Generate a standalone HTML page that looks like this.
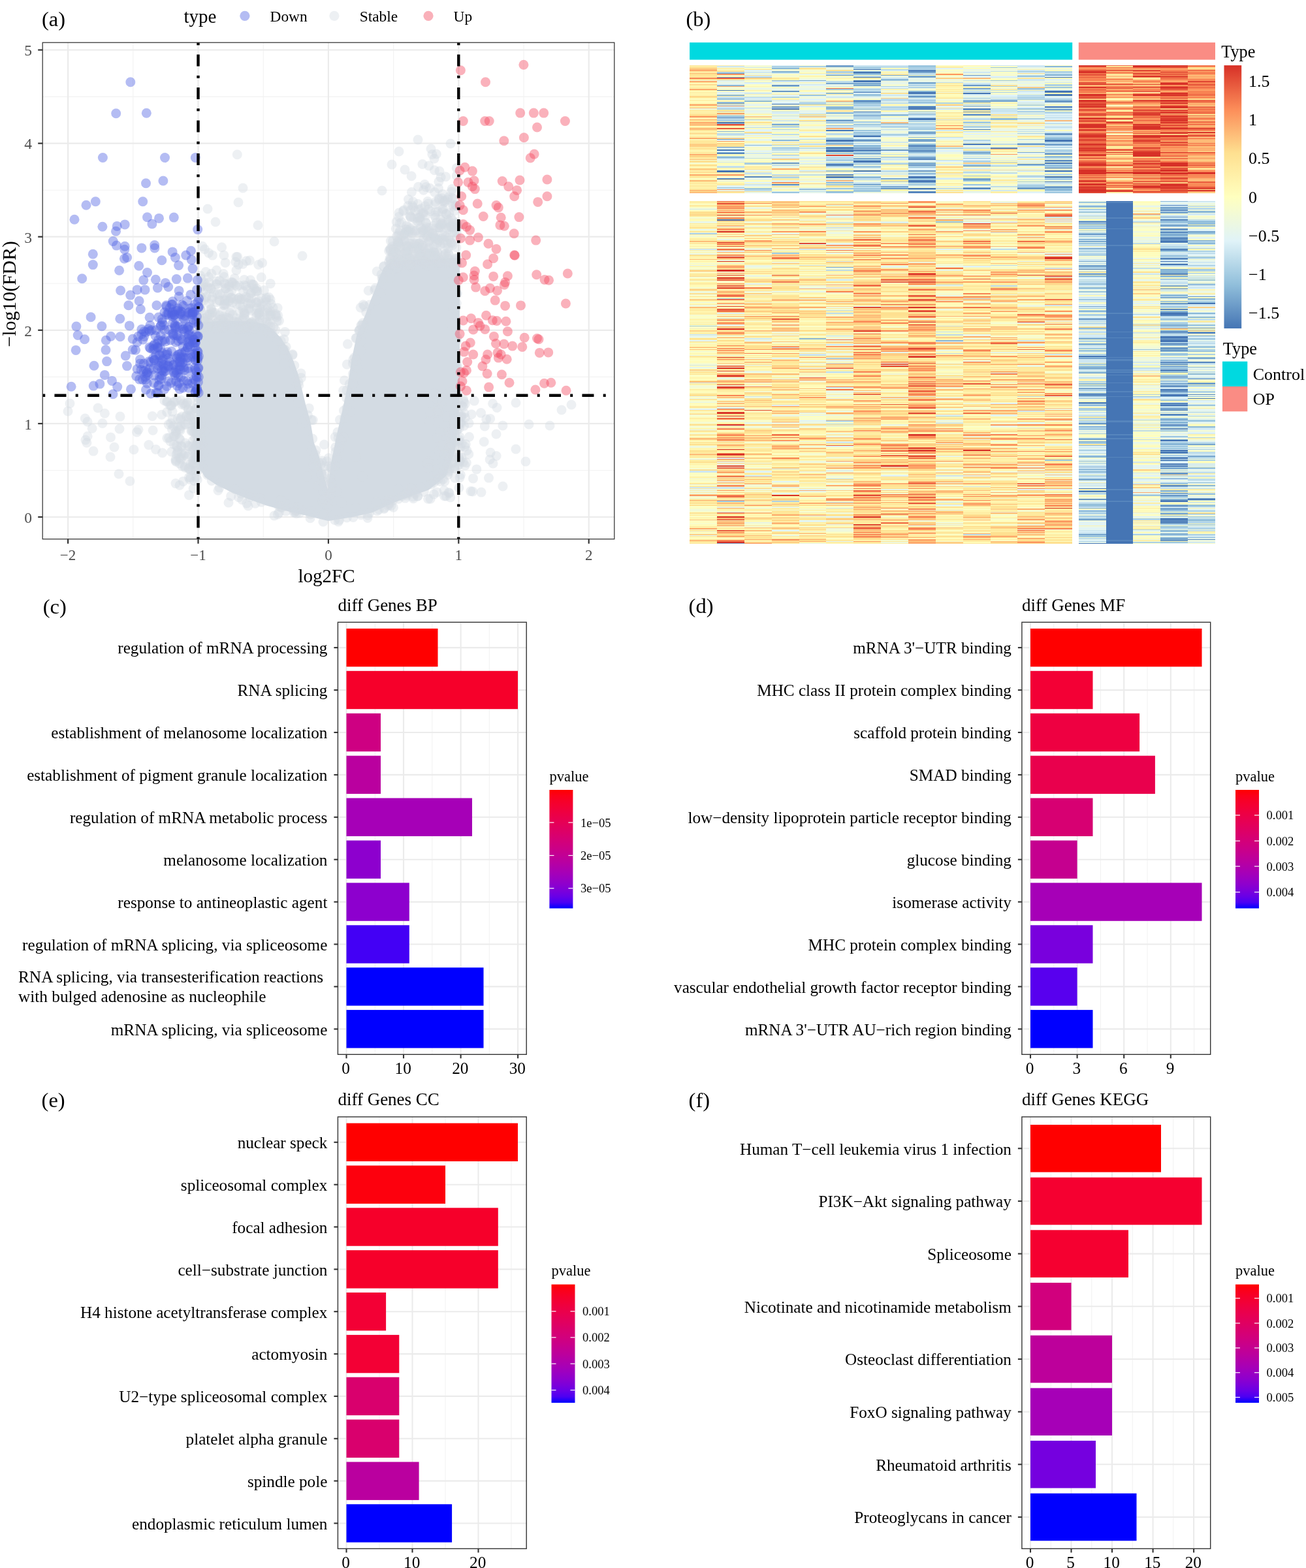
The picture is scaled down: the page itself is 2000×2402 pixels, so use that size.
<!DOCTYPE html>
<html><head><meta charset="utf-8"><title>Figure</title>
<style>html,body{margin:0;padding:0;background:#fff;width:2000px;height:2402px;} ::-webkit-scrollbar{display:none;} svg{display:block;} text{font-family:'Liberation Serif','Times New Roman',serif;}</style>
</head><body>
<svg width="2000" height="2402" viewBox="0 0 2000 2402">
<rect width="2000" height="2402" fill="#fff"/>
<text x="65.7" y="939.6" font-size="32.5" text-anchor="start" fill="#000">(c)</text>
<line x1="574.3" y1="953.2" x2="574.3" y2="1615.3" stroke="#f2f2f2" stroke-width="1.1"/>
<line x1="661.8" y1="953.2" x2="661.8" y2="1615.3" stroke="#f2f2f2" stroke-width="1.1"/>
<line x1="749.3" y1="953.2" x2="749.3" y2="1615.3" stroke="#f2f2f2" stroke-width="1.1"/>
<line x1="530.5" y1="953.2" x2="530.5" y2="1615.3" stroke="#ebebeb" stroke-width="2.1"/>
<line x1="618" y1="953.2" x2="618" y2="1615.3" stroke="#ebebeb" stroke-width="2.1"/>
<line x1="705.6" y1="953.2" x2="705.6" y2="1615.3" stroke="#ebebeb" stroke-width="2.1"/>
<line x1="793.1" y1="953.2" x2="793.1" y2="1615.3" stroke="#ebebeb" stroke-width="2.1"/>
<line x1="517.4" y1="992.1" x2="806.2" y2="992.1" stroke="#ebebeb" stroke-width="2.1"/>
<line x1="517.4" y1="1057.1" x2="806.2" y2="1057.1" stroke="#ebebeb" stroke-width="2.1"/>
<line x1="517.4" y1="1122" x2="806.2" y2="1122" stroke="#ebebeb" stroke-width="2.1"/>
<line x1="517.4" y1="1186.9" x2="806.2" y2="1186.9" stroke="#ebebeb" stroke-width="2.1"/>
<line x1="517.4" y1="1251.8" x2="806.2" y2="1251.8" stroke="#ebebeb" stroke-width="2.1"/>
<line x1="517.4" y1="1316.7" x2="806.2" y2="1316.7" stroke="#ebebeb" stroke-width="2.1"/>
<line x1="517.4" y1="1381.6" x2="806.2" y2="1381.6" stroke="#ebebeb" stroke-width="2.1"/>
<line x1="517.4" y1="1446.5" x2="806.2" y2="1446.5" stroke="#ebebeb" stroke-width="2.1"/>
<line x1="517.4" y1="1511.4" x2="806.2" y2="1511.4" stroke="#ebebeb" stroke-width="2.1"/>
<line x1="517.4" y1="1576.4" x2="806.2" y2="1576.4" stroke="#ebebeb" stroke-width="2.1"/>
<rect x="530.5" y="962.9" width="140" height="58.4" fill="#ff0000"/>
<rect x="530.5" y="1027.8" width="262.5" height="58.4" fill="#f6002a"/>
<rect x="530.5" y="1092.8" width="52.5" height="58.4" fill="#ce0082"/>
<rect x="530.5" y="1157.7" width="52.5" height="58.4" fill="#ba009f"/>
<rect x="530.5" y="1222.6" width="192.5" height="58.4" fill="#a600b7"/>
<rect x="530.5" y="1287.5" width="52.5" height="58.4" fill="#8d00ce"/>
<rect x="530.5" y="1352.4" width="96.3" height="58.4" fill="#8d00ce"/>
<rect x="530.5" y="1417.3" width="96.3" height="58.4" fill="#4300f5"/>
<rect x="530.5" y="1482.2" width="210" height="58.4" fill="#0000ff"/>
<rect x="530.5" y="1547.1" width="210" height="58.4" fill="#0000ff"/>
<rect x="517.4" y="953.2" width="288.8" height="662.1" fill="none" stroke="#333333" stroke-width="1.4"/>
<line x1="511.4" y1="992.1" x2="517.4" y2="992.1" stroke="#333333" stroke-width="2.1"/>
<text x="501.4" y="1001.4" font-size="25.2" text-anchor="end" fill="#000">regulation of mRNA processing</text>
<line x1="511.4" y1="1057.1" x2="517.4" y2="1057.1" stroke="#333333" stroke-width="2.1"/>
<text x="501.4" y="1066.4" font-size="25.2" text-anchor="end" fill="#000">RNA splicing</text>
<line x1="511.4" y1="1122" x2="517.4" y2="1122" stroke="#333333" stroke-width="2.1"/>
<text x="501.4" y="1131.3" font-size="25.2" text-anchor="end" fill="#000">establishment of melanosome localization</text>
<line x1="511.4" y1="1186.9" x2="517.4" y2="1186.9" stroke="#333333" stroke-width="2.1"/>
<text x="501.4" y="1196.2" font-size="25.2" text-anchor="end" fill="#000">establishment of pigment granule localization</text>
<line x1="511.4" y1="1251.8" x2="517.4" y2="1251.8" stroke="#333333" stroke-width="2.1"/>
<text x="501.4" y="1261.1" font-size="25.2" text-anchor="end" fill="#000">regulation of mRNA metabolic process</text>
<line x1="511.4" y1="1316.7" x2="517.4" y2="1316.7" stroke="#333333" stroke-width="2.1"/>
<text x="501.4" y="1326" font-size="25.2" text-anchor="end" fill="#000">melanosome localization</text>
<line x1="511.4" y1="1381.6" x2="517.4" y2="1381.6" stroke="#333333" stroke-width="2.1"/>
<text x="501.4" y="1390.9" font-size="25.2" text-anchor="end" fill="#000">response to antineoplastic agent</text>
<line x1="511.4" y1="1446.5" x2="517.4" y2="1446.5" stroke="#333333" stroke-width="2.1"/>
<text x="501.4" y="1455.8" font-size="25.2" text-anchor="end" fill="#000">regulation of mRNA splicing, via spliceosome</text>
<line x1="511.4" y1="1511.4" x2="517.4" y2="1511.4" stroke="#333333" stroke-width="2.1"/>
<line x1="511.4" y1="1576.4" x2="517.4" y2="1576.4" stroke="#333333" stroke-width="2.1"/>
<text x="501.4" y="1585.7" font-size="25.2" text-anchor="end" fill="#000">mRNA splicing, via spliceosome</text>
<line x1="530.5" y1="1615.3" x2="530.5" y2="1621.3" stroke="#333333" stroke-width="2.1"/>
<text x="529.7" y="1644.8" font-size="25.3" text-anchor="middle" fill="#000">0</text>
<line x1="618" y1="1615.3" x2="618" y2="1621.3" stroke="#333333" stroke-width="2.1"/>
<text x="617.2" y="1644.8" font-size="25.3" text-anchor="middle" fill="#000">10</text>
<line x1="705.6" y1="1615.3" x2="705.6" y2="1621.3" stroke="#333333" stroke-width="2.1"/>
<text x="704.8" y="1644.8" font-size="25.3" text-anchor="middle" fill="#000">20</text>
<line x1="793.1" y1="1615.3" x2="793.1" y2="1621.3" stroke="#333333" stroke-width="2.1"/>
<text x="792.3" y="1644.8" font-size="25.3" text-anchor="middle" fill="#000">30</text>
<text x="517.4" y="935.6" font-size="27" text-anchor="start" fill="#000">diff Genes BP</text>
<defs><linearGradient id="g57" x1="0" y1="0" x2="0" y2="1"><stop offset="0.00" stop-color="#ff0000"/><stop offset="0.05" stop-color="#fb001a"/><stop offset="0.10" stop-color="#f6002a"/><stop offset="0.15" stop-color="#f20037"/><stop offset="0.20" stop-color="#ed0044"/><stop offset="0.25" stop-color="#e80050"/><stop offset="0.30" stop-color="#e3005b"/><stop offset="0.35" stop-color="#dd0066"/><stop offset="0.40" stop-color="#d70072"/><stop offset="0.45" stop-color="#d1007d"/><stop offset="0.50" stop-color="#ca0088"/><stop offset="0.55" stop-color="#c20094"/><stop offset="0.60" stop-color="#ba009f"/><stop offset="0.65" stop-color="#b000ab"/><stop offset="0.70" stop-color="#a600b7"/><stop offset="0.75" stop-color="#9a00c3"/><stop offset="0.80" stop-color="#8d00ce"/><stop offset="0.85" stop-color="#7c00da"/><stop offset="0.90" stop-color="#6800e7"/><stop offset="0.95" stop-color="#4b00f3"/><stop offset="1.00" stop-color="#0000ff"/></linearGradient></defs>
<rect x="841.4" y="1210" width="36" height="181.5" fill="url(#g57)"/>
<text x="841.4" y="1196.5" font-size="22.5" text-anchor="start" fill="#000">pvalue</text>
<line x1="841.4" y1="1260" x2="848.4" y2="1260" stroke="#fff" stroke-width="1.2"/>
<line x1="870.4" y1="1260" x2="877.4" y2="1260" stroke="#fff" stroke-width="1.2"/>
<text x="888.9" y="1266.5" font-size="18.6" text-anchor="start" fill="#000">1e−05</text>
<line x1="841.4" y1="1310.5" x2="848.4" y2="1310.5" stroke="#fff" stroke-width="1.2"/>
<line x1="870.4" y1="1310.5" x2="877.4" y2="1310.5" stroke="#fff" stroke-width="1.2"/>
<text x="888.9" y="1317" font-size="18.6" text-anchor="start" fill="#000">2e−05</text>
<line x1="841.4" y1="1360.8" x2="848.4" y2="1360.8" stroke="#fff" stroke-width="1.2"/>
<line x1="870.4" y1="1360.8" x2="877.4" y2="1360.8" stroke="#fff" stroke-width="1.2"/>
<text x="888.9" y="1367.3" font-size="18.6" text-anchor="start" fill="#000">3e−05</text>
<text x="28" y="1505.4" font-size="25.3" text-anchor="start" fill="#000">RNA splicing, via transesterification reactions</text>
<text x="28" y="1535.4" font-size="25.3" text-anchor="start" fill="#000">with bulged adenosine as nucleophile</text>
<text x="1054.6" y="939.4" font-size="32.5" text-anchor="start" fill="#000">(d)</text>
<line x1="1613.8" y1="953.2" x2="1613.8" y2="1615.3" stroke="#f2f2f2" stroke-width="1.1"/>
<line x1="1685.4" y1="953.2" x2="1685.4" y2="1615.3" stroke="#f2f2f2" stroke-width="1.1"/>
<line x1="1757" y1="953.2" x2="1757" y2="1615.3" stroke="#f2f2f2" stroke-width="1.1"/>
<line x1="1828.6" y1="953.2" x2="1828.6" y2="1615.3" stroke="#f2f2f2" stroke-width="1.1"/>
<line x1="1578" y1="953.2" x2="1578" y2="1615.3" stroke="#ebebeb" stroke-width="2.1"/>
<line x1="1649.6" y1="953.2" x2="1649.6" y2="1615.3" stroke="#ebebeb" stroke-width="2.1"/>
<line x1="1721.2" y1="953.2" x2="1721.2" y2="1615.3" stroke="#ebebeb" stroke-width="2.1"/>
<line x1="1792.8" y1="953.2" x2="1792.8" y2="1615.3" stroke="#ebebeb" stroke-width="2.1"/>
<line x1="1564.9" y1="992.1" x2="1853.7" y2="992.1" stroke="#ebebeb" stroke-width="2.1"/>
<line x1="1564.9" y1="1057.1" x2="1853.7" y2="1057.1" stroke="#ebebeb" stroke-width="2.1"/>
<line x1="1564.9" y1="1122" x2="1853.7" y2="1122" stroke="#ebebeb" stroke-width="2.1"/>
<line x1="1564.9" y1="1186.9" x2="1853.7" y2="1186.9" stroke="#ebebeb" stroke-width="2.1"/>
<line x1="1564.9" y1="1251.8" x2="1853.7" y2="1251.8" stroke="#ebebeb" stroke-width="2.1"/>
<line x1="1564.9" y1="1316.7" x2="1853.7" y2="1316.7" stroke="#ebebeb" stroke-width="2.1"/>
<line x1="1564.9" y1="1381.6" x2="1853.7" y2="1381.6" stroke="#ebebeb" stroke-width="2.1"/>
<line x1="1564.9" y1="1446.5" x2="1853.7" y2="1446.5" stroke="#ebebeb" stroke-width="2.1"/>
<line x1="1564.9" y1="1511.4" x2="1853.7" y2="1511.4" stroke="#ebebeb" stroke-width="2.1"/>
<line x1="1564.9" y1="1576.4" x2="1853.7" y2="1576.4" stroke="#ebebeb" stroke-width="2.1"/>
<rect x="1578" y="962.9" width="262.5" height="58.4" fill="#ff0000"/>
<rect x="1578" y="1027.8" width="95.5" height="58.4" fill="#f30035"/>
<rect x="1578" y="1092.8" width="167.1" height="58.4" fill="#ee0041"/>
<rect x="1578" y="1157.7" width="190.9" height="58.4" fill="#e9004d"/>
<rect x="1578" y="1222.6" width="95.5" height="58.4" fill="#d70072"/>
<rect x="1578" y="1287.5" width="71.6" height="58.4" fill="#c5008f"/>
<rect x="1578" y="1352.4" width="262.5" height="58.4" fill="#a600b7"/>
<rect x="1578" y="1417.3" width="95.5" height="58.4" fill="#7900dd"/>
<rect x="1578" y="1482.2" width="71.6" height="58.4" fill="#5800ee"/>
<rect x="1578" y="1547.1" width="95.5" height="58.4" fill="#0000ff"/>
<rect x="1564.9" y="953.2" width="288.8" height="662.1" fill="none" stroke="#333333" stroke-width="1.4"/>
<line x1="1558.9" y1="992.1" x2="1564.9" y2="992.1" stroke="#333333" stroke-width="2.1"/>
<text x="1548.9" y="1001.4" font-size="25.2" text-anchor="end" fill="#000">mRNA 3'−UTR binding</text>
<line x1="1558.9" y1="1057.1" x2="1564.9" y2="1057.1" stroke="#333333" stroke-width="2.1"/>
<text x="1548.9" y="1066.4" font-size="25.2" text-anchor="end" fill="#000">MHC class II protein complex binding</text>
<line x1="1558.9" y1="1122" x2="1564.9" y2="1122" stroke="#333333" stroke-width="2.1"/>
<text x="1548.9" y="1131.3" font-size="25.2" text-anchor="end" fill="#000">scaffold protein binding</text>
<line x1="1558.9" y1="1186.9" x2="1564.9" y2="1186.9" stroke="#333333" stroke-width="2.1"/>
<text x="1548.9" y="1196.2" font-size="25.2" text-anchor="end" fill="#000">SMAD binding</text>
<line x1="1558.9" y1="1251.8" x2="1564.9" y2="1251.8" stroke="#333333" stroke-width="2.1"/>
<text x="1548.9" y="1261.1" font-size="25.2" text-anchor="end" fill="#000">low−density lipoprotein particle receptor binding</text>
<line x1="1558.9" y1="1316.7" x2="1564.9" y2="1316.7" stroke="#333333" stroke-width="2.1"/>
<text x="1548.9" y="1326" font-size="25.2" text-anchor="end" fill="#000">glucose binding</text>
<line x1="1558.9" y1="1381.6" x2="1564.9" y2="1381.6" stroke="#333333" stroke-width="2.1"/>
<text x="1548.9" y="1390.9" font-size="25.2" text-anchor="end" fill="#000">isomerase activity</text>
<line x1="1558.9" y1="1446.5" x2="1564.9" y2="1446.5" stroke="#333333" stroke-width="2.1"/>
<text x="1548.9" y="1455.8" font-size="25.2" text-anchor="end" fill="#000">MHC protein complex binding</text>
<line x1="1558.9" y1="1511.4" x2="1564.9" y2="1511.4" stroke="#333333" stroke-width="2.1"/>
<text x="1548.9" y="1520.7" font-size="25.2" text-anchor="end" fill="#000">vascular endothelial growth factor receptor binding</text>
<line x1="1558.9" y1="1576.4" x2="1564.9" y2="1576.4" stroke="#333333" stroke-width="2.1"/>
<text x="1548.9" y="1585.7" font-size="25.2" text-anchor="end" fill="#000">mRNA 3'−UTR AU−rich region binding</text>
<line x1="1578" y1="1615.3" x2="1578" y2="1621.3" stroke="#333333" stroke-width="2.1"/>
<text x="1577.2" y="1644.8" font-size="25.3" text-anchor="middle" fill="#000">0</text>
<line x1="1649.6" y1="1615.3" x2="1649.6" y2="1621.3" stroke="#333333" stroke-width="2.1"/>
<text x="1648.8" y="1644.8" font-size="25.3" text-anchor="middle" fill="#000">3</text>
<line x1="1721.2" y1="1615.3" x2="1721.2" y2="1621.3" stroke="#333333" stroke-width="2.1"/>
<text x="1720.4" y="1644.8" font-size="25.3" text-anchor="middle" fill="#000">6</text>
<line x1="1792.8" y1="1615.3" x2="1792.8" y2="1621.3" stroke="#333333" stroke-width="2.1"/>
<text x="1792" y="1644.8" font-size="25.3" text-anchor="middle" fill="#000">9</text>
<text x="1564.9" y="935.6" font-size="27" text-anchor="start" fill="#000">diff Genes MF</text>
<defs><linearGradient id="g130" x1="0" y1="0" x2="0" y2="1"><stop offset="0.00" stop-color="#ff0000"/><stop offset="0.05" stop-color="#fb001a"/><stop offset="0.10" stop-color="#f6002a"/><stop offset="0.15" stop-color="#f20037"/><stop offset="0.20" stop-color="#ed0044"/><stop offset="0.25" stop-color="#e80050"/><stop offset="0.30" stop-color="#e3005b"/><stop offset="0.35" stop-color="#dd0066"/><stop offset="0.40" stop-color="#d70072"/><stop offset="0.45" stop-color="#d1007d"/><stop offset="0.50" stop-color="#ca0088"/><stop offset="0.55" stop-color="#c20094"/><stop offset="0.60" stop-color="#ba009f"/><stop offset="0.65" stop-color="#b000ab"/><stop offset="0.70" stop-color="#a600b7"/><stop offset="0.75" stop-color="#9a00c3"/><stop offset="0.80" stop-color="#8d00ce"/><stop offset="0.85" stop-color="#7c00da"/><stop offset="0.90" stop-color="#6800e7"/><stop offset="0.95" stop-color="#4b00f3"/><stop offset="1.00" stop-color="#0000ff"/></linearGradient></defs>
<rect x="1892" y="1210" width="36" height="181.5" fill="url(#g130)"/>
<text x="1892" y="1196.5" font-size="22.5" text-anchor="start" fill="#000">pvalue</text>
<line x1="1892" y1="1248.8" x2="1899" y2="1248.8" stroke="#fff" stroke-width="1.2"/>
<line x1="1921" y1="1248.8" x2="1928" y2="1248.8" stroke="#fff" stroke-width="1.2"/>
<text x="1939.5" y="1255.3" font-size="18.6" text-anchor="start" fill="#000">0.001</text>
<line x1="1892" y1="1288.2" x2="1899" y2="1288.2" stroke="#fff" stroke-width="1.2"/>
<line x1="1921" y1="1288.2" x2="1928" y2="1288.2" stroke="#fff" stroke-width="1.2"/>
<text x="1939.5" y="1294.7" font-size="18.6" text-anchor="start" fill="#000">0.002</text>
<line x1="1892" y1="1327.1" x2="1899" y2="1327.1" stroke="#fff" stroke-width="1.2"/>
<line x1="1921" y1="1327.1" x2="1928" y2="1327.1" stroke="#fff" stroke-width="1.2"/>
<text x="1939.5" y="1333.6" font-size="18.6" text-anchor="start" fill="#000">0.003</text>
<line x1="1892" y1="1366.6" x2="1899" y2="1366.6" stroke="#fff" stroke-width="1.2"/>
<line x1="1921" y1="1366.6" x2="1928" y2="1366.6" stroke="#fff" stroke-width="1.2"/>
<text x="1939.5" y="1373.1" font-size="18.6" text-anchor="start" fill="#000">0.004</text>
<text x="63.6" y="1695.8" font-size="32.5" text-anchor="start" fill="#000">(e)</text>
<line x1="581" y1="1710.9" x2="581" y2="2372.4" stroke="#f2f2f2" stroke-width="1.1"/>
<line x1="682" y1="1710.9" x2="682" y2="2372.4" stroke="#f2f2f2" stroke-width="1.1"/>
<line x1="783" y1="1710.9" x2="783" y2="2372.4" stroke="#f2f2f2" stroke-width="1.1"/>
<line x1="530.5" y1="1710.9" x2="530.5" y2="2372.4" stroke="#ebebeb" stroke-width="2.1"/>
<line x1="631.5" y1="1710.9" x2="631.5" y2="2372.4" stroke="#ebebeb" stroke-width="2.1"/>
<line x1="732.5" y1="1710.9" x2="732.5" y2="2372.4" stroke="#ebebeb" stroke-width="2.1"/>
<line x1="517.4" y1="1749.8" x2="806.2" y2="1749.8" stroke="#ebebeb" stroke-width="2.1"/>
<line x1="517.4" y1="1814.7" x2="806.2" y2="1814.7" stroke="#ebebeb" stroke-width="2.1"/>
<line x1="517.4" y1="1879.5" x2="806.2" y2="1879.5" stroke="#ebebeb" stroke-width="2.1"/>
<line x1="517.4" y1="1944.4" x2="806.2" y2="1944.4" stroke="#ebebeb" stroke-width="2.1"/>
<line x1="517.4" y1="2009.2" x2="806.2" y2="2009.2" stroke="#ebebeb" stroke-width="2.1"/>
<line x1="517.4" y1="2074.1" x2="806.2" y2="2074.1" stroke="#ebebeb" stroke-width="2.1"/>
<line x1="517.4" y1="2138.9" x2="806.2" y2="2138.9" stroke="#ebebeb" stroke-width="2.1"/>
<line x1="517.4" y1="2203.8" x2="806.2" y2="2203.8" stroke="#ebebeb" stroke-width="2.1"/>
<line x1="517.4" y1="2268.6" x2="806.2" y2="2268.6" stroke="#ebebeb" stroke-width="2.1"/>
<line x1="517.4" y1="2333.5" x2="806.2" y2="2333.5" stroke="#ebebeb" stroke-width="2.1"/>
<rect x="530.5" y="1720.6" width="262.5" height="58.4" fill="#ff0000"/>
<rect x="530.5" y="1785.5" width="151.5" height="58.4" fill="#fd000d"/>
<rect x="530.5" y="1850.3" width="232.3" height="58.4" fill="#f6002a"/>
<rect x="530.5" y="1915.2" width="232.3" height="58.4" fill="#f6002a"/>
<rect x="530.5" y="1980" width="60.6" height="58.4" fill="#f30035"/>
<rect x="530.5" y="2044.9" width="80.8" height="58.4" fill="#f30035"/>
<rect x="530.5" y="2109.7" width="80.8" height="58.4" fill="#d9006d"/>
<rect x="530.5" y="2174.6" width="80.8" height="58.4" fill="#d9006d"/>
<rect x="530.5" y="2239.5" width="111.1" height="58.4" fill="#ba009f"/>
<rect x="530.5" y="2304.3" width="161.6" height="58.4" fill="#0000ff"/>
<rect x="517.4" y="1710.9" width="288.8" height="661.5" fill="none" stroke="#333333" stroke-width="1.4"/>
<line x1="511.4" y1="1749.8" x2="517.4" y2="1749.8" stroke="#333333" stroke-width="2.1"/>
<text x="501.4" y="1759.1" font-size="25.2" text-anchor="end" fill="#000">nuclear speck</text>
<line x1="511.4" y1="1814.7" x2="517.4" y2="1814.7" stroke="#333333" stroke-width="2.1"/>
<text x="501.4" y="1824" font-size="25.2" text-anchor="end" fill="#000">spliceosomal complex</text>
<line x1="511.4" y1="1879.5" x2="517.4" y2="1879.5" stroke="#333333" stroke-width="2.1"/>
<text x="501.4" y="1888.8" font-size="25.2" text-anchor="end" fill="#000">focal adhesion</text>
<line x1="511.4" y1="1944.4" x2="517.4" y2="1944.4" stroke="#333333" stroke-width="2.1"/>
<text x="501.4" y="1953.7" font-size="25.2" text-anchor="end" fill="#000">cell−substrate junction</text>
<line x1="511.4" y1="2009.2" x2="517.4" y2="2009.2" stroke="#333333" stroke-width="2.1"/>
<text x="501.4" y="2018.5" font-size="25.2" text-anchor="end" fill="#000">H4 histone acetyltransferase complex</text>
<line x1="511.4" y1="2074.1" x2="517.4" y2="2074.1" stroke="#333333" stroke-width="2.1"/>
<text x="501.4" y="2083.4" font-size="25.2" text-anchor="end" fill="#000">actomyosin</text>
<line x1="511.4" y1="2138.9" x2="517.4" y2="2138.9" stroke="#333333" stroke-width="2.1"/>
<text x="501.4" y="2148.2" font-size="25.2" text-anchor="end" fill="#000">U2−type spliceosomal complex</text>
<line x1="511.4" y1="2203.8" x2="517.4" y2="2203.8" stroke="#333333" stroke-width="2.1"/>
<text x="501.4" y="2213.1" font-size="25.2" text-anchor="end" fill="#000">platelet alpha granule</text>
<line x1="511.4" y1="2268.6" x2="517.4" y2="2268.6" stroke="#333333" stroke-width="2.1"/>
<text x="501.4" y="2277.9" font-size="25.2" text-anchor="end" fill="#000">spindle pole</text>
<line x1="511.4" y1="2333.5" x2="517.4" y2="2333.5" stroke="#333333" stroke-width="2.1"/>
<text x="501.4" y="2342.8" font-size="25.2" text-anchor="end" fill="#000">endoplasmic reticulum lumen</text>
<line x1="530.5" y1="2372.4" x2="530.5" y2="2378.4" stroke="#333333" stroke-width="2.1"/>
<text x="529.7" y="2401.9" font-size="25.3" text-anchor="middle" fill="#000">0</text>
<line x1="631.5" y1="2372.4" x2="631.5" y2="2378.4" stroke="#333333" stroke-width="2.1"/>
<text x="630.7" y="2401.9" font-size="25.3" text-anchor="middle" fill="#000">10</text>
<line x1="732.5" y1="2372.4" x2="732.5" y2="2378.4" stroke="#333333" stroke-width="2.1"/>
<text x="731.7" y="2401.9" font-size="25.3" text-anchor="middle" fill="#000">20</text>
<text x="517.4" y="1693.3" font-size="27" text-anchor="start" fill="#000">diff Genes CC</text>
<defs><linearGradient id="g200" x1="0" y1="0" x2="0" y2="1"><stop offset="0.00" stop-color="#ff0000"/><stop offset="0.05" stop-color="#fb001a"/><stop offset="0.10" stop-color="#f6002a"/><stop offset="0.15" stop-color="#f20037"/><stop offset="0.20" stop-color="#ed0044"/><stop offset="0.25" stop-color="#e80050"/><stop offset="0.30" stop-color="#e3005b"/><stop offset="0.35" stop-color="#dd0066"/><stop offset="0.40" stop-color="#d70072"/><stop offset="0.45" stop-color="#d1007d"/><stop offset="0.50" stop-color="#ca0088"/><stop offset="0.55" stop-color="#c20094"/><stop offset="0.60" stop-color="#ba009f"/><stop offset="0.65" stop-color="#b000ab"/><stop offset="0.70" stop-color="#a600b7"/><stop offset="0.75" stop-color="#9a00c3"/><stop offset="0.80" stop-color="#8d00ce"/><stop offset="0.85" stop-color="#7c00da"/><stop offset="0.90" stop-color="#6800e7"/><stop offset="0.95" stop-color="#4b00f3"/><stop offset="1.00" stop-color="#0000ff"/></linearGradient></defs>
<rect x="844.5" y="1967.6" width="36" height="181.3" fill="url(#g200)"/>
<text x="844.5" y="1954.1" font-size="22.5" text-anchor="start" fill="#000">pvalue</text>
<line x1="844.5" y1="2008.8" x2="851.5" y2="2008.8" stroke="#fff" stroke-width="1.2"/>
<line x1="873.5" y1="2008.8" x2="880.5" y2="2008.8" stroke="#fff" stroke-width="1.2"/>
<text x="892" y="2015.3" font-size="18.6" text-anchor="start" fill="#000">0.001</text>
<line x1="844.5" y1="2048.8" x2="851.5" y2="2048.8" stroke="#fff" stroke-width="1.2"/>
<line x1="873.5" y1="2048.8" x2="880.5" y2="2048.8" stroke="#fff" stroke-width="1.2"/>
<text x="892" y="2055.3" font-size="18.6" text-anchor="start" fill="#000">0.002</text>
<line x1="844.5" y1="2089.1" x2="851.5" y2="2089.1" stroke="#fff" stroke-width="1.2"/>
<line x1="873.5" y1="2089.1" x2="880.5" y2="2089.1" stroke="#fff" stroke-width="1.2"/>
<text x="892" y="2095.6" font-size="18.6" text-anchor="start" fill="#000">0.003</text>
<line x1="844.5" y1="2129.5" x2="851.5" y2="2129.5" stroke="#fff" stroke-width="1.2"/>
<line x1="873.5" y1="2129.5" x2="880.5" y2="2129.5" stroke="#fff" stroke-width="1.2"/>
<text x="892" y="2136" font-size="18.6" text-anchor="start" fill="#000">0.004</text>
<text x="1054.6" y="1695.8" font-size="32.5" text-anchor="start" fill="#000">(f)</text>
<line x1="1609.3" y1="1710.9" x2="1609.3" y2="2372.4" stroke="#f2f2f2" stroke-width="1.1"/>
<line x1="1671.8" y1="1710.9" x2="1671.8" y2="2372.4" stroke="#f2f2f2" stroke-width="1.1"/>
<line x1="1734.3" y1="1710.9" x2="1734.3" y2="2372.4" stroke="#f2f2f2" stroke-width="1.1"/>
<line x1="1796.8" y1="1710.9" x2="1796.8" y2="2372.4" stroke="#f2f2f2" stroke-width="1.1"/>
<line x1="1578" y1="1710.9" x2="1578" y2="2372.4" stroke="#ebebeb" stroke-width="2.1"/>
<line x1="1640.5" y1="1710.9" x2="1640.5" y2="2372.4" stroke="#ebebeb" stroke-width="2.1"/>
<line x1="1703" y1="1710.9" x2="1703" y2="2372.4" stroke="#ebebeb" stroke-width="2.1"/>
<line x1="1765.6" y1="1710.9" x2="1765.6" y2="2372.4" stroke="#ebebeb" stroke-width="2.1"/>
<line x1="1828.1" y1="1710.9" x2="1828.1" y2="2372.4" stroke="#ebebeb" stroke-width="2.1"/>
<line x1="1564.9" y1="1759.3" x2="1853.7" y2="1759.3" stroke="#ebebeb" stroke-width="2.1"/>
<line x1="1564.9" y1="1840" x2="1853.7" y2="1840" stroke="#ebebeb" stroke-width="2.1"/>
<line x1="1564.9" y1="1920.6" x2="1853.7" y2="1920.6" stroke="#ebebeb" stroke-width="2.1"/>
<line x1="1564.9" y1="2001.3" x2="1853.7" y2="2001.3" stroke="#ebebeb" stroke-width="2.1"/>
<line x1="1564.9" y1="2082" x2="1853.7" y2="2082" stroke="#ebebeb" stroke-width="2.1"/>
<line x1="1564.9" y1="2162.7" x2="1853.7" y2="2162.7" stroke="#ebebeb" stroke-width="2.1"/>
<line x1="1564.9" y1="2243.3" x2="1853.7" y2="2243.3" stroke="#ebebeb" stroke-width="2.1"/>
<line x1="1564.9" y1="2324" x2="1853.7" y2="2324" stroke="#ebebeb" stroke-width="2.1"/>
<rect x="1578" y="1723" width="200" height="72.6" fill="#ff0000"/>
<rect x="1578" y="1803.7" width="262.5" height="72.6" fill="#f50030"/>
<rect x="1578" y="1884.3" width="150" height="72.6" fill="#f50030"/>
<rect x="1578" y="1965" width="62.5" height="72.6" fill="#d1007d"/>
<rect x="1578" y="2045.7" width="125" height="72.6" fill="#bd009b"/>
<rect x="1578" y="2126.4" width="125" height="72.6" fill="#a600b7"/>
<rect x="1578" y="2207" width="100" height="72.6" fill="#7500df"/>
<rect x="1578" y="2287.7" width="162.5" height="72.6" fill="#0000ff"/>
<rect x="1564.9" y="1710.9" width="288.8" height="661.5" fill="none" stroke="#333333" stroke-width="1.4"/>
<line x1="1558.9" y1="1759.3" x2="1564.9" y2="1759.3" stroke="#333333" stroke-width="2.1"/>
<text x="1548.9" y="1768.6" font-size="25.2" text-anchor="end" fill="#000">Human T−cell leukemia virus 1 infection</text>
<line x1="1558.9" y1="1840" x2="1564.9" y2="1840" stroke="#333333" stroke-width="2.1"/>
<text x="1548.9" y="1849.3" font-size="25.2" text-anchor="end" fill="#000">PI3K−Akt signaling pathway</text>
<line x1="1558.9" y1="1920.6" x2="1564.9" y2="1920.6" stroke="#333333" stroke-width="2.1"/>
<text x="1548.9" y="1929.9" font-size="25.2" text-anchor="end" fill="#000">Spliceosome</text>
<line x1="1558.9" y1="2001.3" x2="1564.9" y2="2001.3" stroke="#333333" stroke-width="2.1"/>
<text x="1548.9" y="2010.6" font-size="25.2" text-anchor="end" fill="#000">Nicotinate and nicotinamide metabolism</text>
<line x1="1558.9" y1="2082" x2="1564.9" y2="2082" stroke="#333333" stroke-width="2.1"/>
<text x="1548.9" y="2091.3" font-size="25.2" text-anchor="end" fill="#000">Osteoclast differentiation</text>
<line x1="1558.9" y1="2162.7" x2="1564.9" y2="2162.7" stroke="#333333" stroke-width="2.1"/>
<text x="1548.9" y="2172" font-size="25.2" text-anchor="end" fill="#000">FoxO signaling pathway</text>
<line x1="1558.9" y1="2243.3" x2="1564.9" y2="2243.3" stroke="#333333" stroke-width="2.1"/>
<text x="1548.9" y="2252.6" font-size="25.2" text-anchor="end" fill="#000">Rheumatoid arthritis</text>
<line x1="1558.9" y1="2324" x2="1564.9" y2="2324" stroke="#333333" stroke-width="2.1"/>
<text x="1548.9" y="2333.3" font-size="25.2" text-anchor="end" fill="#000">Proteoglycans in cancer</text>
<line x1="1578" y1="2372.4" x2="1578" y2="2378.4" stroke="#333333" stroke-width="2.1"/>
<text x="1577.2" y="2401.9" font-size="25.3" text-anchor="middle" fill="#000">0</text>
<line x1="1640.5" y1="2372.4" x2="1640.5" y2="2378.4" stroke="#333333" stroke-width="2.1"/>
<text x="1639.7" y="2401.9" font-size="25.3" text-anchor="middle" fill="#000">5</text>
<line x1="1703" y1="2372.4" x2="1703" y2="2378.4" stroke="#333333" stroke-width="2.1"/>
<text x="1702.2" y="2401.9" font-size="25.3" text-anchor="middle" fill="#000">10</text>
<line x1="1765.6" y1="2372.4" x2="1765.6" y2="2378.4" stroke="#333333" stroke-width="2.1"/>
<text x="1764.8" y="2401.9" font-size="25.3" text-anchor="middle" fill="#000">15</text>
<line x1="1828.1" y1="2372.4" x2="1828.1" y2="2378.4" stroke="#333333" stroke-width="2.1"/>
<text x="1827.3" y="2401.9" font-size="25.3" text-anchor="middle" fill="#000">20</text>
<text x="1564.9" y="1693.3" font-size="27" text-anchor="start" fill="#000">diff Genes KEGG</text>
<defs><linearGradient id="g269" x1="0" y1="0" x2="0" y2="1"><stop offset="0.00" stop-color="#ff0000"/><stop offset="0.05" stop-color="#fb001a"/><stop offset="0.10" stop-color="#f6002a"/><stop offset="0.15" stop-color="#f20037"/><stop offset="0.20" stop-color="#ed0044"/><stop offset="0.25" stop-color="#e80050"/><stop offset="0.30" stop-color="#e3005b"/><stop offset="0.35" stop-color="#dd0066"/><stop offset="0.40" stop-color="#d70072"/><stop offset="0.45" stop-color="#d1007d"/><stop offset="0.50" stop-color="#ca0088"/><stop offset="0.55" stop-color="#c20094"/><stop offset="0.60" stop-color="#ba009f"/><stop offset="0.65" stop-color="#b000ab"/><stop offset="0.70" stop-color="#a600b7"/><stop offset="0.75" stop-color="#9a00c3"/><stop offset="0.80" stop-color="#8d00ce"/><stop offset="0.85" stop-color="#7c00da"/><stop offset="0.90" stop-color="#6800e7"/><stop offset="0.95" stop-color="#4b00f3"/><stop offset="1.00" stop-color="#0000ff"/></linearGradient></defs>
<rect x="1892" y="1967.6" width="36" height="181.3" fill="url(#g269)"/>
<text x="1892" y="1954.1" font-size="22.5" text-anchor="start" fill="#000">pvalue</text>
<line x1="1892" y1="1988.8" x2="1899" y2="1988.8" stroke="#fff" stroke-width="1.2"/>
<line x1="1921" y1="1988.8" x2="1928" y2="1988.8" stroke="#fff" stroke-width="1.2"/>
<text x="1939.5" y="1995.3" font-size="18.6" text-anchor="start" fill="#000">0.001</text>
<line x1="1892" y1="2027" x2="1899" y2="2027" stroke="#fff" stroke-width="1.2"/>
<line x1="1921" y1="2027" x2="1928" y2="2027" stroke="#fff" stroke-width="1.2"/>
<text x="1939.5" y="2033.5" font-size="18.6" text-anchor="start" fill="#000">0.002</text>
<line x1="1892" y1="2064.9" x2="1899" y2="2064.9" stroke="#fff" stroke-width="1.2"/>
<line x1="1921" y1="2064.9" x2="1928" y2="2064.9" stroke="#fff" stroke-width="1.2"/>
<text x="1939.5" y="2071.4" font-size="18.6" text-anchor="start" fill="#000">0.003</text>
<line x1="1892" y1="2102.7" x2="1899" y2="2102.7" stroke="#fff" stroke-width="1.2"/>
<line x1="1921" y1="2102.7" x2="1928" y2="2102.7" stroke="#fff" stroke-width="1.2"/>
<text x="1939.5" y="2109.2" font-size="18.6" text-anchor="start" fill="#000">0.004</text>
<line x1="1892" y1="2140.5" x2="1899" y2="2140.5" stroke="#fff" stroke-width="1.2"/>
<line x1="1921" y1="2140.5" x2="1928" y2="2140.5" stroke="#fff" stroke-width="1.2"/>
<text x="1939.5" y="2147" font-size="18.6" text-anchor="start" fill="#000">0.005</text>
<line x1="203.8" y1="65.2" x2="203.8" y2="825.8" stroke="#f2f2f2" stroke-width="1.1"/>
<line x1="403.2" y1="65.2" x2="403.2" y2="825.8" stroke="#f2f2f2" stroke-width="1.1"/>
<line x1="602.6" y1="65.2" x2="602.6" y2="825.8" stroke="#f2f2f2" stroke-width="1.1"/>
<line x1="802" y1="65.2" x2="802" y2="825.8" stroke="#f2f2f2" stroke-width="1.1"/>
<line x1="65.2" y1="720.5" x2="940.8" y2="720.5" stroke="#f2f2f2" stroke-width="1.1"/>
<line x1="65.2" y1="577.4" x2="940.8" y2="577.4" stroke="#f2f2f2" stroke-width="1.1"/>
<line x1="65.2" y1="434.2" x2="940.8" y2="434.2" stroke="#f2f2f2" stroke-width="1.1"/>
<line x1="65.2" y1="291.2" x2="940.8" y2="291.2" stroke="#f2f2f2" stroke-width="1.1"/>
<line x1="65.2" y1="148.1" x2="940.8" y2="148.1" stroke="#f2f2f2" stroke-width="1.1"/>
<line x1="104.1" y1="65.2" x2="104.1" y2="825.8" stroke="#ebebeb" stroke-width="2.2"/>
<line x1="303.5" y1="65.2" x2="303.5" y2="825.8" stroke="#ebebeb" stroke-width="2.2"/>
<line x1="502.9" y1="65.2" x2="502.9" y2="825.8" stroke="#ebebeb" stroke-width="2.2"/>
<line x1="702.3" y1="65.2" x2="702.3" y2="825.8" stroke="#ebebeb" stroke-width="2.2"/>
<line x1="901.7" y1="65.2" x2="901.7" y2="825.8" stroke="#ebebeb" stroke-width="2.2"/>
<line x1="65.2" y1="792" x2="940.8" y2="792" stroke="#ebebeb" stroke-width="2.2"/>
<line x1="65.2" y1="648.9" x2="940.8" y2="648.9" stroke="#ebebeb" stroke-width="2.2"/>
<line x1="65.2" y1="505.8" x2="940.8" y2="505.8" stroke="#ebebeb" stroke-width="2.2"/>
<line x1="65.2" y1="362.7" x2="940.8" y2="362.7" stroke="#ebebeb" stroke-width="2.2"/>
<line x1="65.2" y1="219.6" x2="940.8" y2="219.6" stroke="#ebebeb" stroke-width="2.2"/>
<line x1="65.2" y1="76.5" x2="940.8" y2="76.5" stroke="#ebebeb" stroke-width="2.2"/>
<clipPath id="pclip"><rect x="65.2" y="65.2" width="875.6" height="760.6"/></clipPath>
<g clip-path="url(#pclip)">
<polygon points="306.2,497 340,494 380,495 405,499 416,507 428,520 438,535 447,555 454,575 459,595 465.2,620.5 472.8,648.3 477.8,678.6 485.4,698.8 493,729.1 503.1,764.4 510,709.9 519,664.9 528,625.9 535.5,589.9 541.5,550.9 549,514.9 562,484 570,462 577,445 583,428 590,412 600,403 640,400 701,398 701,605 699,640 694,690 680,728 655,748 632,756 600,768 570,782 540,789 503,795 470.3,787 432.4,778 407.2,771 381.9,761.9 356.7,751.8 331.4,739.2 316.3,729.1 308.7,716.5 303.6,700 303.6,500" fill="#d3dbe3" stroke="#d3dbe3" stroke-width="6" stroke-linejoin="round"/>
<g fill="#d3dbe3" fill-opacity="0.42"><circle cx="648.9" cy="394.7" r="7.5"/><circle cx="677.5" cy="398.2" r="7.5"/><circle cx="482" cy="715.4" r="7.5"/><circle cx="451.5" cy="784.2" r="7.5"/><circle cx="448.1" cy="542.7" r="7.5"/><circle cx="396.7" cy="493.8" r="7.5"/><circle cx="679.4" cy="721.1" r="7.5"/><circle cx="331.6" cy="494.2" r="7.5"/><circle cx="492.2" cy="727.1" r="7.5"/><circle cx="671.8" cy="402.5" r="7.5"/><circle cx="696.9" cy="474.5" r="7.5"/><circle cx="667.5" cy="735.7" r="7.5"/><circle cx="314.1" cy="500" r="7.5"/><circle cx="595.9" cy="772.8" r="7.5"/><circle cx="536.4" cy="630.3" r="7.5"/><circle cx="585" cy="426.7" r="7.5"/><circle cx="303.7" cy="572.5" r="7.5"/><circle cx="507.1" cy="756.7" r="7.5"/><circle cx="695.7" cy="676.5" r="7.5"/><circle cx="435.3" cy="557" r="7.5"/><circle cx="512.8" cy="796.7" r="7.5"/><circle cx="460.8" cy="571.9" r="7.5"/><circle cx="481" cy="701.4" r="7.5"/><circle cx="492" cy="723.7" r="7.5"/><circle cx="692.5" cy="709.6" r="7.5"/><circle cx="501.4" cy="777.7" r="7.5"/><circle cx="425.3" cy="787.9" r="7.5"/><circle cx="493.9" cy="768.5" r="7.5"/><circle cx="702.8" cy="712.3" r="7.5"/><circle cx="502.8" cy="771.9" r="7.5"/><circle cx="540.3" cy="556.7" r="7.5"/><circle cx="441" cy="547.6" r="7.5"/><circle cx="695.4" cy="633.9" r="7.5"/><circle cx="324.2" cy="736.4" r="7.5"/><circle cx="305.3" cy="659.5" r="7.5"/><circle cx="491.1" cy="712" r="7.5"/><circle cx="506.1" cy="733.5" r="7.5"/><circle cx="697.1" cy="634.8" r="7.5"/><circle cx="380.7" cy="494" r="7.5"/><circle cx="602.4" cy="777.2" r="7.5"/><circle cx="699.2" cy="624" r="7.5"/><circle cx="580.3" cy="780.5" r="7.5"/><circle cx="527.5" cy="640.2" r="7.5"/><circle cx="335.6" cy="500.3" r="7.5"/><circle cx="416.4" cy="510.3" r="7.5"/><circle cx="311.6" cy="694.3" r="7.5"/><circle cx="623.1" cy="756.8" r="7.5"/><circle cx="382.1" cy="496.1" r="7.5"/><circle cx="610.2" cy="764.3" r="7.5"/><circle cx="684.1" cy="693.8" r="7.5"/><circle cx="540.3" cy="572.8" r="7.5"/><circle cx="700" cy="517" r="7.5"/><circle cx="544.6" cy="777.9" r="7.5"/><circle cx="298.6" cy="658" r="7.5"/><circle cx="307.5" cy="673" r="7.5"/><circle cx="456.6" cy="777.2" r="7.5"/><circle cx="690.4" cy="677.5" r="7.5"/><circle cx="705.5" cy="647.1" r="7.5"/><circle cx="310.1" cy="502.1" r="7.5"/><circle cx="573.6" cy="444.4" r="7.5"/><circle cx="640.1" cy="398.1" r="7.5"/><circle cx="531.2" cy="793" r="7.5"/><circle cx="691.7" cy="431.3" r="7.5"/><circle cx="519.5" cy="685.9" r="7.5"/><circle cx="649.3" cy="753.5" r="7.5"/><circle cx="300.4" cy="663.2" r="7.5"/><circle cx="299.8" cy="701" r="7.5"/><circle cx="487.2" cy="744.6" r="7.5"/><circle cx="307.6" cy="649" r="7.5"/><circle cx="699.8" cy="599.1" r="7.5"/><circle cx="596" cy="770.5" r="7.5"/><circle cx="477.4" cy="690.1" r="7.5"/><circle cx="496.9" cy="764.9" r="7.5"/><circle cx="696.8" cy="443" r="7.5"/><circle cx="364.7" cy="493.4" r="7.5"/><circle cx="591.8" cy="767.8" r="7.5"/><circle cx="453.2" cy="782.6" r="7.5"/><circle cx="675.2" cy="400.8" r="7.5"/><circle cx="510" cy="720" r="7.5"/><circle cx="687.7" cy="682.8" r="7.5"/><circle cx="685.9" cy="712.2" r="7.5"/><circle cx="639.3" cy="760.1" r="7.5"/><circle cx="493.2" cy="705.8" r="7.5"/><circle cx="588.8" cy="778.1" r="7.5"/><circle cx="544.8" cy="518.3" r="7.5"/><circle cx="697.9" cy="648" r="7.5"/><circle cx="451.4" cy="780.7" r="7.5"/><circle cx="303.1" cy="616.3" r="7.5"/><circle cx="654.2" cy="390.7" r="7.5"/><circle cx="556.3" cy="466.7" r="7.5"/><circle cx="446.6" cy="777.9" r="7.5"/><circle cx="685.9" cy="727.2" r="7.5"/><circle cx="397.4" cy="762.7" r="7.5"/><circle cx="515.8" cy="753.3" r="7.5"/><circle cx="547.7" cy="564.3" r="7.5"/><circle cx="553.2" cy="522.6" r="7.5"/><circle cx="358.7" cy="492.6" r="7.5"/><circle cx="437.7" cy="783.1" r="7.5"/><circle cx="458.6" cy="786.2" r="7.5"/><circle cx="699.3" cy="464.3" r="7.5"/><circle cx="634.9" cy="755" r="7.5"/><circle cx="306.9" cy="590.9" r="7.5"/><circle cx="698.8" cy="501.8" r="7.5"/><circle cx="680.8" cy="695.9" r="7.5"/><circle cx="699" cy="559.1" r="7.5"/><circle cx="360" cy="749.7" r="7.5"/><circle cx="354.5" cy="746.1" r="7.5"/><circle cx="700" cy="449.5" r="7.5"/><circle cx="427.3" cy="775.7" r="7.5"/><circle cx="632.4" cy="760.9" r="7.5"/><circle cx="604.7" cy="406.3" r="7.5"/><circle cx="516.9" cy="662.1" r="7.5"/><circle cx="631.2" cy="390.2" r="7.5"/><circle cx="699.5" cy="404.9" r="7.5"/><circle cx="699.6" cy="658.4" r="7.5"/><circle cx="475.5" cy="787.9" r="7.5"/><circle cx="504.7" cy="732.6" r="7.5"/><circle cx="550.1" cy="506.1" r="7.5"/><circle cx="563.2" cy="789.3" r="7.5"/><circle cx="515.2" cy="701.4" r="7.5"/><circle cx="628" cy="404.6" r="7.5"/><circle cx="690.2" cy="679" r="7.5"/><circle cx="338.9" cy="740" r="7.5"/><circle cx="507.2" cy="717.3" r="7.5"/><circle cx="301.7" cy="678.2" r="7.5"/><circle cx="307.5" cy="656.4" r="7.5"/><circle cx="306.7" cy="704.4" r="7.5"/><circle cx="566" cy="785.4" r="7.5"/><circle cx="370.6" cy="765.4" r="7.5"/><circle cx="456.4" cy="617.2" r="7.5"/><circle cx="341" cy="502.1" r="7.5"/><circle cx="306.3" cy="657.4" r="7.5"/><circle cx="636" cy="756.8" r="7.5"/><circle cx="461.3" cy="578.8" r="7.5"/><circle cx="698.2" cy="470.3" r="7.5"/><circle cx="492.7" cy="725.8" r="7.5"/><circle cx="305.8" cy="512.7" r="7.5"/><circle cx="422" cy="505.4" r="7.5"/><circle cx="494.9" cy="799.2" r="7.5"/><circle cx="694.3" cy="475.6" r="7.5"/><circle cx="327.1" cy="484.8" r="7.5"/><circle cx="479.5" cy="712.5" r="7.5"/><circle cx="586.4" cy="426" r="7.5"/><circle cx="429" cy="767.4" r="7.5"/><circle cx="688.8" cy="684.8" r="7.5"/><circle cx="523.4" cy="676.4" r="7.5"/><circle cx="476.5" cy="782.8" r="7.5"/><circle cx="309.8" cy="679.2" r="7.5"/><circle cx="493.8" cy="787" r="7.5"/><circle cx="577.5" cy="782.8" r="7.5"/><circle cx="695.7" cy="398.7" r="7.5"/><circle cx="688.5" cy="694.3" r="7.5"/><circle cx="669.5" cy="728.6" r="7.5"/><circle cx="583" cy="449.7" r="7.5"/><circle cx="609.7" cy="749.4" r="7.5"/><circle cx="341" cy="488.2" r="7.5"/><circle cx="513.7" cy="685.2" r="7.5"/><circle cx="492.9" cy="736.8" r="7.5"/><circle cx="518.9" cy="690.6" r="7.5"/><circle cx="425.2" cy="521.9" r="7.5"/><circle cx="391.3" cy="495" r="7.5"/><circle cx="699.1" cy="403.8" r="7.5"/><circle cx="710.6" cy="652.3" r="7.5"/><circle cx="595.5" cy="401.5" r="7.5"/><circle cx="557.4" cy="498.4" r="7.5"/><circle cx="699.2" cy="563.8" r="7.5"/><circle cx="534.6" cy="614.2" r="7.5"/><circle cx="389.2" cy="503.3" r="7.5"/><circle cx="582.6" cy="443.6" r="7.5"/><circle cx="410.7" cy="496.9" r="7.5"/><circle cx="434.9" cy="519.8" r="7.5"/><circle cx="699.7" cy="397" r="7.5"/><circle cx="705.1" cy="638.9" r="7.5"/><circle cx="667.1" cy="400.9" r="7.5"/><circle cx="659.9" cy="741.9" r="7.5"/><circle cx="692.7" cy="599.4" r="7.5"/><circle cx="552.6" cy="788.8" r="7.5"/><circle cx="305.2" cy="684.5" r="7.5"/><circle cx="553.6" cy="509.7" r="7.5"/><circle cx="694.5" cy="558.8" r="7.5"/><circle cx="519.7" cy="796.4" r="7.5"/><circle cx="313.4" cy="527.4" r="7.5"/><circle cx="382.3" cy="496.6" r="7.5"/><circle cx="609.1" cy="400.4" r="7.5"/><circle cx="644.1" cy="746.8" r="7.5"/><circle cx="560.6" cy="478.2" r="7.5"/><circle cx="545.9" cy="517.7" r="7.5"/><circle cx="438.2" cy="531.2" r="7.5"/><circle cx="696.4" cy="666.6" r="7.5"/><circle cx="608.9" cy="412.3" r="7.5"/><circle cx="552.2" cy="471.3" r="7.5"/><circle cx="531.3" cy="558.3" r="7.5"/><circle cx="298.9" cy="643" r="7.5"/><circle cx="450.8" cy="559.8" r="7.5"/><circle cx="433.4" cy="535.3" r="7.5"/><circle cx="633" cy="763.7" r="7.5"/><circle cx="434.5" cy="534.9" r="7.5"/><circle cx="435.3" cy="544" r="7.5"/><circle cx="620.4" cy="763.1" r="7.5"/><circle cx="552.9" cy="498.5" r="7.5"/><circle cx="457.7" cy="590.2" r="7.5"/><circle cx="314.9" cy="640.3" r="7.5"/><circle cx="635.8" cy="396" r="7.5"/><circle cx="527.4" cy="582.7" r="7.5"/><circle cx="303.7" cy="693.6" r="7.5"/><circle cx="555.6" cy="494.8" r="7.5"/><circle cx="576.1" cy="459.8" r="7.5"/><circle cx="430.2" cy="777.2" r="7.5"/><circle cx="307.4" cy="714.1" r="7.5"/><circle cx="694.2" cy="471.1" r="7.5"/><circle cx="409.5" cy="507.2" r="7.5"/><circle cx="447.9" cy="543.9" r="7.5"/><circle cx="310.3" cy="684.4" r="7.5"/><circle cx="471.4" cy="636" r="7.5"/><circle cx="512.9" cy="713.4" r="7.5"/><circle cx="552.1" cy="537.1" r="7.5"/><circle cx="692.5" cy="430.9" r="7.5"/><circle cx="601.8" cy="766.6" r="7.5"/><circle cx="384" cy="755.2" r="7.5"/><circle cx="430.5" cy="765.9" r="7.5"/><circle cx="595.5" cy="765.5" r="7.5"/><circle cx="607.8" cy="410" r="7.5"/><circle cx="495.1" cy="752.7" r="7.5"/><circle cx="308" cy="553" r="7.5"/><circle cx="452.7" cy="584.9" r="7.5"/><circle cx="493" cy="709" r="7.5"/><circle cx="457.2" cy="585.2" r="7.5"/><circle cx="506.9" cy="715.1" r="7.5"/><circle cx="507.6" cy="747.2" r="7.5"/><circle cx="484" cy="689.8" r="7.5"/><circle cx="525.8" cy="669.4" r="7.5"/><circle cx="532.4" cy="527.1" r="7.5"/><circle cx="305.3" cy="586.8" r="7.5"/><circle cx="696.6" cy="494.5" r="7.5"/><circle cx="320.8" cy="496.1" r="7.5"/><circle cx="439.1" cy="772.7" r="7.5"/><circle cx="478.7" cy="672" r="7.5"/><circle cx="520.7" cy="674.3" r="7.5"/><circle cx="696.8" cy="694" r="7.5"/><circle cx="313.3" cy="487.2" r="7.5"/><circle cx="400.3" cy="769.3" r="7.5"/><circle cx="588.2" cy="779.5" r="7.5"/><circle cx="697.3" cy="396.3" r="7.5"/><circle cx="334" cy="751.3" r="7.5"/><circle cx="599.1" cy="404.5" r="7.5"/><circle cx="391" cy="771.2" r="7.5"/><circle cx="535.2" cy="588.3" r="7.5"/><circle cx="525.6" cy="598.3" r="7.5"/><circle cx="554.1" cy="498.1" r="7.5"/><circle cx="564.2" cy="445.2" r="7.5"/><circle cx="382.8" cy="761.7" r="7.5"/><circle cx="565.8" cy="467" r="7.5"/><circle cx="700.2" cy="561.9" r="7.5"/><circle cx="304.7" cy="507.8" r="7.5"/><circle cx="696" cy="661.6" r="7.5"/><circle cx="699.5" cy="521.9" r="7.5"/><circle cx="574.8" cy="441.6" r="7.5"/><circle cx="496.4" cy="738" r="7.5"/><circle cx="542.9" cy="547.6" r="7.5"/><circle cx="477" cy="643.2" r="7.5"/><circle cx="599" cy="774.6" r="7.5"/><circle cx="369.1" cy="756.3" r="7.5"/><circle cx="508" cy="740.7" r="7.5"/><circle cx="597.5" cy="425.8" r="7.5"/><circle cx="606.4" cy="401.4" r="7.5"/><circle cx="496.3" cy="787.9" r="7.5"/><circle cx="540.8" cy="550.7" r="7.5"/><circle cx="577.2" cy="415.8" r="7.5"/><circle cx="449.4" cy="776.6" r="7.5"/><circle cx="337.5" cy="498.4" r="7.5"/><circle cx="688" cy="721.1" r="7.5"/><circle cx="703.3" cy="655.9" r="7.5"/><circle cx="298.7" cy="671.7" r="7.5"/><circle cx="377.8" cy="771" r="7.5"/><circle cx="696.1" cy="678.7" r="7.5"/><circle cx="503.3" cy="701.8" r="7.5"/><circle cx="545.7" cy="552" r="7.5"/><circle cx="690.5" cy="409.1" r="7.5"/><circle cx="473.3" cy="625.4" r="7.5"/><circle cx="697" cy="553.9" r="7.5"/><circle cx="313.7" cy="661.2" r="7.5"/><circle cx="706.9" cy="637.1" r="7.5"/><circle cx="531" cy="624.7" r="7.5"/><circle cx="500.6" cy="706.7" r="7.5"/><circle cx="674.7" cy="737.6" r="7.5"/><circle cx="540.9" cy="792.5" r="7.5"/><circle cx="432" cy="777.3" r="7.5"/><circle cx="692.5" cy="402.6" r="7.5"/><circle cx="513.2" cy="669.5" r="7.5"/><circle cx="697.4" cy="704.2" r="7.5"/><circle cx="479.2" cy="643.6" r="7.5"/><circle cx="686" cy="402.3" r="7.5"/><circle cx="629.5" cy="747.9" r="7.5"/><circle cx="336" cy="747.1" r="7.5"/><circle cx="690.1" cy="495.1" r="7.5"/><circle cx="547" cy="572.5" r="7.5"/><circle cx="302.8" cy="671.1" r="7.5"/><circle cx="518.3" cy="799.1" r="7.5"/><circle cx="430.2" cy="522" r="7.5"/><circle cx="699.6" cy="450.4" r="7.5"/><circle cx="615.4" cy="760" r="7.5"/><circle cx="531.1" cy="597.9" r="7.5"/><circle cx="436.4" cy="508.4" r="7.5"/><circle cx="671" cy="734" r="7.5"/><circle cx="427.4" cy="785.1" r="7.5"/><circle cx="453.6" cy="786.7" r="7.5"/><circle cx="307.7" cy="585.6" r="7.5"/><circle cx="530.8" cy="609.8" r="7.5"/><circle cx="305.8" cy="682.5" r="7.5"/><circle cx="551.3" cy="505" r="7.5"/><circle cx="366.7" cy="491.8" r="7.5"/><circle cx="698.8" cy="402.5" r="7.5"/><circle cx="306.5" cy="635.1" r="7.5"/><circle cx="365.6" cy="761.8" r="7.5"/><circle cx="496.5" cy="681.1" r="7.5"/><circle cx="495.6" cy="743.9" r="7.5"/><circle cx="310.5" cy="715.1" r="7.5"/><circle cx="563" cy="793.5" r="7.5"/><circle cx="317.5" cy="727.5" r="7.5"/><circle cx="623.2" cy="759.1" r="7.5"/><circle cx="436.4" cy="536.1" r="7.5"/><circle cx="594.1" cy="774.6" r="7.5"/><circle cx="503.5" cy="713.9" r="7.5"/><circle cx="557.9" cy="469.1" r="7.5"/><circle cx="701.4" cy="613.4" r="7.5"/><circle cx="301.4" cy="626" r="7.5"/><circle cx="703.9" cy="707.6" r="7.5"/><circle cx="631.9" cy="398.9" r="7.5"/><circle cx="385.1" cy="493.8" r="7.5"/><circle cx="513.9" cy="692.2" r="7.5"/><circle cx="526.4" cy="629.1" r="7.5"/><circle cx="520.4" cy="643" r="7.5"/><circle cx="305" cy="684" r="7.5"/><circle cx="677.5" cy="393.4" r="7.5"/><circle cx="300.1" cy="625.3" r="7.5"/><circle cx="697.8" cy="542.7" r="7.5"/><circle cx="679.2" cy="723.3" r="7.5"/><circle cx="475.1" cy="793.7" r="7.5"/><circle cx="499.6" cy="725.9" r="7.5"/><circle cx="460" cy="780.4" r="7.5"/><circle cx="576" cy="769.6" r="7.5"/><circle cx="488.2" cy="708.6" r="7.5"/><circle cx="695.6" cy="439.8" r="7.5"/><circle cx="518.1" cy="670.8" r="7.5"/><circle cx="297.3" cy="662.5" r="7.5"/><circle cx="450.3" cy="785.3" r="7.5"/><circle cx="540.6" cy="588.3" r="7.5"/><circle cx="692.2" cy="665.1" r="7.5"/><circle cx="709.6" cy="611.9" r="7.5"/><circle cx="483.1" cy="696.2" r="7.5"/><circle cx="631.4" cy="749.5" r="7.5"/><circle cx="410.6" cy="509.1" r="7.5"/><circle cx="505.6" cy="756.6" r="7.5"/><circle cx="463.2" cy="647.7" r="7.5"/><circle cx="378.4" cy="506.5" r="7.5"/><circle cx="466.9" cy="642.7" r="7.5"/><circle cx="610.9" cy="403" r="7.5"/><circle cx="304.3" cy="494.2" r="7.5"/><circle cx="507" cy="739.3" r="7.5"/><circle cx="497.5" cy="714" r="7.5"/><circle cx="550" cy="506.5" r="7.5"/><circle cx="703.7" cy="648.4" r="7.5"/><circle cx="689.1" cy="718" r="7.5"/><circle cx="624.7" cy="755" r="7.5"/><circle cx="299.3" cy="704.7" r="7.5"/><circle cx="353.7" cy="759.9" r="7.5"/><circle cx="501.8" cy="761.5" r="7.5"/><circle cx="499" cy="761.2" r="7.5"/><circle cx="659.2" cy="399.3" r="7.5"/><circle cx="350.4" cy="449.1" r="7.5"/><circle cx="327.3" cy="448.2" r="7.5"/><circle cx="422.2" cy="483.1" r="7.5"/><circle cx="350" cy="487" r="7.5"/><circle cx="345.2" cy="457.6" r="7.5"/><circle cx="402.7" cy="468" r="7.5"/><circle cx="354.4" cy="446.3" r="7.5"/><circle cx="323.3" cy="473.8" r="7.5"/><circle cx="344" cy="460.7" r="7.5"/><circle cx="321.4" cy="482.4" r="7.5"/><circle cx="396.9" cy="479.3" r="7.5"/><circle cx="332.9" cy="450.5" r="7.5"/><circle cx="331.6" cy="431.1" r="7.5"/><circle cx="389.8" cy="498.8" r="7.5"/><circle cx="385" cy="434.9" r="7.5"/><circle cx="354.2" cy="432.6" r="7.5"/><circle cx="346" cy="466.3" r="7.5"/><circle cx="324.3" cy="459" r="7.5"/><circle cx="325.3" cy="479.2" r="7.5"/><circle cx="315.9" cy="454.3" r="7.5"/><circle cx="323.3" cy="472.9" r="7.5"/><circle cx="374.8" cy="481.9" r="7.5"/><circle cx="354.1" cy="456.1" r="7.5"/><circle cx="355.8" cy="432.2" r="7.5"/><circle cx="379" cy="464.1" r="7.5"/><circle cx="336.4" cy="429.8" r="7.5"/><circle cx="418.1" cy="471.6" r="7.5"/><circle cx="389.5" cy="442.3" r="7.5"/><circle cx="382.8" cy="501.5" r="7.5"/><circle cx="377.7" cy="500.6" r="7.5"/><circle cx="384.3" cy="475.8" r="7.5"/><circle cx="308.9" cy="438.5" r="7.5"/><circle cx="323.2" cy="442.8" r="7.5"/><circle cx="391.1" cy="446.1" r="7.5"/><circle cx="373.6" cy="458.3" r="7.5"/><circle cx="367.2" cy="478.1" r="7.5"/><circle cx="348.4" cy="496.2" r="7.5"/><circle cx="395.6" cy="481.5" r="7.5"/><circle cx="427.4" cy="491.5" r="7.5"/><circle cx="383.6" cy="465.8" r="7.5"/><circle cx="372.4" cy="446.3" r="7.5"/><circle cx="345.6" cy="441.7" r="7.5"/><circle cx="320.1" cy="432.9" r="7.5"/><circle cx="317.1" cy="482.3" r="7.5"/><circle cx="361.8" cy="487.5" r="7.5"/><circle cx="324.8" cy="494.7" r="7.5"/><circle cx="310.8" cy="447.5" r="7.5"/><circle cx="336.2" cy="483.1" r="7.5"/><circle cx="346.7" cy="486.5" r="7.5"/><circle cx="410.1" cy="471.7" r="7.5"/><circle cx="352.2" cy="479.5" r="7.5"/><circle cx="378.9" cy="500.5" r="7.5"/><circle cx="321.1" cy="480.9" r="7.5"/><circle cx="365.8" cy="456.8" r="7.5"/><circle cx="406.5" cy="492.6" r="7.5"/><circle cx="354.1" cy="475.6" r="7.5"/><circle cx="322.8" cy="441.5" r="7.5"/><circle cx="366.5" cy="437.3" r="7.5"/><circle cx="306.5" cy="471.6" r="7.5"/><circle cx="384" cy="449.1" r="7.5"/><circle cx="365.7" cy="456.2" r="7.5"/><circle cx="343.6" cy="434" r="7.5"/><circle cx="365.9" cy="504.8" r="7.5"/><circle cx="415" cy="465.3" r="7.5"/><circle cx="407.3" cy="458.5" r="7.5"/><circle cx="374.5" cy="478.6" r="7.5"/><circle cx="339.5" cy="500.3" r="7.5"/><circle cx="410.7" cy="483.8" r="7.5"/><circle cx="307.4" cy="441" r="7.5"/><circle cx="343.7" cy="467.6" r="7.5"/><circle cx="330.9" cy="501.9" r="7.5"/><circle cx="371.5" cy="490.4" r="7.5"/><circle cx="316.9" cy="501.2" r="7.5"/><circle cx="307" cy="472.4" r="7.5"/><circle cx="353.7" cy="456.4" r="7.5"/><circle cx="407.8" cy="456.1" r="7.5"/><circle cx="345.2" cy="435.2" r="7.5"/><circle cx="373.9" cy="480.4" r="7.5"/><circle cx="317.5" cy="439" r="7.5"/><circle cx="368.3" cy="459.1" r="7.5"/><circle cx="372.8" cy="501.3" r="7.5"/><circle cx="356.3" cy="482.4" r="7.5"/><circle cx="345.2" cy="442.1" r="7.5"/><circle cx="385.2" cy="457.1" r="7.5"/><circle cx="413.6" cy="476.4" r="7.5"/><circle cx="392.3" cy="462.9" r="7.5"/><circle cx="357.7" cy="457.6" r="7.5"/><circle cx="380.9" cy="472.1" r="7.5"/><circle cx="308.1" cy="476.3" r="7.5"/><circle cx="334" cy="492.7" r="7.5"/><circle cx="424" cy="491.9" r="7.5"/><circle cx="369.5" cy="504.5" r="7.5"/><circle cx="415.4" cy="482.8" r="7.5"/><circle cx="407.3" cy="463" r="7.5"/><circle cx="339.8" cy="477.6" r="7.5"/><circle cx="375" cy="488.6" r="7.5"/><circle cx="335" cy="489.6" r="7.5"/><circle cx="350.8" cy="435.7" r="7.5"/><circle cx="348.3" cy="494.6" r="7.5"/><circle cx="319" cy="442" r="7.5"/><circle cx="313.2" cy="504.1" r="7.5"/><circle cx="384.5" cy="495.5" r="7.5"/><circle cx="329.2" cy="479.5" r="7.5"/><circle cx="306" cy="454.1" r="7.5"/><circle cx="384.6" cy="449.4" r="7.5"/><circle cx="392.9" cy="441.9" r="7.5"/><circle cx="392.8" cy="463.9" r="7.5"/><circle cx="318.9" cy="500.5" r="7.5"/><circle cx="392.5" cy="484.7" r="7.5"/><circle cx="343.7" cy="459.4" r="7.5"/><circle cx="356.4" cy="463.2" r="7.5"/><circle cx="394.1" cy="446.1" r="7.5"/><circle cx="340.5" cy="495.2" r="7.5"/><circle cx="413.4" cy="480.1" r="7.5"/><circle cx="399.1" cy="474.3" r="7.5"/><circle cx="312.2" cy="460.3" r="7.5"/><circle cx="360.4" cy="501.5" r="7.5"/><circle cx="392.9" cy="479.7" r="7.5"/><circle cx="336.2" cy="460.4" r="7.5"/><circle cx="409" cy="493.5" r="7.5"/><circle cx="315.3" cy="456" r="7.5"/><circle cx="396.6" cy="479.5" r="7.5"/><circle cx="418.9" cy="501.1" r="7.5"/><circle cx="385" cy="464.1" r="7.5"/><circle cx="381.5" cy="502.7" r="7.5"/><circle cx="410.1" cy="478" r="7.5"/><circle cx="363.2" cy="458.9" r="7.5"/><circle cx="331.9" cy="504.2" r="7.5"/><circle cx="351.3" cy="439" r="7.5"/><circle cx="325.4" cy="478" r="7.5"/><circle cx="397.6" cy="487.8" r="7.5"/><circle cx="414" cy="500.7" r="7.5"/><circle cx="307.1" cy="455" r="7.5"/><circle cx="342.6" cy="467.1" r="7.5"/><circle cx="376.7" cy="438" r="7.5"/><circle cx="335.6" cy="459.9" r="7.5"/><circle cx="331.9" cy="462.8" r="7.5"/><circle cx="362.8" cy="493.5" r="7.5"/><circle cx="398" cy="482.9" r="7.5"/><circle cx="386.3" cy="493.3" r="7.5"/><circle cx="357.3" cy="434" r="7.5"/><circle cx="318.3" cy="498.7" r="7.5"/><circle cx="425.1" cy="471.7" r="7.5"/><circle cx="342.3" cy="484.9" r="7.5"/><circle cx="351.1" cy="461.1" r="7.5"/><circle cx="349.9" cy="461.1" r="7.5"/><circle cx="310.3" cy="492.3" r="7.5"/><circle cx="371.6" cy="470.2" r="7.5"/><circle cx="332.5" cy="435.6" r="7.5"/><circle cx="344.2" cy="465.3" r="7.5"/><circle cx="399.9" cy="465.5" r="7.5"/><circle cx="356" cy="502.4" r="7.5"/><circle cx="380" cy="502" r="7.5"/><circle cx="380.6" cy="456.4" r="7.5"/><circle cx="382" cy="473.4" r="7.5"/><circle cx="367.7" cy="467.7" r="7.5"/><circle cx="310.8" cy="435.1" r="7.5"/><circle cx="338.6" cy="489.3" r="7.5"/><circle cx="414.1" cy="459" r="7.5"/><circle cx="404.9" cy="477.5" r="7.5"/><circle cx="423.6" cy="486" r="7.5"/><circle cx="304.7" cy="484.7" r="7.5"/><circle cx="391" cy="503.7" r="7.5"/><circle cx="313.6" cy="488.2" r="7.5"/><circle cx="400.2" cy="457.1" r="7.5"/><circle cx="359.9" cy="437.1" r="7.5"/><circle cx="318.8" cy="492.2" r="7.5"/><circle cx="374.2" cy="436.7" r="7.5"/><circle cx="343.7" cy="501.4" r="7.5"/><circle cx="319.8" cy="495.3" r="7.5"/><circle cx="308" cy="461.3" r="7.5"/><circle cx="390.3" cy="499.5" r="7.5"/><circle cx="317.5" cy="485.2" r="7.5"/><circle cx="379" cy="443.6" r="7.5"/><circle cx="325" cy="454.9" r="7.5"/><circle cx="370.6" cy="457.9" r="7.5"/><circle cx="411.8" cy="455.6" r="7.5"/><circle cx="365.5" cy="503.5" r="7.5"/><circle cx="393.3" cy="446" r="7.5"/><circle cx="397.5" cy="472.3" r="7.5"/><circle cx="312.2" cy="491.5" r="7.5"/><circle cx="395.7" cy="461.3" r="7.5"/><circle cx="375.6" cy="503.1" r="7.5"/><circle cx="362.3" cy="465.5" r="7.5"/><circle cx="343.2" cy="493.3" r="7.5"/><circle cx="393.4" cy="471.7" r="7.5"/><circle cx="401.9" cy="490" r="7.5"/><circle cx="404.4" cy="444.8" r="7.5"/><circle cx="372.5" cy="475" r="7.5"/><circle cx="422.3" cy="481.1" r="7.5"/><circle cx="425.7" cy="483.3" r="7.5"/><circle cx="413.8" cy="484" r="7.5"/><circle cx="336.5" cy="450.6" r="7.5"/><circle cx="320.8" cy="465.3" r="7.5"/><circle cx="340.5" cy="449.4" r="7.5"/><circle cx="414" cy="493.8" r="7.5"/><circle cx="373.6" cy="484.5" r="7.5"/><circle cx="388.5" cy="498.8" r="7.5"/><circle cx="350.4" cy="488.6" r="7.5"/><circle cx="376.5" cy="454.9" r="7.5"/><circle cx="312.3" cy="432.6" r="7.5"/><circle cx="383.5" cy="429.1" r="7.5"/><circle cx="345.1" cy="402.4" r="7.5"/><circle cx="319.6" cy="387.5" r="7.5"/><circle cx="414.2" cy="434.4" r="7.5"/><circle cx="307.7" cy="427.2" r="7.5"/><circle cx="342.9" cy="391" r="7.5"/><circle cx="371.9" cy="404.5" r="7.5"/><circle cx="382.3" cy="399.1" r="7.5"/><circle cx="331.6" cy="414.1" r="7.5"/><circle cx="342.2" cy="419.5" r="7.5"/><circle cx="395.7" cy="405.5" r="7.5"/><circle cx="319.7" cy="424.2" r="7.5"/><circle cx="343.2" cy="424.3" r="7.5"/><circle cx="359.2" cy="426.4" r="7.5"/><circle cx="361.9" cy="393.5" r="7.5"/><circle cx="386.9" cy="435.9" r="7.5"/><circle cx="388.3" cy="436.2" r="7.5"/><circle cx="325.4" cy="391.1" r="7.5"/><circle cx="339.6" cy="378.7" r="7.5"/><circle cx="365.1" cy="405.5" r="7.5"/><circle cx="313.5" cy="381.7" r="7.5"/><circle cx="374" cy="428.5" r="7.5"/><circle cx="306.8" cy="422.2" r="7.5"/><circle cx="310" cy="377.2" r="7.5"/><circle cx="361.9" cy="414" r="7.5"/><circle cx="331.1" cy="435.2" r="7.5"/><circle cx="363" cy="438.8" r="7.5"/><circle cx="323.8" cy="419.3" r="7.5"/><circle cx="315.2" cy="416.5" r="7.5"/><circle cx="363.6" cy="393.4" r="7.5"/><circle cx="377.3" cy="399.7" r="7.5"/><circle cx="400.2" cy="424.8" r="7.5"/><circle cx="360.8" cy="401.2" r="7.5"/><circle cx="401.6" cy="402.7" r="7.5"/><circle cx="677" cy="360.1" r="7.5"/><circle cx="678.6" cy="372.4" r="7.5"/><circle cx="587.8" cy="407.7" r="7.5"/><circle cx="685.4" cy="373.1" r="7.5"/><circle cx="655.4" cy="355.2" r="7.5"/><circle cx="667.9" cy="348.7" r="7.5"/><circle cx="657.3" cy="390.7" r="7.5"/><circle cx="626.5" cy="377.3" r="7.5"/><circle cx="676.3" cy="365.2" r="7.5"/><circle cx="664" cy="393" r="7.5"/><circle cx="618.2" cy="369.5" r="7.5"/><circle cx="602.7" cy="405.8" r="7.5"/><circle cx="690.3" cy="371.2" r="7.5"/><circle cx="695.2" cy="403.1" r="7.5"/><circle cx="620.3" cy="370.1" r="7.5"/><circle cx="643.2" cy="390.3" r="7.5"/><circle cx="644.8" cy="388.9" r="7.5"/><circle cx="670.1" cy="367.2" r="7.5"/><circle cx="604.1" cy="399.3" r="7.5"/><circle cx="609.2" cy="374.8" r="7.5"/><circle cx="623" cy="394.1" r="7.5"/><circle cx="694.8" cy="405" r="7.5"/><circle cx="630.1" cy="382.5" r="7.5"/><circle cx="608.5" cy="389" r="7.5"/><circle cx="696" cy="354.8" r="7.5"/><circle cx="672.3" cy="396.8" r="7.5"/><circle cx="689.2" cy="367.4" r="7.5"/><circle cx="643.9" cy="361.4" r="7.5"/><circle cx="672.7" cy="348.5" r="7.5"/><circle cx="598.2" cy="396.5" r="7.5"/><circle cx="667.9" cy="374" r="7.5"/><circle cx="672.8" cy="405.8" r="7.5"/><circle cx="665.4" cy="387.3" r="7.5"/><circle cx="632.3" cy="353.3" r="7.5"/><circle cx="687.5" cy="348.4" r="7.5"/><circle cx="664" cy="385.4" r="7.5"/><circle cx="595.5" cy="384.3" r="7.5"/><circle cx="628.8" cy="406" r="7.5"/><circle cx="662.4" cy="402.7" r="7.5"/><circle cx="636.7" cy="353.2" r="7.5"/><circle cx="638.9" cy="400" r="7.5"/><circle cx="641.6" cy="382.8" r="7.5"/><circle cx="665.7" cy="386.5" r="7.5"/><circle cx="624.3" cy="385.4" r="7.5"/><circle cx="634.8" cy="373.6" r="7.5"/><circle cx="655.5" cy="382.9" r="7.5"/><circle cx="635.1" cy="388.9" r="7.5"/><circle cx="686.4" cy="387.1" r="7.5"/><circle cx="628.6" cy="408.1" r="7.5"/><circle cx="669.7" cy="371.7" r="7.5"/><circle cx="632.6" cy="406.4" r="7.5"/><circle cx="672.7" cy="368.2" r="7.5"/><circle cx="654.2" cy="364.4" r="7.5"/><circle cx="627.3" cy="400.3" r="7.5"/><circle cx="670.3" cy="399.2" r="7.5"/><circle cx="647.9" cy="395.8" r="7.5"/><circle cx="699.4" cy="356.2" r="7.5"/><circle cx="674.5" cy="374.5" r="7.5"/><circle cx="613.2" cy="398" r="7.5"/><circle cx="643.9" cy="391" r="7.5"/><circle cx="600.2" cy="403.7" r="7.5"/><circle cx="630.8" cy="357.1" r="7.5"/><circle cx="653.3" cy="387.7" r="7.5"/><circle cx="680.2" cy="379.9" r="7.5"/><circle cx="613.1" cy="377.8" r="7.5"/><circle cx="625.3" cy="406.8" r="7.5"/><circle cx="610.2" cy="360.3" r="7.5"/><circle cx="612" cy="390.4" r="7.5"/><circle cx="664.1" cy="345.7" r="7.5"/><circle cx="664.6" cy="375.7" r="7.5"/><circle cx="686.3" cy="364.2" r="7.5"/><circle cx="637.3" cy="373.4" r="7.5"/><circle cx="649" cy="402.1" r="7.5"/><circle cx="699.4" cy="364.7" r="7.5"/><circle cx="607" cy="403.1" r="7.5"/><circle cx="621.3" cy="385.7" r="7.5"/><circle cx="600.7" cy="377.5" r="7.5"/><circle cx="665.5" cy="364" r="7.5"/><circle cx="607.4" cy="378.3" r="7.5"/><circle cx="645.7" cy="399.6" r="7.5"/><circle cx="601.3" cy="369.4" r="7.5"/><circle cx="619" cy="388.3" r="7.5"/><circle cx="615" cy="397.4" r="7.5"/><circle cx="623.1" cy="377.9" r="7.5"/><circle cx="610.1" cy="371.3" r="7.5"/><circle cx="617.6" cy="400.4" r="7.5"/><circle cx="682.4" cy="388.5" r="7.5"/><circle cx="641.9" cy="373.3" r="7.5"/><circle cx="655.3" cy="407" r="7.5"/><circle cx="663.8" cy="391.5" r="7.5"/><circle cx="630" cy="380.8" r="7.5"/><circle cx="641" cy="388.5" r="7.5"/><circle cx="644" cy="394.7" r="7.5"/><circle cx="676.4" cy="403.2" r="7.5"/><circle cx="614.5" cy="361.6" r="7.5"/><circle cx="670.1" cy="387.1" r="7.5"/><circle cx="628.1" cy="396.6" r="7.5"/><circle cx="697.5" cy="395.7" r="7.5"/><circle cx="642.3" cy="373.1" r="7.5"/><circle cx="684.3" cy="393.1" r="7.5"/><circle cx="699.8" cy="350.3" r="7.5"/><circle cx="700.2" cy="344.3" r="7.5"/><circle cx="597.9" cy="380.8" r="7.5"/><circle cx="657.4" cy="353.7" r="7.5"/><circle cx="651.6" cy="399.5" r="7.5"/><circle cx="601" cy="388" r="7.5"/><circle cx="606.2" cy="386.4" r="7.5"/><circle cx="645.8" cy="375.7" r="7.5"/><circle cx="649.9" cy="404.3" r="7.5"/><circle cx="659.5" cy="363.8" r="7.5"/><circle cx="647.6" cy="352.8" r="7.5"/><circle cx="657.1" cy="368.4" r="7.5"/><circle cx="671.8" cy="348.6" r="7.5"/><circle cx="584.1" cy="420.4" r="7.5"/><circle cx="618.9" cy="368.2" r="7.5"/><circle cx="680.2" cy="360.9" r="7.5"/><circle cx="656.8" cy="402.7" r="7.5"/><circle cx="693.2" cy="347.2" r="7.5"/><circle cx="648.1" cy="380.1" r="7.5"/><circle cx="679.7" cy="367.5" r="7.5"/><circle cx="666.5" cy="361" r="7.5"/><circle cx="609" cy="370.1" r="7.5"/><circle cx="608.7" cy="371.1" r="7.5"/><circle cx="656" cy="380.2" r="7.5"/><circle cx="666.8" cy="390.9" r="7.5"/><circle cx="626.5" cy="394.5" r="7.5"/><circle cx="698.9" cy="379" r="7.5"/><circle cx="619.9" cy="357.4" r="7.5"/><circle cx="601.8" cy="391.5" r="7.5"/><circle cx="648.4" cy="366.2" r="7.5"/><circle cx="686.1" cy="380" r="7.5"/><circle cx="682.4" cy="401.4" r="7.5"/><circle cx="690.9" cy="346.6" r="7.5"/><circle cx="604.3" cy="405.1" r="7.5"/><circle cx="644.8" cy="379.4" r="7.5"/><circle cx="598.1" cy="398.1" r="7.5"/><circle cx="641.5" cy="380.6" r="7.5"/><circle cx="654.4" cy="361.8" r="7.5"/><circle cx="687.4" cy="400" r="7.5"/><circle cx="627.5" cy="395.6" r="7.5"/><circle cx="693.7" cy="355.8" r="7.5"/><circle cx="689.9" cy="347" r="7.5"/><circle cx="614.4" cy="371.4" r="7.5"/><circle cx="602.5" cy="381.2" r="7.5"/><circle cx="623.8" cy="401.7" r="7.5"/><circle cx="597.4" cy="382.2" r="7.5"/><circle cx="648.3" cy="355.8" r="7.5"/><circle cx="674.5" cy="349" r="7.5"/><circle cx="656.1" cy="370.1" r="7.5"/><circle cx="619.1" cy="401.9" r="7.5"/><circle cx="603.2" cy="386.4" r="7.5"/><circle cx="611.8" cy="378.5" r="7.5"/><circle cx="663.9" cy="361.4" r="7.5"/><circle cx="682.7" cy="362.3" r="7.5"/><circle cx="647.4" cy="375.9" r="7.5"/><circle cx="657.2" cy="349.3" r="7.5"/><circle cx="666.6" cy="365.5" r="7.5"/><circle cx="630.9" cy="373.8" r="7.5"/><circle cx="628.1" cy="373.3" r="7.5"/><circle cx="669.7" cy="387.9" r="7.5"/><circle cx="662.9" cy="357.7" r="7.5"/><circle cx="604.6" cy="402.8" r="7.5"/><circle cx="630.1" cy="360.8" r="7.5"/><circle cx="668.4" cy="398.5" r="7.5"/><circle cx="625" cy="354" r="7.5"/><circle cx="644.3" cy="355.4" r="7.5"/><circle cx="621.7" cy="354.7" r="7.5"/><circle cx="687" cy="396.7" r="7.5"/><circle cx="656.6" cy="388.4" r="7.5"/><circle cx="611.9" cy="401.3" r="7.5"/><circle cx="641.6" cy="392.5" r="7.5"/><circle cx="615.1" cy="387.2" r="7.5"/><circle cx="638.6" cy="381.6" r="7.5"/><circle cx="638.1" cy="377.7" r="7.5"/><circle cx="701" cy="347.5" r="7.5"/><circle cx="628.4" cy="350.7" r="7.5"/><circle cx="662" cy="357.6" r="7.5"/><circle cx="598" cy="384.1" r="7.5"/><circle cx="633.8" cy="371.6" r="7.5"/><circle cx="687.2" cy="389.8" r="7.5"/><circle cx="587.8" cy="408.5" r="7.5"/><circle cx="605.9" cy="386.3" r="7.5"/><circle cx="653.2" cy="347.9" r="7.5"/><circle cx="693.2" cy="375.5" r="7.5"/><circle cx="658.9" cy="388.6" r="7.5"/><circle cx="653" cy="388.6" r="7.5"/><circle cx="605.2" cy="405.4" r="7.5"/><circle cx="694.8" cy="403" r="7.5"/><circle cx="596.9" cy="396" r="7.5"/><circle cx="610.1" cy="396.5" r="7.5"/><circle cx="618.4" cy="359.3" r="7.5"/><circle cx="620.7" cy="383.8" r="7.5"/><circle cx="636.1" cy="354.5" r="7.5"/><circle cx="680" cy="391.1" r="7.5"/><circle cx="658" cy="378.4" r="7.5"/><circle cx="624.6" cy="360.1" r="7.5"/><circle cx="697.9" cy="401.7" r="7.5"/><circle cx="652.3" cy="402.5" r="7.5"/><circle cx="673.2" cy="402" r="7.5"/><circle cx="629.2" cy="405.9" r="7.5"/><circle cx="625.3" cy="382.8" r="7.5"/><circle cx="624.3" cy="405.8" r="7.5"/><circle cx="622.7" cy="377.1" r="7.5"/><circle cx="626.7" cy="405.3" r="7.5"/><circle cx="610.4" cy="373.6" r="7.5"/><circle cx="691.5" cy="372.4" r="7.5"/><circle cx="625.8" cy="354.4" r="7.5"/><circle cx="597.2" cy="404.9" r="7.5"/><circle cx="687.9" cy="351.1" r="7.5"/><circle cx="622.7" cy="388.9" r="7.5"/><circle cx="618.6" cy="321.8" r="7.5"/><circle cx="641.3" cy="320.9" r="7.5"/><circle cx="672.4" cy="304.1" r="7.5"/><circle cx="631.3" cy="315" r="7.5"/><circle cx="678.8" cy="343" r="7.5"/><circle cx="659.1" cy="323.7" r="7.5"/><circle cx="686.5" cy="341.1" r="7.5"/><circle cx="610.8" cy="356.9" r="7.5"/><circle cx="607.2" cy="339.9" r="7.5"/><circle cx="639.9" cy="312.6" r="7.5"/><circle cx="699.2" cy="341.3" r="7.5"/><circle cx="675.3" cy="345.9" r="7.5"/><circle cx="666.3" cy="312.7" r="7.5"/><circle cx="652.1" cy="330.1" r="7.5"/><circle cx="650.6" cy="350.5" r="7.5"/><circle cx="668.3" cy="340.7" r="7.5"/><circle cx="695.8" cy="323.1" r="7.5"/><circle cx="642.8" cy="333.6" r="7.5"/><circle cx="655.6" cy="321" r="7.5"/><circle cx="677.4" cy="324.6" r="7.5"/><circle cx="607.5" cy="362.1" r="7.5"/><circle cx="676.4" cy="342.2" r="7.5"/><circle cx="666" cy="330.1" r="7.5"/><circle cx="651.1" cy="315.8" r="7.5"/><circle cx="645.2" cy="319.5" r="7.5"/><circle cx="666.9" cy="309.3" r="7.5"/><circle cx="652.4" cy="341.6" r="7.5"/><circle cx="598.3" cy="369.1" r="7.5"/><circle cx="683.2" cy="327.8" r="7.5"/><circle cx="697.6" cy="314.1" r="7.5"/><circle cx="693.6" cy="316.2" r="7.5"/><circle cx="690.8" cy="334.2" r="7.5"/><circle cx="611" cy="326" r="7.5"/><circle cx="622.6" cy="346.1" r="7.5"/><circle cx="642.6" cy="333.1" r="7.5"/><circle cx="645.7" cy="327.2" r="7.5"/><circle cx="644.4" cy="348.6" r="7.5"/><circle cx="670.6" cy="324.2" r="7.5"/><circle cx="655.8" cy="311.9" r="7.5"/><circle cx="635.6" cy="323.2" r="7.5"/><circle cx="612" cy="342.1" r="7.5"/><circle cx="683.6" cy="328" r="7.5"/><circle cx="621.5" cy="351.2" r="7.5"/><circle cx="678.7" cy="307.7" r="7.5"/><circle cx="617.3" cy="323.4" r="7.5"/><circle cx="628.9" cy="332.7" r="7.5"/><circle cx="634.2" cy="334.1" r="7.5"/><circle cx="678.9" cy="319.8" r="7.5"/><circle cx="693.7" cy="313.6" r="7.5"/><circle cx="699.1" cy="315.6" r="7.5"/><circle cx="680.1" cy="310.2" r="7.5"/><circle cx="628.9" cy="332.1" r="7.5"/><circle cx="683.6" cy="348.3" r="7.5"/><circle cx="686.3" cy="336.7" r="7.5"/><circle cx="627.8" cy="330.5" r="7.5"/><circle cx="694.1" cy="342.5" r="7.5"/><circle cx="681.6" cy="306.8" r="7.5"/><circle cx="623" cy="351.7" r="7.5"/><circle cx="632.7" cy="317.5" r="7.5"/><circle cx="640.1" cy="339.1" r="7.5"/><circle cx="638.8" cy="340.4" r="7.5"/><circle cx="666.8" cy="324.8" r="7.5"/><circle cx="648.1" cy="327.7" r="7.5"/><circle cx="625.5" cy="305.5" r="7.5"/><circle cx="628.3" cy="322.3" r="7.5"/><circle cx="687.7" cy="326.5" r="7.5"/><circle cx="643.3" cy="337.7" r="7.5"/><circle cx="678.1" cy="339.8" r="7.5"/><circle cx="648.3" cy="325.4" r="7.5"/><circle cx="674.6" cy="336.2" r="7.5"/><circle cx="666.7" cy="333.4" r="7.5"/><circle cx="652.4" cy="341.4" r="7.5"/><circle cx="685.5" cy="305.5" r="7.5"/><circle cx="674.7" cy="343.9" r="7.5"/><circle cx="614.8" cy="340.3" r="7.5"/><circle cx="612.7" cy="353.3" r="7.5"/><circle cx="647.9" cy="352" r="7.5"/><circle cx="677.3" cy="320.7" r="7.5"/><circle cx="606.3" cy="350.2" r="7.5"/><circle cx="672.6" cy="306.1" r="7.5"/><circle cx="693.4" cy="337.9" r="7.5"/><circle cx="632.5" cy="309.1" r="7.5"/><circle cx="610.7" cy="332.3" r="7.5"/><circle cx="625.9" cy="347.7" r="7.5"/><circle cx="639.9" cy="334.1" r="7.5"/><circle cx="650.3" cy="282.5" r="7.5"/><circle cx="691.8" cy="302.9" r="7.5"/><circle cx="652.5" cy="286.6" r="7.5"/><circle cx="665.4" cy="260.8" r="7.5"/><circle cx="699.3" cy="257.5" r="7.5"/><circle cx="630.4" cy="294.3" r="7.5"/><circle cx="681.2" cy="309" r="7.5"/><circle cx="675.1" cy="271.6" r="7.5"/><circle cx="677.7" cy="297.5" r="7.5"/><circle cx="656.8" cy="253.9" r="7.5"/><circle cx="658.2" cy="288.3" r="7.5"/><circle cx="640.5" cy="286.3" r="7.5"/><circle cx="624.9" cy="315.4" r="7.5"/><circle cx="693.4" cy="304" r="7.5"/><circle cx="686.7" cy="302.3" r="7.5"/><circle cx="661.9" cy="236.5" r="7.5"/><circle cx="676.4" cy="303.5" r="7.5"/><circle cx="654.9" cy="308.6" r="7.5"/><circle cx="699.2" cy="269.3" r="7.5"/><circle cx="671.4" cy="288.5" r="7.5"/><circle cx="673" cy="262.3" r="7.5"/><circle cx="668.3" cy="236" r="7.5"/><circle cx="691.2" cy="293.7" r="7.5"/><circle cx="682.6" cy="270.7" r="7.5"/><circle cx="630.1" cy="269.7" r="7.5"/><circle cx="671.9" cy="278.2" r="7.5"/><circle cx="647" cy="251.5" r="7.5"/><circle cx="648.6" cy="291.2" r="7.5"/><circle cx="692.3" cy="289.5" r="7.5"/><circle cx="665.6" cy="294.4" r="7.5"/><circle cx="269.4" cy="660.6" r="7.5"/><circle cx="295.7" cy="708.9" r="7.5"/><circle cx="302.7" cy="676.8" r="7.5"/><circle cx="269.2" cy="662" r="7.5"/><circle cx="302.8" cy="677.2" r="7.5"/><circle cx="238.6" cy="688.4" r="7.5"/><circle cx="283.2" cy="713.9" r="7.5"/><circle cx="291.8" cy="720.1" r="7.5"/><circle cx="289.4" cy="758.4" r="7.5"/><circle cx="296.6" cy="645" r="7.5"/><circle cx="299.1" cy="625.5" r="7.5"/><circle cx="287.5" cy="682.4" r="7.5"/><circle cx="297" cy="710.4" r="7.5"/><circle cx="278.9" cy="714" r="7.5"/><circle cx="283.4" cy="695.1" r="7.5"/><circle cx="261.6" cy="648.5" r="7.5"/><circle cx="293.8" cy="659.8" r="7.5"/><circle cx="247.5" cy="635.3" r="7.5"/><circle cx="267.2" cy="615.6" r="7.5"/><circle cx="258.7" cy="670.7" r="7.5"/><circle cx="299.3" cy="654.3" r="7.5"/><circle cx="262.2" cy="621.8" r="7.5"/><circle cx="269" cy="740.6" r="7.5"/><circle cx="288.8" cy="718" r="7.5"/><circle cx="296.1" cy="748.2" r="7.5"/><circle cx="293" cy="660.5" r="7.5"/><circle cx="269.6" cy="707.3" r="7.5"/><circle cx="276.5" cy="640.4" r="7.5"/><circle cx="251.9" cy="613.7" r="7.5"/><circle cx="297.9" cy="736.8" r="7.5"/><circle cx="286.2" cy="699.3" r="7.5"/><circle cx="288.2" cy="627.1" r="7.5"/><circle cx="227.8" cy="681.6" r="7.5"/><circle cx="291.9" cy="711" r="7.5"/><circle cx="234.1" cy="659.2" r="7.5"/><circle cx="300.8" cy="722.6" r="7.5"/><circle cx="296.8" cy="647.8" r="7.5"/><circle cx="299.4" cy="683.9" r="7.5"/><circle cx="265.4" cy="616.1" r="7.5"/><circle cx="280.5" cy="737.4" r="7.5"/><circle cx="265.5" cy="668.8" r="7.5"/><circle cx="255.6" cy="615.7" r="7.5"/><circle cx="264" cy="630.6" r="7.5"/><circle cx="289.4" cy="696.1" r="7.5"/><circle cx="271" cy="613.4" r="7.5"/><circle cx="298.6" cy="697" r="7.5"/><circle cx="233.3" cy="637.5" r="7.5"/><circle cx="292.2" cy="629.7" r="7.5"/><circle cx="295.8" cy="721.1" r="7.5"/><circle cx="275.1" cy="743.3" r="7.5"/><circle cx="299.5" cy="695.7" r="7.5"/><circle cx="272.3" cy="653.8" r="7.5"/><circle cx="270.2" cy="695.7" r="7.5"/><circle cx="248.6" cy="693.7" r="7.5"/><circle cx="264" cy="642.3" r="7.5"/><circle cx="298.9" cy="651.2" r="7.5"/><circle cx="260.9" cy="675.9" r="7.5"/><circle cx="284.9" cy="619.1" r="7.5"/><circle cx="301.4" cy="700.9" r="7.5"/><circle cx="283.1" cy="650.4" r="7.5"/><circle cx="270" cy="665.2" r="7.5"/><circle cx="295.5" cy="675.1" r="7.5"/><circle cx="255.7" cy="631.2" r="7.5"/><circle cx="291.8" cy="613.1" r="7.5"/><circle cx="258.2" cy="650.3" r="7.5"/><circle cx="263.4" cy="657.6" r="7.5"/><circle cx="299.2" cy="720.4" r="7.5"/><circle cx="302.5" cy="608.4" r="7.5"/><circle cx="287.5" cy="648.4" r="7.5"/><circle cx="295.7" cy="709.7" r="7.5"/><circle cx="267.7" cy="667.9" r="7.5"/><circle cx="301.4" cy="668.3" r="7.5"/><circle cx="275" cy="709.9" r="7.5"/><circle cx="280.8" cy="617.8" r="7.5"/><circle cx="290.8" cy="734.4" r="7.5"/><circle cx="305.8" cy="664.7" r="7.5"/><circle cx="305.7" cy="686.2" r="7.5"/><circle cx="292.9" cy="638" r="7.5"/><circle cx="302.5" cy="661.9" r="7.5"/><circle cx="302.6" cy="664.4" r="7.5"/><circle cx="275" cy="657.5" r="7.5"/><circle cx="268.9" cy="705.7" r="7.5"/><circle cx="274.4" cy="672" r="7.5"/><circle cx="289.7" cy="638.7" r="7.5"/><circle cx="278.6" cy="619.5" r="7.5"/><circle cx="274.3" cy="701.3" r="7.5"/><circle cx="283.4" cy="621.3" r="7.5"/><circle cx="300.4" cy="730.4" r="7.5"/><circle cx="291.8" cy="636.2" r="7.5"/><circle cx="293.8" cy="683.9" r="7.5"/><circle cx="256.3" cy="614.8" r="7.5"/><circle cx="277" cy="682.9" r="7.5"/><circle cx="283.8" cy="678.8" r="7.5"/><circle cx="295.5" cy="705.6" r="7.5"/><circle cx="278.7" cy="637.9" r="7.5"/><circle cx="285.3" cy="638" r="7.5"/><circle cx="278.5" cy="684.3" r="7.5"/><circle cx="299" cy="647.1" r="7.5"/><circle cx="289.3" cy="731.4" r="7.5"/><circle cx="272.2" cy="690" r="7.5"/><circle cx="295.6" cy="659.9" r="7.5"/><circle cx="276.7" cy="653" r="7.5"/><circle cx="304.3" cy="708.1" r="7.5"/><circle cx="255.9" cy="671.1" r="7.5"/><circle cx="262.6" cy="692" r="7.5"/><circle cx="280.8" cy="698" r="7.5"/><circle cx="302.1" cy="699.2" r="7.5"/><circle cx="298.3" cy="629.2" r="7.5"/><circle cx="283.3" cy="716.2" r="7.5"/><circle cx="266.5" cy="680.9" r="7.5"/><circle cx="260.4" cy="621.3" r="7.5"/><circle cx="277" cy="701.1" r="7.5"/><circle cx="300" cy="684.5" r="7.5"/><circle cx="265.4" cy="652.7" r="7.5"/><circle cx="304.4" cy="719.5" r="7.5"/><circle cx="270.2" cy="682.5" r="7.5"/><circle cx="296.4" cy="687.6" r="7.5"/><circle cx="285.7" cy="636.3" r="7.5"/><circle cx="272.4" cy="641.1" r="7.5"/><circle cx="303.4" cy="650.9" r="7.5"/><circle cx="262.5" cy="620.7" r="7.5"/><circle cx="277" cy="703.8" r="7.5"/><circle cx="275.9" cy="673.5" r="7.5"/><circle cx="302.2" cy="735" r="7.5"/><circle cx="289.7" cy="683.6" r="7.5"/><circle cx="272" cy="693.5" r="7.5"/><circle cx="276.8" cy="643.5" r="7.5"/><circle cx="277.9" cy="693.9" r="7.5"/><circle cx="271.6" cy="684.8" r="7.5"/><circle cx="284.8" cy="650.3" r="7.5"/><circle cx="277.1" cy="613.1" r="7.5"/><circle cx="288.7" cy="627.4" r="7.5"/><circle cx="305.7" cy="684.7" r="7.5"/><circle cx="292" cy="730.9" r="7.5"/><circle cx="269.1" cy="703.4" r="7.5"/><circle cx="289.7" cy="717.1" r="7.5"/><circle cx="287.2" cy="616.2" r="7.5"/><circle cx="301.7" cy="685.4" r="7.5"/><circle cx="276.2" cy="659.1" r="7.5"/><circle cx="295.7" cy="690" r="7.5"/><circle cx="741.2" cy="676.8" r="7.5"/><circle cx="722.1" cy="634.7" r="7.5"/><circle cx="704.3" cy="705.4" r="7.5"/><circle cx="720.9" cy="752.6" r="7.5"/><circle cx="760.1" cy="698.5" r="7.5"/><circle cx="750.1" cy="704" r="7.5"/><circle cx="729.8" cy="718.9" r="7.5"/><circle cx="704" cy="669.6" r="7.5"/><circle cx="750.7" cy="641.4" r="7.5"/><circle cx="701.8" cy="632.5" r="7.5"/><circle cx="714.3" cy="708.7" r="7.5"/><circle cx="718.1" cy="648.3" r="7.5"/><circle cx="705.4" cy="727.3" r="7.5"/><circle cx="706" cy="649.3" r="7.5"/><circle cx="724.5" cy="732.9" r="7.5"/><circle cx="702.1" cy="675.5" r="7.5"/><circle cx="703.3" cy="699.3" r="7.5"/><circle cx="742.3" cy="652.9" r="7.5"/><circle cx="713.3" cy="680.4" r="7.5"/><circle cx="711.1" cy="633.2" r="7.5"/><circle cx="726.3" cy="614.1" r="7.5"/><circle cx="769.9" cy="651.9" r="7.5"/><circle cx="707.4" cy="678.9" r="7.5"/><circle cx="702.9" cy="747.3" r="7.5"/><circle cx="754.6" cy="618.2" r="7.5"/><circle cx="751.1" cy="693.2" r="7.5"/><circle cx="712.3" cy="618.6" r="7.5"/><circle cx="723.8" cy="752.9" r="7.5"/><circle cx="761" cy="624.5" r="7.5"/><circle cx="712.1" cy="713.1" r="7.5"/><circle cx="748.5" cy="732.1" r="7.5"/><circle cx="702.2" cy="685.2" r="7.5"/><circle cx="711.9" cy="684.3" r="7.5"/><circle cx="717.8" cy="695.8" r="7.5"/><circle cx="736.5" cy="632.6" r="7.5"/><circle cx="718.5" cy="669.2" r="7.5"/><circle cx="737" cy="754.1" r="7.5"/><circle cx="715.1" cy="690.2" r="7.5"/><circle cx="712.3" cy="639.7" r="7.5"/><circle cx="744.7" cy="642" r="7.5"/><circle cx="686" cy="614.7" r="7.5"/><circle cx="659.1" cy="764.2" r="7.5"/><circle cx="688.7" cy="601" r="7.5"/><circle cx="673.8" cy="661.4" r="7.5"/><circle cx="669.2" cy="611.4" r="7.5"/><circle cx="665.1" cy="602.9" r="7.5"/><circle cx="677.8" cy="681.9" r="7.5"/><circle cx="664.4" cy="757.1" r="7.5"/><circle cx="704.9" cy="684.9" r="7.5"/><circle cx="699.7" cy="660.1" r="7.5"/><circle cx="696.7" cy="732.2" r="7.5"/><circle cx="671.8" cy="725.8" r="7.5"/><circle cx="671.8" cy="629.4" r="7.5"/><circle cx="676" cy="619.3" r="7.5"/><circle cx="694.5" cy="642.8" r="7.5"/><circle cx="680.9" cy="737.5" r="7.5"/><circle cx="687.1" cy="754.5" r="7.5"/><circle cx="695" cy="717.7" r="7.5"/><circle cx="695.9" cy="717.4" r="7.5"/><circle cx="707" cy="701.1" r="7.5"/><circle cx="691" cy="693.5" r="7.5"/><circle cx="683.1" cy="760" r="7.5"/><circle cx="668.6" cy="632.3" r="7.5"/><circle cx="681.1" cy="653" r="7.5"/><circle cx="694.3" cy="708.1" r="7.5"/><circle cx="688.4" cy="667.4" r="7.5"/><circle cx="692.2" cy="679.8" r="7.5"/><circle cx="656.9" cy="717.2" r="7.5"/><circle cx="710.4" cy="615.6" r="7.5"/><circle cx="688.2" cy="704.3" r="7.5"/><circle cx="688" cy="685.9" r="7.5"/><circle cx="704.1" cy="673.9" r="7.5"/><circle cx="700.4" cy="713.5" r="7.5"/><circle cx="664.4" cy="739.2" r="7.5"/><circle cx="707.3" cy="638.5" r="7.5"/><circle cx="680.1" cy="751.2" r="7.5"/><circle cx="694.8" cy="699.8" r="7.5"/><circle cx="655.6" cy="764.2" r="7.5"/><circle cx="668.1" cy="704.4" r="7.5"/><circle cx="696.7" cy="649.9" r="7.5"/><circle cx="669" cy="753.9" r="7.5"/><circle cx="655.8" cy="706.5" r="7.5"/><circle cx="695" cy="647.6" r="7.5"/><circle cx="666.1" cy="697" r="7.5"/><circle cx="670" cy="625.3" r="7.5"/><circle cx="655.4" cy="716.5" r="7.5"/><circle cx="700.5" cy="621" r="7.5"/><circle cx="672.4" cy="690.9" r="7.5"/><circle cx="700.3" cy="604" r="7.5"/><circle cx="704.1" cy="731.6" r="7.5"/><circle cx="695.6" cy="658.3" r="7.5"/><circle cx="680.5" cy="759.9" r="7.5"/><circle cx="689.7" cy="761.9" r="7.5"/><circle cx="659.2" cy="632" r="7.5"/><circle cx="678.5" cy="734.1" r="7.5"/><circle cx="685" cy="712.2" r="7.5"/><circle cx="686.3" cy="723.2" r="7.5"/><circle cx="669.5" cy="670.5" r="7.5"/><circle cx="670.7" cy="628.9" r="7.5"/><circle cx="654.6" cy="709.7" r="7.5"/><circle cx="709.1" cy="707.8" r="7.5"/><circle cx="707" cy="621.6" r="7.5"/><circle cx="688.2" cy="662" r="7.5"/><circle cx="702.5" cy="701.8" r="7.5"/><circle cx="688.1" cy="755.5" r="7.5"/><circle cx="709.3" cy="623.3" r="7.5"/><circle cx="677.1" cy="614.5" r="7.5"/><circle cx="684.7" cy="638.1" r="7.5"/><circle cx="693.3" cy="660.4" r="7.5"/><circle cx="657.8" cy="645.6" r="7.5"/><circle cx="204.9" cy="688.8" r="7.5"/><circle cx="132.9" cy="678.3" r="7.5"/><circle cx="134.1" cy="668.3" r="7.5"/><circle cx="130.3" cy="641" r="7.5"/><circle cx="169.5" cy="669.9" r="7.5"/><circle cx="156.9" cy="648.5" r="7.5"/><circle cx="143" cy="691.1" r="7.5"/><circle cx="160.4" cy="633.3" r="7.5"/><circle cx="141.1" cy="656.3" r="7.5"/><circle cx="212" cy="658.2" r="7.5"/><circle cx="209.5" cy="661.9" r="7.5"/><circle cx="184" cy="638.1" r="7.5"/><circle cx="104" cy="630" r="7.5"/><circle cx="134" cy="646" r="7.5"/><circle cx="150" cy="625" r="7.5"/><circle cx="183" cy="657" r="7.5"/><circle cx="175" cy="685" r="7.5"/><circle cx="169" cy="700" r="7.5"/><circle cx="131" cy="674" r="7.5"/><circle cx="182" cy="726" r="7.5"/><circle cx="199" cy="737" r="7.5"/><circle cx="107" cy="618" r="7.5"/><circle cx="363.3" cy="236.8" r="7.5"/><circle cx="372" cy="288" r="7.5"/><circle cx="365" cy="310" r="7.5"/><circle cx="318" cy="320" r="7.5"/><circle cx="330" cy="340" r="7.5"/><circle cx="395" cy="345" r="7.5"/><circle cx="420" cy="370" r="7.5"/><circle cx="463" cy="392" r="7.5"/><circle cx="790" cy="617" r="7.5"/><circle cx="810" cy="650" r="7.5"/><circle cx="790" cy="688" r="7.5"/><circle cx="805" cy="707" r="7.5"/><circle cx="755" cy="710" r="7.5"/><circle cx="770" cy="745" r="7.5"/><circle cx="760" cy="665" r="7.5"/><circle cx="842" cy="652" r="7.5"/><circle cx="860" cy="628" r="7.5"/><circle cx="875" cy="620" r="7.5"/><circle cx="545" cy="700" r="7.5"/><circle cx="555" cy="730" r="7.5"/><circle cx="523" cy="770" r="7.5"/><circle cx="470" cy="730" r="7.5"/><circle cx="640" cy="760" r="7.5"/><circle cx="350" cy="770" r="7.5"/><circle cx="380" cy="775" r="7.5"/><circle cx="420" cy="790" r="7.5"/><circle cx="640" cy="214" r="7.5"/><circle cx="660" cy="228" r="7.5"/><circle cx="690" cy="220" r="7.5"/><circle cx="600" cy="252" r="7.5"/><circle cx="620" cy="260" r="7.5"/><circle cx="585" cy="292" r="7.5"/><circle cx="665" cy="243" r="7.5"/><circle cx="611" cy="232" r="7.5"/></g>
<g fill="#5064e4" fill-opacity="0.43"><circle cx="199.8" cy="125.7" r="7.5"/><circle cx="177.7" cy="173.7" r="7.5"/><circle cx="224.3" cy="173.2" r="7.5"/><circle cx="157.4" cy="241.5" r="7.5"/><circle cx="252.5" cy="241.5" r="7.5"/><circle cx="299.3" cy="241.5" r="7.5"/><circle cx="223.5" cy="280.8" r="7.5"/><circle cx="249.9" cy="277" r="7.5"/><circle cx="132" cy="314.2" r="7.5"/><circle cx="146.3" cy="308.7" r="7.5"/><circle cx="218.7" cy="308.7" r="7.5"/><circle cx="114" cy="336.2" r="7.5"/><circle cx="156.9" cy="347.3" r="7.5"/><circle cx="179.2" cy="346.4" r="7.5"/><circle cx="191.2" cy="343.9" r="7.5"/><circle cx="177.5" cy="354.2" r="7.5"/><circle cx="225.5" cy="332.7" r="7.5"/><circle cx="243.5" cy="334.4" r="7.5"/><circle cx="232.9" cy="343" r="7.5"/><circle cx="266.3" cy="333.1" r="7.5"/><circle cx="302.7" cy="351.6" r="7.5"/><circle cx="173.2" cy="369.6" r="7.5"/><circle cx="178.4" cy="376.1" r="7.5"/><circle cx="191.2" cy="377.3" r="7.5"/><circle cx="216.9" cy="379.9" r="7.5"/><circle cx="236.7" cy="375.6" r="7.5"/><circle cx="142.3" cy="389.3" r="7.5"/><circle cx="142.3" cy="405.6" r="7.5"/><circle cx="190.4" cy="396.2" r="7.5"/><circle cx="194.6" cy="394.5" r="7.5"/><circle cx="212.7" cy="407.3" r="7.5"/><circle cx="247.8" cy="398.8" r="7.5"/><circle cx="264.1" cy="385.9" r="7.5"/><circle cx="268.4" cy="394.5" r="7.5"/><circle cx="273.6" cy="406.5" r="7.5"/><circle cx="284.7" cy="391" r="7.5"/><circle cx="292.4" cy="384.2" r="7.5"/><circle cx="293.3" cy="397.9" r="7.5"/><circle cx="295" cy="411.6" r="7.5"/><circle cx="182.6" cy="414.2" r="7.5"/><circle cx="225.5" cy="417.6" r="7.5"/><circle cx="125.7" cy="426.8" r="7.5"/><circle cx="190.8" cy="382.2" r="7.5"/><circle cx="236.9" cy="380" r="7.5"/><circle cx="219.8" cy="429.1" r="7.5"/><circle cx="238.4" cy="428.3" r="7.5"/><circle cx="253.3" cy="433.5" r="7.5"/><circle cx="270.3" cy="427.6" r="7.5"/><circle cx="287.4" cy="426.1" r="7.5"/><circle cx="302.3" cy="429.1" r="7.5"/><circle cx="184.6" cy="445" r="7.5"/><circle cx="199.7" cy="452.1" r="7.5"/><circle cx="210.1" cy="443.9" r="7.5"/><circle cx="222" cy="443.9" r="7.5"/><circle cx="241.4" cy="440.9" r="7.5"/><circle cx="257.7" cy="439.5" r="7.5"/><circle cx="274.1" cy="445.4" r="7.5"/><circle cx="274.1" cy="454.3" r="7.5"/><circle cx="291.9" cy="451.4" r="7.5"/><circle cx="301.6" cy="443.9" r="7.5"/><circle cx="213.1" cy="461" r="7.5"/><circle cx="264.4" cy="461.8" r="7.5"/><circle cx="196.8" cy="467.7" r="7.5"/><circle cx="215.3" cy="473.7" r="7.5"/><circle cx="239.9" cy="467.7" r="7.5"/><circle cx="139.1" cy="485.8" r="7.5"/><circle cx="183.8" cy="488.2" r="7.5"/><circle cx="198.2" cy="498.9" r="7.5"/><circle cx="155.9" cy="499.7" r="7.5"/><circle cx="116.9" cy="500.1" r="7.5"/><circle cx="119.2" cy="513.5" r="7.5"/><circle cx="129.6" cy="519.7" r="7.5"/><circle cx="162.3" cy="521.2" r="7.5"/><circle cx="169.7" cy="515.3" r="7.5"/><circle cx="184.1" cy="515.7" r="7.5"/><circle cx="116.2" cy="536.4" r="7.5"/><circle cx="162" cy="536.1" r="7.5"/><circle cx="192.3" cy="545" r="7.5"/><circle cx="144" cy="560.3" r="7.5"/><circle cx="163.6" cy="553.6" r="7.5"/><circle cx="194.5" cy="560.6" r="7.5"/><circle cx="160.3" cy="574.4" r="7.5"/><circle cx="171.5" cy="583.4" r="7.5"/><circle cx="109.1" cy="592.3" r="7.5"/><circle cx="143.2" cy="591.1" r="7.5"/><circle cx="152.9" cy="588.1" r="7.5"/><circle cx="179.7" cy="592.6" r="7.5"/><circle cx="200.5" cy="596.3" r="7.5"/><circle cx="173" cy="603.7" r="7.5"/><circle cx="214.6" cy="556.9" r="7.5"/><circle cx="208.7" cy="576.2" r="7.5"/><circle cx="218.3" cy="581.4" r="7.5"/><circle cx="225.7" cy="570.3" r="7.5"/><circle cx="223.5" cy="597" r="7.5"/><circle cx="231" cy="603" r="7.5"/><circle cx="241.7" cy="564.5" r="7.5"/><circle cx="246.5" cy="498.5" r="7.5"/><circle cx="286.9" cy="583.4" r="7.5"/><circle cx="220.6" cy="507.7" r="7.5"/><circle cx="288.4" cy="478.9" r="7.5"/><circle cx="274.1" cy="566.1" r="7.5"/><circle cx="302.1" cy="598.1" r="7.5"/><circle cx="304.3" cy="577.4" r="7.5"/><circle cx="302.9" cy="548.8" r="7.5"/><circle cx="282.8" cy="566.7" r="7.5"/><circle cx="287" cy="518.3" r="7.5"/><circle cx="216.8" cy="512" r="7.5"/><circle cx="203.2" cy="519.2" r="7.5"/><circle cx="301.2" cy="577.5" r="7.5"/><circle cx="280.3" cy="504.2" r="7.5"/><circle cx="243.6" cy="544" r="7.5"/><circle cx="241.5" cy="601.8" r="7.5"/><circle cx="292.1" cy="481.4" r="7.5"/><circle cx="300.1" cy="512.9" r="7.5"/><circle cx="274.8" cy="542.4" r="7.5"/><circle cx="258.8" cy="561.9" r="7.5"/><circle cx="281.2" cy="562.9" r="7.5"/><circle cx="244.8" cy="576.8" r="7.5"/><circle cx="275" cy="562.1" r="7.5"/><circle cx="299.5" cy="551.5" r="7.5"/><circle cx="218.9" cy="520.3" r="7.5"/><circle cx="276.2" cy="566.3" r="7.5"/><circle cx="241.5" cy="531.6" r="7.5"/><circle cx="294" cy="515.3" r="7.5"/><circle cx="299" cy="551.9" r="7.5"/><circle cx="271.4" cy="548.8" r="7.5"/><circle cx="282.6" cy="507.3" r="7.5"/><circle cx="234.7" cy="565.2" r="7.5"/><circle cx="264.4" cy="477.5" r="7.5"/><circle cx="257.8" cy="548.7" r="7.5"/><circle cx="288.4" cy="500.7" r="7.5"/><circle cx="301.7" cy="595" r="7.5"/><circle cx="265.2" cy="511.1" r="7.5"/><circle cx="247.9" cy="574.9" r="7.5"/><circle cx="235.9" cy="574.9" r="7.5"/><circle cx="275.8" cy="547" r="7.5"/><circle cx="302.9" cy="515.7" r="7.5"/><circle cx="304.4" cy="545.7" r="7.5"/><circle cx="249.6" cy="550.3" r="7.5"/><circle cx="227.4" cy="503.9" r="7.5"/><circle cx="272" cy="475.5" r="7.5"/><circle cx="269.3" cy="566.9" r="7.5"/><circle cx="234.9" cy="529.6" r="7.5"/><circle cx="299.2" cy="600.9" r="7.5"/><circle cx="296.6" cy="581.3" r="7.5"/><circle cx="301.4" cy="569.7" r="7.5"/><circle cx="272.8" cy="522.3" r="7.5"/><circle cx="297" cy="543.1" r="7.5"/><circle cx="244.1" cy="581.7" r="7.5"/><circle cx="232.2" cy="505.7" r="7.5"/><circle cx="268.1" cy="574.5" r="7.5"/><circle cx="294.9" cy="479.1" r="7.5"/><circle cx="303.5" cy="585.2" r="7.5"/><circle cx="276.8" cy="577.6" r="7.5"/><circle cx="273.4" cy="577.3" r="7.5"/><circle cx="288.6" cy="569" r="7.5"/><circle cx="295.5" cy="525.2" r="7.5"/><circle cx="223" cy="581.6" r="7.5"/><circle cx="275.1" cy="596" r="7.5"/><circle cx="261" cy="521.1" r="7.5"/><circle cx="287.4" cy="532.2" r="7.5"/><circle cx="222.6" cy="577.3" r="7.5"/><circle cx="223.7" cy="566.9" r="7.5"/><circle cx="279.7" cy="555.4" r="7.5"/><circle cx="248.1" cy="522.4" r="7.5"/><circle cx="257.2" cy="559.8" r="7.5"/><circle cx="272.5" cy="514.8" r="7.5"/><circle cx="251.6" cy="596.4" r="7.5"/><circle cx="265.8" cy="558.9" r="7.5"/><circle cx="270.5" cy="571.4" r="7.5"/><circle cx="281.4" cy="583.3" r="7.5"/><circle cx="211.7" cy="515.2" r="7.5"/><circle cx="240.7" cy="526.2" r="7.5"/><circle cx="302.2" cy="537.7" r="7.5"/><circle cx="241.7" cy="532.2" r="7.5"/><circle cx="270.3" cy="546.1" r="7.5"/><circle cx="250.9" cy="498.2" r="7.5"/><circle cx="277.1" cy="549.6" r="7.5"/><circle cx="210.2" cy="565.3" r="7.5"/><circle cx="238.6" cy="544.8" r="7.5"/><circle cx="259.3" cy="553.8" r="7.5"/><circle cx="298.1" cy="524.8" r="7.5"/><circle cx="277.9" cy="540.7" r="7.5"/><circle cx="296.2" cy="494.7" r="7.5"/><circle cx="285" cy="548.6" r="7.5"/><circle cx="229.1" cy="486.3" r="7.5"/><circle cx="283.2" cy="539.2" r="7.5"/><circle cx="270.2" cy="513.5" r="7.5"/><circle cx="243" cy="560.2" r="7.5"/><circle cx="269.1" cy="476.5" r="7.5"/><circle cx="227.9" cy="553.8" r="7.5"/><circle cx="229.9" cy="498.4" r="7.5"/><circle cx="258.3" cy="583.9" r="7.5"/><circle cx="266.9" cy="569.7" r="7.5"/><circle cx="243.7" cy="554.3" r="7.5"/><circle cx="263.8" cy="511.7" r="7.5"/><circle cx="262.8" cy="538.2" r="7.5"/><circle cx="248.2" cy="552.6" r="7.5"/><circle cx="229" cy="531.9" r="7.5"/><circle cx="301.4" cy="484.7" r="7.5"/><circle cx="265.6" cy="513.8" r="7.5"/><circle cx="245.2" cy="544.1" r="7.5"/><circle cx="297.7" cy="478" r="7.5"/><circle cx="299.3" cy="524.6" r="7.5"/><circle cx="303.1" cy="514.9" r="7.5"/><circle cx="238.8" cy="505.8" r="7.5"/><circle cx="248.1" cy="488.8" r="7.5"/><circle cx="242.5" cy="520.9" r="7.5"/><circle cx="289.7" cy="505.5" r="7.5"/><circle cx="263" cy="481.4" r="7.5"/><circle cx="289" cy="594.5" r="7.5"/><circle cx="247" cy="556.4" r="7.5"/><circle cx="298.6" cy="532.3" r="7.5"/><circle cx="287.2" cy="532.4" r="7.5"/><circle cx="279" cy="521" r="7.5"/><circle cx="288" cy="587.9" r="7.5"/><circle cx="280.8" cy="468.6" r="7.5"/><circle cx="230.4" cy="533.8" r="7.5"/><circle cx="268.1" cy="502" r="7.5"/><circle cx="223.5" cy="508.8" r="7.5"/><circle cx="238.9" cy="601.7" r="7.5"/><circle cx="235.8" cy="586.7" r="7.5"/><circle cx="265.4" cy="559.6" r="7.5"/><circle cx="267.1" cy="482" r="7.5"/><circle cx="291.6" cy="472.3" r="7.5"/><circle cx="262.1" cy="586.4" r="7.5"/><circle cx="252" cy="520.1" r="7.5"/><circle cx="295.2" cy="546.7" r="7.5"/><circle cx="252.3" cy="505.4" r="7.5"/><circle cx="302.3" cy="552.6" r="7.5"/><circle cx="253.5" cy="522.9" r="7.5"/><circle cx="256.3" cy="539.4" r="7.5"/><circle cx="298.4" cy="541.9" r="7.5"/><circle cx="236.8" cy="527.2" r="7.5"/><circle cx="245.5" cy="500" r="7.5"/><circle cx="229.2" cy="564.4" r="7.5"/><circle cx="271.4" cy="500" r="7.5"/><circle cx="236.5" cy="534.3" r="7.5"/><circle cx="291.1" cy="530.3" r="7.5"/><circle cx="296.5" cy="520.3" r="7.5"/><circle cx="301.2" cy="544.2" r="7.5"/><circle cx="280.9" cy="547.7" r="7.5"/><circle cx="268.1" cy="499.8" r="7.5"/><circle cx="278.5" cy="478.2" r="7.5"/><circle cx="296.2" cy="478.2" r="7.5"/><circle cx="282.9" cy="483.8" r="7.5"/><circle cx="276" cy="554.5" r="7.5"/><circle cx="294.5" cy="587.2" r="7.5"/><circle cx="257.6" cy="479.4" r="7.5"/><circle cx="275.9" cy="480.5" r="7.5"/><circle cx="297.3" cy="520.4" r="7.5"/><circle cx="234.6" cy="548.7" r="7.5"/><circle cx="299.3" cy="600.3" r="7.5"/><circle cx="248.5" cy="493.7" r="7.5"/><circle cx="288" cy="547.7" r="7.5"/><circle cx="276.8" cy="519.3" r="7.5"/><circle cx="230.4" cy="554.8" r="7.5"/><circle cx="281.5" cy="504" r="7.5"/><circle cx="303.8" cy="498.6" r="7.5"/><circle cx="234.6" cy="535.3" r="7.5"/><circle cx="242" cy="591" r="7.5"/><circle cx="243.3" cy="590.2" r="7.5"/><circle cx="284.6" cy="537.9" r="7.5"/><circle cx="274.8" cy="554.5" r="7.5"/><circle cx="288.5" cy="564" r="7.5"/><circle cx="248.6" cy="567.9" r="7.5"/><circle cx="269.4" cy="584.2" r="7.5"/><circle cx="276.9" cy="560.5" r="7.5"/><circle cx="280.1" cy="530.9" r="7.5"/><circle cx="253.8" cy="568.5" r="7.5"/><circle cx="247.3" cy="579.9" r="7.5"/><circle cx="289.9" cy="512.3" r="7.5"/><circle cx="272.5" cy="543.4" r="7.5"/><circle cx="303.9" cy="563.6" r="7.5"/><circle cx="271.2" cy="591" r="7.5"/><circle cx="213.6" cy="581.1" r="7.5"/><circle cx="264.6" cy="494.7" r="7.5"/><circle cx="248.4" cy="540.4" r="7.5"/><circle cx="260" cy="471.8" r="7.5"/><circle cx="286.4" cy="503.6" r="7.5"/><circle cx="290.6" cy="519.8" r="7.5"/><circle cx="299.4" cy="582.9" r="7.5"/><circle cx="216" cy="566.5" r="7.5"/><circle cx="225.3" cy="587.3" r="7.5"/><circle cx="269.2" cy="524.2" r="7.5"/><circle cx="280.2" cy="594" r="7.5"/><circle cx="220.7" cy="515.4" r="7.5"/><circle cx="220.1" cy="568.4" r="7.5"/><circle cx="255.3" cy="481.8" r="7.5"/><circle cx="265.8" cy="570.9" r="7.5"/><circle cx="252.1" cy="564.2" r="7.5"/><circle cx="299" cy="566.7" r="7.5"/><circle cx="255.6" cy="591.6" r="7.5"/><circle cx="299.3" cy="525.2" r="7.5"/><circle cx="303.3" cy="564.5" r="7.5"/><circle cx="238.1" cy="514.4" r="7.5"/><circle cx="299.3" cy="540.7" r="7.5"/><circle cx="246" cy="514" r="7.5"/><circle cx="203.2" cy="535.7" r="7.5"/><circle cx="273.8" cy="586.8" r="7.5"/><circle cx="216.9" cy="504.6" r="7.5"/><circle cx="288.6" cy="513.5" r="7.5"/><circle cx="281.6" cy="488.4" r="7.5"/><circle cx="258.5" cy="505.5" r="7.5"/><circle cx="300.4" cy="576.5" r="7.5"/><circle cx="283.2" cy="490.3" r="7.5"/><circle cx="287.8" cy="524.1" r="7.5"/><circle cx="277.4" cy="481.9" r="7.5"/><circle cx="296.1" cy="489.7" r="7.5"/><circle cx="226.5" cy="574.2" r="7.5"/><circle cx="220.2" cy="557" r="7.5"/><circle cx="224.2" cy="572" r="7.5"/><circle cx="245.5" cy="533.2" r="7.5"/><circle cx="264.1" cy="484.8" r="7.5"/><circle cx="229.2" cy="507.2" r="7.5"/><circle cx="256.4" cy="542.8" r="7.5"/><circle cx="214.5" cy="550.8" r="7.5"/><circle cx="269" cy="487.8" r="7.5"/><circle cx="236.1" cy="551.5" r="7.5"/><circle cx="254.1" cy="543.5" r="7.5"/><circle cx="303.1" cy="539.5" r="7.5"/><circle cx="278.5" cy="467.1" r="7.5"/><circle cx="286.9" cy="552.5" r="7.5"/><circle cx="300.8" cy="492.6" r="7.5"/><circle cx="250.9" cy="569.5" r="7.5"/><circle cx="247.6" cy="566.8" r="7.5"/><circle cx="236.4" cy="551.4" r="7.5"/><circle cx="304.1" cy="601.7" r="7.5"/><circle cx="274.6" cy="501.1" r="7.5"/><circle cx="289.7" cy="527.4" r="7.5"/><circle cx="267.8" cy="498" r="7.5"/><circle cx="289.2" cy="500.6" r="7.5"/><circle cx="242.8" cy="486.1" r="7.5"/><circle cx="250.2" cy="558.9" r="7.5"/><circle cx="300.6" cy="596.6" r="7.5"/><circle cx="207.6" cy="536.2" r="7.5"/><circle cx="271.7" cy="555" r="7.5"/><circle cx="257" cy="560.7" r="7.5"/><circle cx="298.4" cy="563.7" r="7.5"/><circle cx="210.1" cy="524.2" r="7.5"/><circle cx="257.5" cy="482.4" r="7.5"/><circle cx="254.8" cy="469.6" r="7.5"/><circle cx="264" cy="466.3" r="7.5"/><circle cx="304.3" cy="470.3" r="7.5"/><circle cx="262.8" cy="466.5" r="7.5"/><circle cx="263.8" cy="479.2" r="7.5"/><circle cx="294.7" cy="481.7" r="7.5"/><circle cx="294.7" cy="471.7" r="7.5"/><circle cx="251.9" cy="478.4" r="7.5"/><circle cx="298.7" cy="466" r="7.5"/><circle cx="267.3" cy="482.7" r="7.5"/><circle cx="277.3" cy="476.9" r="7.5"/><circle cx="291.1" cy="477.7" r="7.5"/><circle cx="294.3" cy="480.1" r="7.5"/><circle cx="304.5" cy="457.2" r="7.5"/><circle cx="304" cy="470.6" r="7.5"/><circle cx="254.6" cy="467.7" r="7.5"/><circle cx="303.2" cy="461.9" r="7.5"/><circle cx="286.5" cy="460.7" r="7.5"/><circle cx="272.5" cy="472.5" r="7.5"/></g>
<g fill="#f2465e" fill-opacity="0.42"><circle cx="705.4" cy="107.8" r="7.5"/><circle cx="801.9" cy="99.3" r="7.5"/><circle cx="743.5" cy="125.8" r="7.5"/><circle cx="796.7" cy="173.1" r="7.5"/><circle cx="817.3" cy="173.1" r="7.5"/><circle cx="832.7" cy="173.1" r="7.5"/><circle cx="709.3" cy="185.5" r="7.5"/><circle cx="742.7" cy="185.5" r="7.5"/><circle cx="749.2" cy="185.5" r="7.5"/><circle cx="865.4" cy="185.5" r="7.5"/><circle cx="822.5" cy="195" r="7.5"/><circle cx="802.4" cy="210.7" r="7.5"/><circle cx="771.8" cy="215.8" r="7.5"/><circle cx="818.1" cy="236.1" r="7.5"/><circle cx="812.2" cy="242" r="7.5"/><circle cx="711.9" cy="256.2" r="7.5"/><circle cx="704.1" cy="261.3" r="7.5"/><circle cx="723.4" cy="262.1" r="7.5"/><circle cx="701.6" cy="279.3" r="7.5"/><circle cx="717" cy="279.3" r="7.5"/><circle cx="726" cy="276.8" r="7.5"/><circle cx="723.4" cy="285.8" r="7.5"/><circle cx="727.3" cy="289.6" r="7.5"/><circle cx="769.2" cy="277.5" r="7.5"/><circle cx="796" cy="276" r="7.5"/><circle cx="837.9" cy="275" r="7.5"/><circle cx="778.7" cy="285.8" r="7.5"/><circle cx="791.6" cy="291.4" r="7.5"/><circle cx="787.7" cy="300.7" r="7.5"/><circle cx="823.7" cy="309.4" r="7.5"/><circle cx="837.9" cy="300.7" r="7.5"/><circle cx="706.7" cy="300.7" r="7.5"/><circle cx="704.1" cy="314.6" r="7.5"/><circle cx="709.3" cy="321.8" r="7.5"/><circle cx="731.2" cy="312" r="7.5"/><circle cx="760" cy="314.6" r="7.5"/><circle cx="763.3" cy="317.9" r="7.5"/><circle cx="740.2" cy="331.5" r="7.5"/><circle cx="767.2" cy="333.3" r="7.5"/><circle cx="794.9" cy="332.6" r="7.5"/><circle cx="709.3" cy="343.6" r="7.5"/><circle cx="714.4" cy="347.5" r="7.5"/><circle cx="719.6" cy="352.6" r="7.5"/><circle cx="765.9" cy="344.9" r="7.5"/><circle cx="772.3" cy="346.2" r="7.5"/><circle cx="787.2" cy="357.8" r="7.5"/><circle cx="705.4" cy="365" r="7.5"/><circle cx="719.6" cy="368.1" r="7.5"/><circle cx="732.4" cy="363.7" r="7.5"/><circle cx="747.9" cy="373.2" r="7.5"/><circle cx="760" cy="381.4" r="7.5"/><circle cx="820.7" cy="368.1" r="7.5"/><circle cx="713.7" cy="390.7" r="7.5"/><circle cx="707.5" cy="402.8" r="7.5"/><circle cx="755.6" cy="395.8" r="7.5"/><circle cx="746.6" cy="404.8" r="7.5"/><circle cx="787.7" cy="390.7" r="7.5"/><circle cx="788.3" cy="391.2" r="7.5"/><circle cx="727.3" cy="415.6" r="7.5"/><circle cx="726" cy="422.1" r="7.5"/><circle cx="726" cy="428.5" r="7.5"/><circle cx="728.6" cy="440.1" r="7.5"/><circle cx="709.3" cy="424.7" r="7.5"/><circle cx="702.3" cy="429.3" r="7.5"/><circle cx="755.6" cy="423.4" r="7.5"/><circle cx="777.4" cy="422.8" r="7.5"/><circle cx="773.6" cy="432.4" r="7.5"/><circle cx="772.3" cy="436.2" r="7.5"/><circle cx="750.4" cy="441.4" r="7.5"/><circle cx="742.7" cy="445.7" r="7.5"/><circle cx="761.5" cy="445.2" r="7.5"/><circle cx="821.7" cy="420.8" r="7.5"/><circle cx="834" cy="428.5" r="7.5"/><circle cx="840.5" cy="429.3" r="7.5"/><circle cx="869.3" cy="419" r="7.5"/><circle cx="758.2" cy="460.1" r="7.5"/><circle cx="773.6" cy="468.4" r="7.5"/><circle cx="797.5" cy="467.9" r="7.5"/><circle cx="866.4" cy="465" r="7.5"/><circle cx="709.3" cy="491" r="7.5"/><circle cx="721.4" cy="487.7" r="7.5"/><circle cx="744.5" cy="483.3" r="7.5"/><circle cx="754.3" cy="490.8" r="7.5"/><circle cx="760.7" cy="491.5" r="7.5"/><circle cx="774.9" cy="492.3" r="7.5"/><circle cx="732.4" cy="494.6" r="7.5"/><circle cx="735" cy="499.2" r="7.5"/><circle cx="724.7" cy="504.9" r="7.5"/><circle cx="742.7" cy="504.4" r="7.5"/><circle cx="777.4" cy="507.7" r="7.5"/><circle cx="704.1" cy="511.6" r="7.5"/><circle cx="756.4" cy="515.4" r="7.5"/><circle cx="803.2" cy="517.2" r="7.5"/><circle cx="822.5" cy="518.5" r="7.5"/><circle cx="825" cy="519.8" r="7.5"/><circle cx="720.3" cy="525" r="7.5"/><circle cx="713.1" cy="530.1" r="7.5"/><circle cx="710.6" cy="539.1" r="7.5"/><circle cx="759.4" cy="526.2" r="7.5"/><circle cx="771.8" cy="527" r="7.5"/><circle cx="784.7" cy="530.1" r="7.5"/><circle cx="799.8" cy="531.4" r="7.5"/><circle cx="724.7" cy="543" r="7.5"/><circle cx="746.6" cy="543" r="7.5"/><circle cx="744" cy="550.7" r="7.5"/><circle cx="762" cy="540.4" r="7.5"/><circle cx="767.2" cy="543" r="7.5"/><circle cx="763.3" cy="548.1" r="7.5"/><circle cx="776.2" cy="550.2" r="7.5"/><circle cx="826.3" cy="540.4" r="7.5"/><circle cx="839.7" cy="539.9" r="7.5"/><circle cx="715.7" cy="554.5" r="7.5"/><circle cx="738.9" cy="561" r="7.5"/><circle cx="705.4" cy="570" r="7.5"/><circle cx="710.6" cy="571.3" r="7.5"/><circle cx="714.4" cy="567.4" r="7.5"/><circle cx="746.1" cy="572.5" r="7.5"/><circle cx="768.4" cy="573.8" r="7.5"/><circle cx="708" cy="584.1" r="7.5"/><circle cx="780" cy="586.2" r="7.5"/><circle cx="833.5" cy="587.2" r="7.5"/><circle cx="843.8" cy="586.2" r="7.5"/><circle cx="748.6" cy="593.1" r="7.5"/><circle cx="714.4" cy="598.3" r="7.5"/><circle cx="819.9" cy="597" r="7.5"/><circle cx="867" cy="598.3" r="7.5"/><circle cx="705.4" cy="591.8" r="7.5"/></g>
</g>
<line x1="65.2" y1="605.8" x2="940.8" y2="605.8" stroke="#000" stroke-width="4.4" stroke-dasharray="4 14.25 18 14.25"/>
<line x1="303.5" y1="65.2" x2="303.5" y2="825.8" stroke="#000" stroke-width="4.4" stroke-dasharray="4 14.25 18 14.25"/>
<line x1="702.3" y1="65.2" x2="702.3" y2="825.8" stroke="#000" stroke-width="4.4" stroke-dasharray="4 14.25 18 14.25"/>
<rect x="65.2" y="65.2" width="875.6" height="760.6" fill="none" stroke="#333" stroke-width="1.25"/>
<line x1="104.1" y1="825.8" x2="104.1" y2="832.8" stroke="#333" stroke-width="2.2"/>
<text x="104.1" y="858" font-size="23" text-anchor="middle" fill="#4d4d4d">−2</text>
<line x1="303.5" y1="825.8" x2="303.5" y2="832.8" stroke="#333" stroke-width="2.2"/>
<text x="303.5" y="858" font-size="23" text-anchor="middle" fill="#4d4d4d">−1</text>
<line x1="502.9" y1="825.8" x2="502.9" y2="832.8" stroke="#333" stroke-width="2.2"/>
<text x="502.9" y="858" font-size="23" text-anchor="middle" fill="#4d4d4d">0</text>
<line x1="702.3" y1="825.8" x2="702.3" y2="832.8" stroke="#333" stroke-width="2.2"/>
<text x="702.3" y="858" font-size="23" text-anchor="middle" fill="#4d4d4d">1</text>
<line x1="901.7" y1="825.8" x2="901.7" y2="832.8" stroke="#333" stroke-width="2.2"/>
<text x="901.7" y="858" font-size="23" text-anchor="middle" fill="#4d4d4d">2</text>
<line x1="58.2" y1="792" x2="65.2" y2="792" stroke="#333" stroke-width="2.2"/>
<text x="49" y="800.8" font-size="23.5" text-anchor="end" fill="#4d4d4d">0</text>
<line x1="58.2" y1="648.9" x2="65.2" y2="648.9" stroke="#333" stroke-width="2.2"/>
<text x="49" y="657.7" font-size="23.5" text-anchor="end" fill="#4d4d4d">1</text>
<line x1="58.2" y1="505.8" x2="65.2" y2="505.8" stroke="#333" stroke-width="2.2"/>
<text x="49" y="514.6" font-size="23.5" text-anchor="end" fill="#4d4d4d">2</text>
<line x1="58.2" y1="362.7" x2="65.2" y2="362.7" stroke="#333" stroke-width="2.2"/>
<text x="49" y="371.5" font-size="23.5" text-anchor="end" fill="#4d4d4d">3</text>
<line x1="58.2" y1="219.6" x2="65.2" y2="219.6" stroke="#333" stroke-width="2.2"/>
<text x="49" y="228.4" font-size="23.5" text-anchor="end" fill="#4d4d4d">4</text>
<line x1="58.2" y1="76.5" x2="65.2" y2="76.5" stroke="#333" stroke-width="2.2"/>
<text x="49" y="85.3" font-size="23.5" text-anchor="end" fill="#4d4d4d">5</text>
<text x="500" y="892.3" font-size="29" text-anchor="middle">log2FC</text>
<text transform="translate(24.2,450.3) rotate(-90)" x="0" y="0" font-size="29.8" text-anchor="middle">−log10(FDR)</text>
<text x="281.4" y="35" font-size="29">type</text>
<circle cx="374.9" cy="24.3" r="7.6" fill="#5064e4" fill-opacity="0.43"/>
<text x="413.5" y="33.4" font-size="23.4">Down</text>
<circle cx="511.9" cy="24.3" r="7.6" fill="#d3dbe3" fill-opacity="0.42"/>
<text x="550.7" y="33.4" font-size="23.4">Stable</text>
<circle cx="656" cy="24.3" r="7.6" fill="#f04258" fill-opacity="0.42"/>
<text x="694.5" y="33.4" font-size="23.4">Up</text>
<text x="64" y="39.5" font-size="32.5">(a)</text>
<g transform="translate(1056.10,99.90) scale(41.8643,1.50692)" shape-rendering="crispEdges">
<path fill="rgb(69,117,180)" d="M1 25h1V26H1zM1 58h1V59H1zM1 86h1V87H1zM1 107h1V109H1zM3 39h1V40H3zM3 44h1V45H3zM5 66h1V67H5zM5 76h1V78H5zM5 84h1V85H5zM5 86h1V88H5zM5 100h1V101H5zM5 113h1V114H5zM6 4h1V5H6zM6 7h1V8H6zM6 12h1V13H6zM6 15h1V17H6zM6 27h1V28H6zM6 47h1V48H6zM6 72h1V73H6zM6 86h1V87H6zM6 97h1V99H6zM6 107h1V108H6zM8 27h1V29H8zM8 31h1V32H8zM8 42h1V43H8zM8 44h1V45H8zM8 54h1V56H8zM8 113h1V115H8zM8 117h1V119H8zM8 125h1V126H8zM10 28h1V29H10zM10 65h1V66H10zM10 80h1V81H10zM13 12h1V13H13zM13 26h1V28H13zM13 30h1V31H13zM13 42h1V43H13zM13 45h1V46H13zM13 76h1V78H13zM13 96h1V97H13zM13 99h1V100H13zM13 104h1V105H13zM13 107h1V108H13zM13 113h1V114H13zM13 118h1V119H13z"/>
<path fill="rgb(86,133,189)" d="M1 53h1V54H1zM1 89h1V90H1zM1 115h1V116H1zM2 113h1V114H2zM3 121h1V122H3zM5 101h1V102H5zM5 111h1V112H5zM6 36h1V37H6zM8 5h1V7H8zM8 82h1V83H8zM8 95h1V96H8zM8 128h1V130H8zM10 23h1V24H10zM10 44h1V45H10zM10 50h1V51H10zM10 102h1V103H10zM10 125h1V126H10zM11 84h1V85H11zM12 100h1V101H12zM13 29h1V30H13zM13 90h1V91H13zM13 124h1V125H13z"/>
<path fill="rgb(103,150,197)" d="M1 8h1V9H1zM1 12h1V13H1zM1 75h1V76H1zM1 83h1V84H1zM3 20h1V21H3zM3 26h1V27H3zM3 42h1V43H3zM3 99h1V100H3zM5 0h1V1H5zM5 10h1V11H5zM5 56h1V57H5zM5 114h1V115H5zM6 51h1V52H6zM6 76h1V77H6zM6 84h1V85H6zM6 94h1V95H6zM7 86h1V87H7zM7 125h1V126H7zM8 17h1V18H8zM8 43h1V44H8zM8 69h1V70H8zM8 77h1V78H8zM8 81h1V82H8zM8 86h1V88H8zM8 101h1V102H8zM8 107h1V108H8zM10 10h1V11H10zM10 20h1V21H10zM10 37h1V38H10zM10 41h1V42H10zM10 47h1V48H10zM10 88h1V89H10zM10 116h1V117H10zM12 80h1V81H12zM12 125h1V126H12zM13 36h1V38H13zM13 69h1V71H13zM13 81h1V82H13z"/>
<path fill="rgb(120,166,206)" d="M1 38h1V39H1zM1 51h1V52H1zM3 6h1V7H3zM3 60h1V61H3zM4 15h1V16H4zM4 126h1V127H4zM5 1h1V2H5zM5 18h1V19H5zM5 79h1V80H5zM5 83h1V84H5zM6 8h1V9H6zM6 18h1V19H6zM6 20h1V21H6zM6 71h1V72H6zM6 77h1V78H6zM6 89h1V90H6zM6 114h1V115H6zM6 121h1V122H6zM7 10h1V11H7zM7 115h1V116H7zM7 123h1V124H7zM8 7h1V8H8zM8 11h1V13H8zM8 49h1V50H8zM8 68h1V69H8zM8 75h1V77H8zM8 84h1V85H8zM8 93h1V95H8zM8 99h1V100H8zM8 110h1V111H8zM10 45h1V46H10zM10 115h1V116H10zM10 124h1V125H10zM11 36h1V37H11zM12 88h1V89H12zM12 124h1V125H12zM13 10h1V11H13zM13 80h1V81H13zM13 89h1V90H13zM13 97h1V98H13zM13 123h1V124H13zM13 126h1V127H13z"/>
<path fill="rgb(137,183,215)" d="M1 20h1V21H1zM1 30h1V31H1zM1 67h1V68H1zM1 88h1V89H1zM1 93h1V94H1zM2 36h1V37H2zM2 81h1V82H2zM3 3h1V4H3zM3 15h1V16H3zM3 76h1V77H3zM4 39h1V40H4zM5 28h1V29H5zM5 42h1V45H5zM5 48h1V49H5zM5 61h1V62H5zM5 96h1V97H5zM5 102h1V103H5zM5 119h1V120H5zM5 128h1V129H5zM6 35h1V36H6zM6 37h1V39H6zM6 82h1V83H6zM6 87h1V88H6zM6 100h1V101H6zM7 14h1V15H7zM7 50h1V51H7zM7 59h1V60H7zM8 18h1V19H8zM8 26h1V27H8zM8 32h1V33H8zM8 35h1V36H8zM8 37h1V38H8zM8 47h1V48H8zM8 53h1V54H8zM8 73h1V74H8zM8 88h1V89H8zM8 119h1V120H8zM10 35h1V37H10zM10 89h1V90H10zM11 35h1V36H11zM11 54h1V55H11zM12 23h1V24H12zM12 47h1V48H12zM12 101h1V102H12zM13 1h1V2H13zM13 74h1V75H13zM13 92h1V93H13zM13 102h1V103H13z"/>
<path fill="rgb(154,197,222)" d="M1 34h1V35H1zM1 59h1V60H1zM1 124h1V125H1zM2 12h1V13H2zM2 100h1V101H2zM2 125h1V126H2zM3 7h1V8H3zM3 21h1V22H3zM3 114h1V115H3zM3 129h1V130H3zM4 30h1V31H4zM5 24h1V25H5zM5 55h1V56H5zM5 58h1V59H5zM5 74h1V75H5zM5 80h1V81H5zM5 85h1V86H5zM5 89h1V90H5zM5 107h1V108H5zM5 121h1V122H5zM5 125h1V126H5zM5 129h1V130H5zM6 2h1V3H6zM6 6h1V7H6zM6 9h1V10H6zM6 19h1V20H6zM6 29h1V31H6zM6 40h1V41H6zM6 44h1V45H6zM6 57h1V58H6zM6 60h1V61H6zM6 66h1V67H6zM6 68h1V69H6zM6 75h1V76H6zM6 81h1V82H6zM6 95h1V97H6zM6 103h1V104H6zM6 113h1V114H6zM6 123h1V124H6zM6 125h1V126H6zM6 127h1V129H6zM7 100h1V101H7zM8 0h1V2H8zM8 41h1V42H8zM8 57h1V58H8zM8 59h1V60H8zM8 65h1V66H8zM8 67h1V68H8zM8 80h1V81H8zM8 83h1V84H8zM8 100h1V101H8zM8 103h1V104H8zM8 115h1V116H8zM8 121h1V122H8zM10 33h1V34H10zM10 58h1V59H10zM10 94h1V95H10zM10 101h1V102H10zM10 108h1V109H10zM10 112h1V113H10zM10 117h1V118H10zM10 121h1V122H10zM11 2h1V3H11zM11 15h1V16H11zM11 55h1V56H11zM11 102h1V103H11zM12 6h1V7H12zM12 11h1V12H12zM12 44h1V45H12zM12 112h1V113H12zM12 118h1V119H12zM12 122h1V123H12zM13 9h1V10H13zM13 22h1V23H13zM13 35h1V36H13zM13 44h1V45H13zM13 47h1V48H13zM13 75h1V76H13zM13 83h1V84H13zM13 93h1V94H13zM13 101h1V102H13zM13 114h1V115H13zM13 125h1V126H13zM13 127h1V128H13zM13 129h1V130H13z"/>
<path fill="rgb(171,208,229)" d="M1 7h1V8H1zM1 33h1V34H1zM1 37h1V38H1zM1 44h1V45H1zM1 52h1V53H1zM1 55h1V57H1zM1 94h1V95H1zM2 55h1V56H2zM2 99h1V100H2zM2 126h1V127H2zM3 1h1V2H3zM3 32h1V33H3zM3 62h1V63H3zM3 65h1V66H3zM3 81h1V82H3zM3 84h1V85H3zM4 1h1V2H4zM4 37h1V38H4zM5 6h1V8H5zM5 37h1V38H5zM5 39h1V40H5zM5 75h1V76H5zM5 99h1V100H5zM6 3h1V4H6zM6 24h1V25H6zM6 26h1V27H6zM6 49h1V51H6zM6 53h1V54H6zM6 69h1V71H6zM6 79h1V80H6zM6 90h1V91H6zM6 92h1V93H6zM6 102h1V103H6zM6 116h1V117H6zM6 120h1V121H6zM7 4h1V5H7zM7 15h1V16H7zM7 21h1V22H7zM7 35h1V36H7zM7 42h1V43H7zM7 51h1V52H7zM7 62h1V63H7zM7 70h1V72H7zM7 93h1V94H7zM7 118h1V119H7zM7 124h1V125H7zM8 2h1V4H8zM8 20h1V21H8zM8 22h1V23H8zM8 38h1V39H8zM8 63h1V65H8zM8 85h1V86H8zM8 109h1V110H8zM8 116h1V117H8zM8 126h1V127H8zM9 38h1V39H9zM9 84h1V85H9zM10 24h1V25H10zM10 39h1V40H10zM10 62h1V63H10zM10 76h1V77H10zM10 87h1V88H10zM10 90h1V91H10zM10 97h1V98H10zM11 21h1V22H11zM11 27h1V28H11zM11 98h1V99H11zM12 24h1V25H12zM12 32h1V33H12zM12 34h1V35H12zM12 40h1V41H12zM12 49h1V50H12zM12 54h1V55H12zM12 69h1V70H12zM12 75h1V76H12zM12 79h1V80H12zM12 123h1V124H12zM13 6h1V8H13zM13 19h1V21H13zM13 34h1V35H13zM13 53h1V54H13zM13 59h1V60H13zM13 73h1V74H13zM13 78h1V79H13zM13 86h1V88H13zM13 103h1V104H13zM13 115h1V117H13z"/>
<path fill="rgb(189,220,235)" d="M1 40h1V41H1zM1 54h1V55H1zM1 69h1V71H1zM1 92h1V93H1zM1 103h1V104H1zM2 32h1V33H2zM2 43h1V44H2zM2 63h1V64H2zM2 69h1V70H2zM2 94h1V95H2zM2 110h1V111H2zM2 127h1V128H2zM3 2h1V3H3zM3 47h1V48H3zM3 51h1V52H3zM3 59h1V60H3zM3 70h1V71H3zM3 83h1V84H3zM3 85h1V87H3zM3 88h1V89H3zM3 91h1V92H3zM3 101h1V102H3zM3 111h1V112H3zM3 113h1V114H3zM4 38h1V39H4zM4 49h1V50H4zM4 51h1V52H4zM4 75h1V76H4zM4 80h1V81H4zM4 84h1V85H4zM4 111h1V112H4zM4 125h1V126H4zM4 128h1V129H4zM5 9h1V10H5zM5 16h1V18H5zM5 49h1V50H5zM5 51h1V52H5zM5 63h1V64H5zM5 69h1V71H5zM5 78h1V79H5zM5 93h1V96H5zM5 116h1V117H5zM6 1h1V2H6zM6 11h1V12H6zM6 31h1V32H6zM6 42h1V43H6zM6 48h1V49H6zM6 52h1V53H6zM6 54h1V55H6zM6 58h1V59H6zM6 62h1V63H6zM6 83h1V84H6zM6 99h1V100H6zM6 110h1V111H6zM6 126h1V127H6zM7 1h1V3H7zM7 23h1V24H7zM7 34h1V35H7zM7 38h1V39H7zM7 43h1V46H7zM7 60h1V61H7zM7 63h1V64H7zM7 65h1V66H7zM7 90h1V91H7zM7 99h1V100H7zM7 107h1V109H7zM7 110h1V111H7zM8 4h1V5H8zM8 9h1V10H8zM8 29h1V31H8zM8 36h1V37H8zM8 50h1V51H8zM8 56h1V57H8zM8 60h1V61H8zM8 62h1V63H8zM8 70h1V71H8zM8 89h1V90H8zM8 92h1V93H8zM8 102h1V103H8zM9 17h1V18H9zM9 73h1V74H9zM9 96h1V97H9zM9 125h1V126H9zM10 15h1V16H10zM10 19h1V20H10zM10 26h1V27H10zM10 29h1V30H10zM10 49h1V50H10zM10 54h1V56H10zM10 57h1V58H10zM10 63h1V64H10zM10 67h1V68H10zM10 84h1V85H10zM10 98h1V99H10zM11 6h1V7H11zM11 25h1V26H11zM11 34h1V35H11zM11 44h1V45H11zM11 46h1V47H11zM11 80h1V81H11zM11 109h1V110H11zM11 123h1V124H11zM12 10h1V11H12zM12 30h1V31H12zM12 33h1V34H12zM12 65h1V66H12zM12 67h1V68H12zM12 93h1V94H12zM12 113h1V114H12zM12 116h1V117H12zM12 121h1V122H12zM13 25h1V26H13zM13 48h1V49H13zM13 51h1V52H13zM13 63h1V64H13zM13 72h1V73H13zM13 94h1V95H13zM13 108h1V109H13zM13 110h1V112H13zM13 120h1V121H13z"/>
<path fill="rgb(206,231,242)" d="M1 1h1V2H1zM1 15h1V16H1zM1 32h1V33H1zM1 42h1V44H1zM1 47h1V48H1zM1 71h1V72H1zM1 84h1V85H1zM1 98h1V99H1zM1 102h1V103H1zM1 125h1V126H1zM2 2h1V3H2zM2 7h1V8H2zM2 11h1V12H2zM2 17h1V18H2zM2 28h1V29H2zM2 34h1V35H2zM2 89h1V90H2zM2 109h1V110H2zM2 121h1V122H2zM3 16h1V17H3zM3 35h1V36H3zM3 43h1V44H3zM3 49h1V50H3zM3 56h1V57H3zM3 63h1V64H3zM3 94h1V95H3zM3 118h1V119H3zM3 128h1V129H3zM4 19h1V20H4zM4 41h1V42H4zM4 57h1V58H4zM4 94h1V95H4zM4 100h1V101H4zM4 107h1V108H4zM5 21h1V22H5zM5 32h1V33H5zM5 62h1V63H5zM5 97h1V98H5zM5 103h1V104H5zM6 0h1V1H6zM6 17h1V18H6zM6 23h1V24H6zM6 25h1V26H6zM6 39h1V40H6zM6 41h1V42H6zM6 61h1V62H6zM6 85h1V86H6zM6 88h1V89H6zM6 115h1V116H6zM6 119h1V120H6zM7 0h1V1H7zM7 5h1V6H7zM7 13h1V14H7zM7 30h1V31H7zM7 36h1V37H7zM7 78h1V79H7zM7 84h1V85H7zM7 95h1V96H7zM7 121h1V122H7zM8 8h1V9H8zM8 34h1V35H8zM8 51h1V52H8zM8 61h1V62H8zM8 91h1V92H8zM8 111h1V113H8zM9 44h1V45H9zM9 55h1V56H9zM9 66h1V67H9zM9 100h1V101H9zM9 115h1V116H9zM10 7h1V8H10zM10 18h1V19H10zM10 60h1V61H10zM10 78h1V79H10zM10 81h1V82H10zM10 92h1V93H10zM10 100h1V101H10zM10 104h1V105H10zM10 109h1V110H10zM11 0h1V1H11zM11 12h1V13H11zM11 32h1V33H11zM11 48h1V49H11zM11 51h1V52H11zM11 96h1V97H11zM11 101h1V102H11zM11 127h1V128H11zM12 0h1V2H12zM12 5h1V6H12zM12 7h1V8H12zM12 14h1V16H12zM12 26h1V27H12zM12 31h1V32H12zM12 38h1V39H12zM12 43h1V44H12zM12 46h1V47H12zM12 81h1V82H12zM12 83h1V84H12zM12 98h1V99H12zM12 107h1V108H12zM12 120h1V121H12zM13 17h1V18H13zM13 33h1V34H13zM13 41h1V42H13zM13 49h1V50H13zM13 55h1V56H13zM13 62h1V63H13zM13 68h1V69H13zM13 71h1V72H13zM13 100h1V101H13zM13 119h1V120H13zM13 128h1V129H13z"/>
<path fill="rgb(224,243,248)" d="M1 19h1V20H1zM1 27h1V29H1zM1 73h1V74H1zM1 76h1V77H1zM1 87h1V88H1zM1 95h1V97H1zM1 122h1V124H1zM2 5h1V6H2zM2 18h1V19H2zM2 23h1V24H2zM2 33h1V34H2zM2 40h1V41H2zM2 46h1V47H2zM2 61h1V62H2zM2 65h1V67H2zM2 70h1V71H2zM2 75h1V76H2zM2 82h1V83H2zM2 87h1V88H2zM2 106h1V107H2zM2 119h1V120H2zM2 122h1V123H2zM3 0h1V1H3zM3 8h1V9H3zM3 30h1V31H3zM3 37h1V39H3zM3 48h1V49H3zM3 53h1V54H3zM3 73h1V74H3zM3 77h1V78H3zM3 79h1V80H3zM3 93h1V94H3zM3 122h1V123H3zM4 16h1V17H4zM4 20h1V21H4zM4 28h1V29H4zM4 34h1V36H4zM4 47h1V48H4zM4 68h1V69H4zM4 86h1V87H4zM4 97h1V98H4zM4 118h1V119H4zM5 31h1V32H5zM5 57h1V58H5zM5 92h1V93H5zM5 118h1V119H5zM6 28h1V29H6zM6 67h1V68H6zM6 73h1V75H6zM6 80h1V81H6zM6 109h1V110H6zM6 124h1V125H6zM7 22h1V23H7zM7 48h1V49H7zM7 53h1V54H7zM7 57h1V58H7zM7 61h1V62H7zM7 72h1V73H7zM7 87h1V88H7zM7 96h1V97H7zM7 114h1V115H7zM7 122h1V123H7zM7 128h1V129H7zM8 19h1V20H8zM8 39h1V40H8zM8 52h1V53H8zM8 71h1V72H8zM8 96h1V98H8zM8 104h1V107H8zM9 3h1V4H9zM9 41h1V42H9zM9 74h1V75H9zM9 86h1V88H9zM9 97h1V98H9zM9 110h1V111H9zM9 114h1V115H9zM10 4h1V5H10zM10 11h1V13H10zM10 30h1V31H10zM10 68h1V69H10zM10 70h1V71H10zM10 77h1V78H10zM10 83h1V84H10zM10 95h1V97H10zM10 122h1V123H10zM10 126h1V127H10zM10 128h1V129H10zM11 11h1V12H11zM11 17h1V18H11zM11 30h1V32H11zM11 45h1V46H11zM11 47h1V48H11zM11 69h1V70H11zM11 94h1V95H11zM12 12h1V13H12zM12 21h1V22H12zM12 27h1V29H12zM12 36h1V37H12zM12 42h1V43H12zM12 55h1V56H12zM12 84h1V85H12zM12 89h1V90H12zM12 96h1V97H12zM12 102h1V103H12zM12 114h1V115H12zM12 129h1V130H12zM13 2h1V3H13zM13 8h1V9H13zM13 11h1V12H13zM13 14h1V15H13zM13 32h1V33H13zM13 50h1V51H13zM13 52h1V53H13zM13 54h1V55H13zM13 57h1V59H13zM13 61h1V62H13zM13 64h1V65H13zM13 67h1V68H13zM13 79h1V80H13zM13 82h1V83H13zM13 84h1V85H13z"/>
<path fill="rgb(231,246,235)" d="M1 16h1V17H1zM1 18h1V19H1zM1 117h1V118H1zM1 127h1V128H1zM2 6h1V7H2zM2 9h1V10H2zM2 15h1V16H2zM2 27h1V28H2zM2 44h1V45H2zM2 48h1V49H2zM2 51h1V52H2zM2 72h1V73H2zM2 76h1V77H2zM2 80h1V81H2zM2 92h1V93H2zM2 114h1V116H2zM2 129h1V130H2zM3 18h1V20H3zM3 24h1V26H3zM3 31h1V32H3zM3 36h1V37H3zM3 54h1V55H3zM3 67h1V68H3zM3 72h1V73H3zM3 87h1V88H3zM3 98h1V99H3zM3 103h1V104H3zM3 117h1V118H3zM4 9h1V10H4zM4 14h1V15H4zM4 23h1V25H4zM4 27h1V28H4zM4 31h1V32H4zM4 42h1V43H4zM4 46h1V47H4zM4 48h1V49H4zM4 54h1V55H4zM4 59h1V60H4zM4 63h1V64H4zM4 74h1V75H4zM4 93h1V94H4zM4 99h1V100H4zM4 127h1V128H4zM4 129h1V130H4zM5 12h1V13H5zM5 19h1V21H5zM5 54h1V55H5zM5 59h1V60H5zM5 73h1V74H5zM5 126h1V127H5zM6 32h1V34H6zM6 55h1V56H6zM6 63h1V65H6zM6 78h1V79H6zM6 104h1V106H6zM6 112h1V113H6zM6 122h1V123H6zM7 12h1V13H7zM7 17h1V19H7zM7 25h1V26H7zM7 27h1V28H7zM7 29h1V30H7zM7 31h1V32H7zM7 49h1V50H7zM7 54h1V55H7zM7 66h1V67H7zM7 69h1V70H7zM7 83h1V84H7zM7 88h1V89H7zM7 94h1V95H7zM7 106h1V107H7zM8 13h1V15H8zM8 16h1V17H8zM8 21h1V22H8zM8 33h1V34H8zM8 48h1V49H8zM8 58h1V59H8zM8 66h1V67H8zM8 78h1V80H8zM8 90h1V91H8zM8 120h1V121H8zM8 122h1V124H8zM9 35h1V36H9zM9 42h1V43H9zM9 75h1V76H9zM9 98h1V99H9zM9 123h1V124H9zM10 2h1V3H10zM10 6h1V7H10zM10 17h1V18H10zM10 21h1V22H10zM10 27h1V28H10zM10 32h1V33H10zM10 34h1V35H10zM10 42h1V43H10zM10 53h1V54H10zM10 64h1V65H10zM10 105h1V106H10zM10 129h1V130H10zM11 19h1V20H11zM11 23h1V24H11zM11 42h1V43H11zM11 49h1V50H11zM11 57h1V58H11zM11 65h1V67H11zM11 72h1V73H11zM11 107h1V108H11zM11 110h1V111H11zM11 118h1V119H11zM12 2h1V3H12zM12 17h1V19H12zM12 37h1V38H12zM12 48h1V49H12zM12 52h1V53H12zM12 57h1V58H12zM12 62h1V63H12zM12 66h1V67H12zM12 70h1V71H12zM12 76h1V77H12zM12 86h1V87H12zM12 94h1V95H12zM12 105h1V106H12zM13 4h1V5H13zM13 15h1V16H13zM13 38h1V40H13zM13 43h1V44H13zM13 65h1V66H13zM13 85h1V86H13zM13 88h1V89H13zM13 121h1V122H13z"/>
<path fill="rgb(238,248,223)" d="M0 15h1V16H0zM0 44h1V45H0zM1 2h1V3H1zM1 17h1V18H1zM1 23h1V24H1zM1 85h1V86H1zM1 114h1V115H1zM2 24h1V25H2zM2 30h1V31H2zM2 35h1V36H2zM2 39h1V40H2zM2 47h1V48H2zM2 56h1V57H2zM2 62h1V63H2zM2 67h1V68H2zM2 86h1V87H2zM2 91h1V92H2zM2 93h1V94H2zM2 107h1V108H2zM2 116h1V117H2zM2 123h1V124H2zM3 5h1V6H3zM3 23h1V24H3zM3 27h1V28H3zM3 40h1V41H3zM3 52h1V53H3zM3 66h1V67H3zM3 74h1V76H3zM3 102h1V103H3zM3 124h1V126H3zM4 2h1V3H4zM4 6h1V7H4zM4 18h1V19H4zM4 22h1V23H4zM4 32h1V33H4zM4 36h1V37H4zM4 45h1V46H4zM4 62h1V63H4zM4 77h1V78H4zM4 79h1V80H4zM4 81h1V82H4zM4 102h1V103H4zM4 106h1V107H4zM4 109h1V110H4zM4 115h1V116H4zM4 117h1V118H4zM5 2h1V5H5zM5 30h1V31H5zM5 33h1V34H5zM5 45h1V46H5zM5 47h1V48H5zM5 52h1V53H5zM5 65h1V66H5zM5 67h1V68H5zM5 90h1V91H5zM5 104h1V105H5zM5 109h1V111H5zM5 115h1V116H5zM5 124h1V125H5zM6 5h1V6H6zM6 43h1V44H6zM6 46h1V47H6zM6 59h1V60H6zM6 65h1V66H6zM6 91h1V92H6zM6 93h1V94H6zM6 101h1V102H6zM6 108h1V109H6zM6 118h1V119H6zM6 129h1V130H6zM7 8h1V9H7zM7 11h1V12H7zM7 16h1V17H7zM7 32h1V33H7zM7 37h1V38H7zM7 41h1V42H7zM7 64h1V65H7zM7 68h1V69H7zM7 80h1V81H7zM7 102h1V103H7zM7 109h1V110H7zM7 111h1V112H7zM7 120h1V121H7zM7 129h1V130H7zM8 15h1V16H8zM8 23h1V24H8zM8 45h1V46H8zM8 72h1V73H8zM8 98h1V99H8zM8 108h1V109H8zM8 127h1V128H8zM9 6h1V7H9zM9 14h1V15H9zM9 16h1V17H9zM9 27h1V28H9zM9 69h1V70H9zM9 79h1V80H9zM9 88h1V90H9zM9 94h1V95H9zM9 101h1V102H9zM9 128h1V129H9zM10 5h1V6H10zM10 8h1V10H10zM10 31h1V32H10zM10 40h1V41H10zM10 43h1V44H10zM10 72h1V74H10zM10 82h1V83H10zM10 91h1V92H10zM10 93h1V94H10zM10 118h1V119H10zM10 123h1V124H10zM11 4h1V6H11zM11 16h1V17H11zM11 33h1V34H11zM11 39h1V40H11zM11 60h1V61H11zM11 64h1V65H11zM11 70h1V71H11zM11 73h1V74H11zM11 77h1V79H11zM11 83h1V84H11zM11 91h1V92H11zM11 105h1V106H11zM11 114h1V115H11zM11 125h1V126H11zM12 3h1V4H12zM12 9h1V10H12zM12 16h1V17H12zM12 20h1V21H12zM12 50h1V51H12zM12 56h1V57H12zM12 60h1V61H12zM12 64h1V65H12zM12 68h1V69H12zM12 71h1V72H12zM12 77h1V79H12zM12 90h1V91H12zM12 97h1V98H12zM12 108h1V109H12zM12 111h1V112H12zM12 119h1V120H12zM12 128h1V129H12zM13 16h1V17H13zM13 24h1V25H13zM13 31h1V32H13zM13 60h1V61H13zM13 95h1V96H13z"/>
<path fill="rgb(245,251,210)" d="M0 96h1V97H0zM0 99h1V100H0zM1 4h1V5H1zM1 10h1V11H1zM1 22h1V23H1zM1 29h1V30H1zM1 35h1V36H1zM1 50h1V51H1zM1 68h1V69H1zM1 72h1V73H1zM1 97h1V98H1zM1 106h1V107H1zM1 113h1V114H1zM2 0h1V2H2zM2 22h1V23H2zM2 38h1V39H2zM2 41h1V43H2zM2 53h1V54H2zM2 59h1V60H2zM2 79h1V80H2zM2 84h1V85H2zM2 88h1V89H2zM2 90h1V91H2zM2 96h1V97H2zM2 101h1V102H2zM2 111h1V113H2zM2 118h1V119H2zM3 10h1V12H3zM3 28h1V29H3zM3 46h1V47H3zM3 50h1V51H3zM3 57h1V59H3zM3 82h1V83H3zM3 92h1V93H3zM3 97h1V98H3zM3 100h1V101H3zM3 107h1V109H3zM3 110h1V111H3zM4 0h1V1H4zM4 5h1V6H4zM4 13h1V14H4zM4 21h1V22H4zM4 33h1V34H4zM4 53h1V54H4zM4 55h1V56H4zM4 64h1V65H4zM4 67h1V68H4zM4 83h1V84H4zM4 85h1V86H4zM4 87h1V88H4zM4 92h1V93H4zM4 95h1V97H4zM4 114h1V115H4zM4 121h1V123H4zM4 124h1V125H4zM5 15h1V16H5zM5 26h1V27H5zM5 41h1V42H5zM5 50h1V51H5zM5 53h1V54H5zM5 60h1V61H5zM5 68h1V69H5zM5 71h1V73H5zM5 82h1V83H5zM5 88h1V89H5zM6 14h1V15H6zM6 21h1V23H6zM6 45h1V46H6zM6 56h1V57H6zM6 111h1V112H6zM6 117h1V118H6zM7 19h1V21H7zM7 26h1V27H7zM7 39h1V40H7zM7 55h1V56H7zM7 67h1V68H7zM7 73h1V74H7zM7 75h1V78H7zM7 85h1V86H7zM7 97h1V98H7zM7 113h1V114H7zM7 119h1V120H7zM8 24h1V26H8zM8 40h1V41H8zM9 4h1V5H9zM9 11h1V13H9zM9 15h1V16H9zM9 34h1V35H9zM9 45h1V46H9zM9 47h1V48H9zM9 53h1V54H9zM9 76h1V77H9zM9 81h1V82H9zM9 83h1V84H9zM9 85h1V86H9zM9 107h1V108H9zM9 116h1V117H9zM10 14h1V15H10zM10 16h1V17H10zM10 51h1V53H10zM10 74h1V76H10zM10 107h1V108H10zM10 110h1V111H10zM11 3h1V4H11zM11 8h1V10H11zM11 13h1V14H11zM11 18h1V19H11zM11 28h1V29H11zM11 37h1V38H11zM11 68h1V69H11zM11 75h1V76H11zM11 79h1V80H11zM11 88h1V89H11zM11 93h1V94H11zM11 103h1V104H11zM11 115h1V116H11zM11 121h1V123H11zM11 124h1V125H11zM12 29h1V30H12zM12 39h1V40H12zM12 45h1V46H12zM12 53h1V54H12zM12 85h1V86H12zM12 87h1V88H12zM12 91h1V92H12zM12 99h1V100H12zM12 104h1V105H12zM12 115h1V116H12zM13 23h1V24H13zM13 98h1V99H13zM13 105h1V106H13zM13 117h1V118H13zM13 122h1V123H13z"/>
<path fill="rgb(252,254,197)" d="M0 34h1V35H0zM0 71h1V72H0zM0 75h1V76H0zM0 115h1V116H0zM1 24h1V25H1zM1 26h1V27H1zM1 66h1V67H1zM1 90h1V91H1zM1 101h1V102H1zM1 110h1V111H1zM2 3h1V4H2zM2 8h1V9H2zM2 16h1V17H2zM2 19h1V21H2zM2 26h1V27H2zM2 31h1V32H2zM2 37h1V38H2zM2 45h1V46H2zM2 74h1V75H2zM2 95h1V96H2zM2 97h1V98H2zM3 4h1V5H3zM3 9h1V10H3zM3 17h1V18H3zM3 22h1V23H3zM3 69h1V70H3zM3 89h1V90H3zM3 109h1V110H3zM3 127h1V128H3zM4 7h1V8H4zM4 10h1V11H4zM4 12h1V13H4zM4 44h1V45H4zM4 58h1V59H4zM4 69h1V72H4zM4 73h1V74H4zM4 90h1V92H4zM4 98h1V99H4zM4 101h1V102H4zM4 110h1V111H4zM4 112h1V113H4zM4 119h1V120H4zM4 123h1V124H4zM5 14h1V15H5zM5 22h1V23H5zM5 34h1V35H5zM5 38h1V39H5zM5 120h1V121H5zM6 10h1V11H6zM6 34h1V35H6zM6 106h1V107H6zM7 6h1V7H7zM7 47h1V48H7zM7 52h1V53H7zM7 56h1V57H7zM7 74h1V75H7zM7 82h1V83H7zM7 89h1V90H7zM7 91h1V92H7zM7 98h1V99H7zM7 103h1V104H7zM7 116h1V117H7zM8 46h1V47H8zM8 74h1V75H8zM8 124h1V125H8zM9 0h1V1H9zM9 5h1V6H9zM9 7h1V8H9zM9 23h1V24H9zM9 29h1V30H9zM9 36h1V37H9zM9 46h1V47H9zM9 49h1V50H9zM9 57h1V58H9zM9 71h1V72H9zM9 90h1V91H9zM9 93h1V94H9zM9 118h1V120H9zM9 126h1V127H9zM10 1h1V2H10zM10 25h1V26H10zM10 71h1V72H10zM10 79h1V80H10zM10 103h1V104H10zM10 120h1V121H10zM11 1h1V2H11zM11 7h1V8H11zM11 22h1V23H11zM11 26h1V27H11zM11 29h1V30H11zM11 40h1V41H11zM11 43h1V44H11zM11 74h1V75H11zM11 76h1V77H11zM11 82h1V83H11zM11 89h1V90H11zM11 92h1V93H11zM11 95h1V96H11zM11 100h1V101H11zM11 108h1V109H11zM11 111h1V112H11zM11 120h1V121H11zM12 19h1V20H12zM12 41h1V42H12zM12 63h1V64H12zM12 74h1V75H12zM12 103h1V104H12zM12 109h1V111H12zM12 117h1V118H12zM13 0h1V1H13zM13 3h1V4H13zM13 21h1V22H13zM13 46h1V47H13zM13 91h1V92H13zM13 106h1V107H13zM13 109h1V110H13zM13 112h1V113H13z"/>
<path fill="rgb(255,252,186)" d="M0 18h1V19H0zM0 21h1V22H0zM0 26h1V27H0zM0 36h1V39H0zM0 53h1V54H0zM0 62h1V63H0zM0 67h1V68H0zM0 94h1V95H0zM0 100h1V101H0zM0 103h1V104H0zM1 11h1V12H1zM1 62h1V63H1zM1 78h1V79H1zM1 91h1V92H1zM1 99h1V101H1zM1 105h1V106H1zM1 119h1V120H1zM2 50h1V51H2zM2 64h1V65H2zM2 83h1V84H2zM2 85h1V86H2zM2 102h1V103H2zM2 104h1V105H2zM2 117h1V118H2zM2 124h1V125H2zM3 12h1V13H3zM3 33h1V34H3zM3 41h1V42H3zM3 61h1V62H3zM3 64h1V65H3zM3 68h1V69H3zM3 71h1V72H3zM3 96h1V97H3zM3 104h1V105H3zM3 120h1V121H3zM4 26h1V27H4zM4 43h1V44H4zM4 60h1V61H4zM4 76h1V77H4zM4 104h1V105H4zM4 113h1V114H4zM5 11h1V12H5zM5 35h1V36H5zM5 98h1V99H5zM5 105h1V106H5zM7 3h1V4H7zM7 79h1V80H7zM7 104h1V105H7zM8 10h1V11H8zM9 10h1V11H9zM9 19h1V20H9zM9 25h1V26H9zM9 30h1V32H9zM9 37h1V38H9zM9 67h1V68H9zM9 70h1V71H9zM9 78h1V79H9zM9 91h1V93H9zM9 95h1V96H9zM9 99h1V100H9zM9 112h1V113H9zM9 117h1V118H9zM9 121h1V122H9zM10 3h1V4H10zM10 59h1V60H10zM10 66h1V67H10zM10 69h1V70H10zM10 111h1V112H10zM10 119h1V120H10zM11 10h1V11H11zM11 14h1V15H11zM11 41h1V42H11zM11 71h1V72H11zM11 81h1V82H11zM11 97h1V98H11zM11 104h1V105H11zM11 112h1V113H11zM11 126h1V127H11zM12 35h1V36H12zM12 92h1V93H12zM12 126h1V127H12zM13 5h1V6H13zM13 18h1V19H13zM13 28h1V29H13zM13 40h1V41H13zM13 66h1V67H13z"/>
<path fill="rgb(255,245,175)" d="M0 23h1V24H0zM0 28h1V31H0zM0 33h1V34H0zM0 47h1V48H0zM0 54h1V55H0zM0 86h1V88H0zM0 107h1V108H0zM0 110h1V111H0zM0 121h1V122H0zM0 124h1V125H0zM1 36h1V37H1zM1 45h1V46H1zM1 63h1V64H1zM1 65h1V66H1zM1 104h1V105H1zM1 109h1V110H1zM1 118h1V119H1zM2 14h1V15H2zM2 21h1V22H2zM2 29h1V30H2zM2 49h1V50H2zM2 54h1V55H2zM2 57h1V58H2zM2 60h1V61H2zM2 71h1V72H2zM2 73h1V74H2zM2 77h1V79H2zM2 98h1V99H2zM2 120h1V121H2zM3 14h1V15H3zM3 34h1V35H3zM3 45h1V46H3zM3 55h1V56H3zM3 106h1V107H3zM3 115h1V116H3zM3 126h1V127H3zM4 4h1V5H4zM4 11h1V12H4zM4 17h1V18H4zM4 25h1V26H4zM4 29h1V30H4zM4 61h1V62H4zM4 65h1V66H4zM4 88h1V89H4zM4 105h1V106H4zM4 116h1V117H4zM5 13h1V14H5zM5 25h1V26H5zM5 27h1V28H5zM5 106h1V107H5zM5 112h1V113H5zM5 127h1V128H5zM7 7h1V8H7zM7 24h1V25H7zM7 40h1V41H7zM7 46h1V47H7zM7 101h1V102H7zM7 126h1V128H7zM9 1h1V2H9zM9 8h1V9H9zM9 21h1V23H9zM9 32h1V33H9zM9 39h1V40H9zM9 50h1V52H9zM9 59h1V61H9zM9 62h1V64H9zM9 72h1V73H9zM9 80h1V81H9zM9 102h1V103H9zM9 104h1V106H9zM9 108h1V109H9zM9 113h1V114H9zM9 122h1V123H9zM9 124h1V125H9zM10 0h1V1H10zM10 22h1V23H10zM10 38h1V39H10zM10 56h1V57H10zM10 61h1V62H10zM10 85h1V86H10zM10 113h1V115H10zM10 127h1V128H10zM11 38h1V39H11zM11 53h1V54H11zM11 56h1V57H11zM11 59h1V60H11zM11 63h1V64H11zM11 86h1V87H11zM11 113h1V114H11zM11 119h1V120H11zM11 128h1V129H11zM12 4h1V5H12zM12 25h1V26H12zM12 51h1V52H12zM12 73h1V74H12zM12 127h1V128H12zM13 13h1V14H13z"/>
<path fill="rgb(254,238,165)" d="M0 1h1V2H0zM0 7h1V8H0zM0 20h1V21H0zM0 22h1V23H0zM0 27h1V28H0zM0 41h1V43H0zM0 45h1V47H0zM0 48h1V50H0zM0 68h1V69H0zM0 70h1V71H0zM0 72h1V74H0zM0 76h1V77H0zM0 79h1V80H0zM0 83h1V84H0zM0 89h1V90H0zM0 104h1V105H0zM0 109h1V110H0zM0 114h1V115H0zM0 116h1V117H0zM0 119h1V120H0zM0 123h1V124H0zM0 125h1V126H0zM1 0h1V1H1zM1 3h1V4H1zM1 5h1V6H1zM1 57h1V58H1zM1 112h1V113H1zM1 121h1V122H1zM2 25h1V26H2zM2 108h1V109H2zM3 29h1V30H3zM3 78h1V79H3zM3 80h1V81H3zM3 90h1V91H3zM4 8h1V9H4zM4 40h1V41H4zM4 66h1V67H4zM4 78h1V79H4zM5 29h1V30H5zM5 40h1V41H5zM5 108h1V109H5zM6 13h1V14H6zM7 81h1V82H7zM7 92h1V93H7zM7 105h1V106H7zM9 18h1V19H9zM9 24h1V25H9zM9 26h1V27H9zM9 52h1V53H9zM9 56h1V57H9zM9 58h1V59H9zM9 65h1V66H9zM9 77h1V78H9zM9 111h1V112H9zM10 46h1V47H10zM10 48h1V49H10zM10 86h1V87H10zM11 24h1V25H11zM11 52h1V53H11zM11 61h1V62H11zM11 87h1V88H11zM11 117h1V118H11zM11 129h1V130H11zM12 61h1V62H12zM12 95h1V96H12z"/>
<path fill="rgb(254,231,154)" d="M0 0h1V1H0zM0 6h1V7H0zM0 10h1V13H0zM0 14h1V15H0zM0 17h1V18H0zM0 25h1V26H0zM0 35h1V36H0zM0 56h1V58H0zM0 66h1V67H0zM0 77h1V79H0zM0 84h1V85H0zM0 88h1V89H0zM0 102h1V103H0zM0 113h1V114H0zM0 118h1V119H0zM0 120h1V121H0zM0 122h1V123H0zM1 14h1V15H1zM1 31h1V32H1zM1 39h1V40H1zM1 82h1V83H1zM1 120h1V121H1zM1 129h1V130H1zM2 10h1V11H2zM2 103h1V104H2zM2 105h1V106H2zM2 128h1V129H2zM3 13h1V14H3zM3 123h1V124H3zM4 50h1V51H4zM4 103h1V104H4zM5 8h1V9H5zM5 122h1V124H5zM7 9h1V10H7zM7 112h1V113H7zM9 2h1V3H9zM9 20h1V21H9zM9 28h1V29H9zM9 43h1V44H9zM9 48h1V49H9zM9 54h1V55H9zM9 68h1V69H9zM9 127h1V128H9zM11 58h1V59H11zM11 62h1V63H11zM11 67h1V68H11zM11 99h1V100H11zM11 116h1V117H11zM12 13h1V14H12zM12 58h1V59H12zM12 72h1V73H12zM12 82h1V83H12zM12 106h1V107H12z"/>
<path fill="rgb(254,224,144)" d="M0 2h1V3H0zM0 9h1V10H0zM0 32h1V33H0zM0 50h1V51H0zM0 63h1V64H0zM0 85h1V86H0zM0 93h1V94H0zM0 97h1V99H0zM0 101h1V102H0zM0 112h1V113H0zM0 126h1V127H0zM0 128h1V129H0zM1 6h1V7H1zM1 46h1V47H1zM1 48h1V49H1zM1 80h1V82H1zM1 116h1V117H1zM2 4h1V5H2zM2 58h1V59H2zM2 68h1V69H2zM3 112h1V113H3zM3 116h1V117H3zM4 3h1V4H4zM4 56h1V57H4zM4 72h1V73H4zM4 82h1V83H4zM4 89h1V90H4zM4 108h1V109H4zM5 5h1V6H5zM5 46h1V47H5zM7 28h1V29H7zM7 117h1V118H7zM9 33h1V34H9zM9 106h1V107H9zM9 109h1V110H9zM9 120h1V121H9zM9 129h1V130H9zM11 20h1V21H11zM11 50h1V51H11zM11 106h1V107H11zM12 8h1V9H12z"/>
<path fill="rgb(254,206,132)" d="M0 3h1V4H0zM0 19h1V20H0zM0 31h1V32H0zM0 39h1V40H0zM0 51h1V52H0zM0 59h1V60H0zM0 61h1V62H0zM0 69h1V70H0zM0 80h1V83H0zM0 91h1V93H0zM0 95h1V96H0zM0 105h1V107H0zM0 108h1V109H0zM1 74h1V75H1zM1 79h1V80H1zM1 128h1V129H1zM2 13h1V14H2zM2 52h1V53H2zM3 95h1V96H3zM4 52h1V53H4zM4 120h1V121H4zM7 33h1V34H7zM9 13h1V14H9zM9 40h1V41H9zM9 103h1V104H9zM10 99h1V100H10zM10 106h1V107H10zM12 22h1V23H12zM12 59h1V60H12z"/>
<path fill="rgb(253,187,120)" d="M0 4h1V5H0zM0 8h1V9H0zM0 43h1V44H0zM0 60h1V61H0zM0 64h1V66H0zM0 117h1V118H0zM0 127h1V128H0zM0 129h1V130H0zM1 61h1V62H1zM5 36h1V37H5zM5 81h1V82H5zM5 117h1V118H5zM7 58h1V59H7zM9 82h1V83H9zM10 13h1V14H10zM13 56h1V57H13z"/>
<path fill="rgb(253,169,107)" d="M0 5h1V6H0zM0 16h1V17H0zM0 24h1V25H0zM0 40h1V41H0zM0 55h1V56H0zM0 58h1V59H0zM0 74h1V75H0zM0 111h1V112H0zM1 21h1V22H1zM1 41h1V42H1zM3 105h1V106H3zM5 64h1V65H5zM9 64h1V65H9zM11 85h1V86H11z"/>
<path fill="rgb(252,150,95)" d="M0 52h1V53H0zM0 90h1V91H0zM1 9h1V10H1zM1 77h1V78H1zM1 111h1V112H1zM1 126h1V127H1zM3 119h1V120H3zM9 9h1V10H9zM11 90h1V91H11z"/>
<path fill="rgb(248,131,83)" d="M0 13h1V14H0zM9 61h1V62H9z"/>
<path fill="rgb(240,110,72)" d="M5 23h1V24H5z"/>
<path fill="rgb(231,89,61)" d="M1 13h1V14H1zM1 49h1V50H1zM1 64h1V65H1z"/>
<path fill="rgb(223,69,50)" d="M1 60h1V61H1zM5 91h1V92H5z"/>
</g>
<g transform="translate(1651.80,99.90) scale(41.8400,1.50692)" shape-rendering="crispEdges">
<path fill="rgb(238,248,223)" d="M1 67h1V68H1z"/>
<path fill="rgb(245,251,210)" d="M1 41h1V42H1z"/>
<path fill="rgb(252,254,197)" d="M1 70h1V71H1zM1 115h1V116H1zM2 27h1V28H2z"/>
<path fill="rgb(255,252,186)" d="M1 12h1V13H1zM1 34h1V35H1z"/>
<path fill="rgb(255,245,175)" d="M1 17h1V18H1zM1 40h1V41H1zM1 103h1V104H1z"/>
<path fill="rgb(254,238,165)" d="M1 10h1V11H1zM1 27h1V28H1zM1 46h1V47H1zM1 56h1V57H1zM1 75h1V76H1zM1 84h1V85H1zM1 96h1V97H1zM1 125h1V126H1zM1 129h1V130H1zM2 13h1V14H2z"/>
<path fill="rgb(254,231,154)" d="M1 1h1V2H1zM1 9h1V10H1zM1 51h1V52H1zM1 83h1V84H1zM1 91h1V93H1zM4 2h1V3H4zM4 41h1V42H4zM4 67h1V68H4zM4 73h1V74H4zM4 105h1V106H4z"/>
<path fill="rgb(254,224,144)" d="M1 28h1V29H1zM1 33h1V34H1zM1 35h1V36H1zM1 45h1V46H1zM1 52h1V53H1zM1 61h1V62H1zM1 69h1V70H1zM1 82h1V83H1zM1 97h1V98H1zM4 3h1V4H4zM4 34h1V35H4zM4 50h1V51H4zM4 96h1V97H4zM4 126h1V127H4z"/>
<path fill="rgb(254,206,132)" d="M0 34h1V35H0zM1 6h1V7H1zM1 15h1V16H1zM1 31h1V32H1zM1 55h1V56H1zM1 87h1V88H1zM1 93h1V94H1zM1 110h1V111H1zM1 112h1V113H1zM1 116h1V118H1zM2 4h1V5H2zM2 14h1V15H2zM2 20h1V21H2zM2 34h1V35H2zM2 93h1V94H2zM3 44h1V45H3zM3 49h1V50H3zM3 70h1V71H3zM3 96h1V97H3zM3 119h1V120H3zM4 10h1V11H4zM4 52h1V53H4zM4 61h1V62H4zM4 83h1V84H4zM4 87h1V88H4zM4 92h1V93H4zM4 104h1V105H4zM4 129h1V130H4z"/>
<path fill="rgb(253,187,120)" d="M0 20h1V21H0zM0 52h1V53H0zM1 11h1V12H1zM1 13h1V14H1zM1 20h1V21H1zM1 36h1V37H1zM1 42h1V43H1zM1 53h1V54H1zM1 73h1V74H1zM1 78h1V80H1zM1 89h1V90H1zM1 105h1V106H1zM2 18h1V19H2zM2 23h1V24H2zM2 40h1V42H2zM2 70h1V71H2zM2 113h1V114H2zM2 116h1V117H2zM2 119h1V120H2zM3 77h1V78H3zM3 93h1V94H3zM4 4h1V5H4zM4 12h1V13H4zM4 39h1V40H4zM4 56h1V57H4zM4 69h1V70H4zM4 76h1V79H4zM4 85h1V86H4zM4 93h1V94H4zM4 95h1V96H4zM4 97h1V98H4zM4 115h1V118H4z"/>
<path fill="rgb(253,169,107)" d="M0 16h1V17H0zM0 28h1V29H0zM0 43h1V44H0zM0 47h1V48H0zM0 67h1V68H0zM0 95h1V96H0zM0 115h1V116H0zM1 3h1V5H1zM1 16h1V17H1zM1 24h1V25H1zM1 30h1V31H1zM1 60h1V61H1zM1 63h1V64H1zM1 66h1V67H1zM1 72h1V73H1zM1 80h1V81H1zM1 95h1V96H1zM1 100h1V101H1zM1 113h1V114H1zM1 121h1V122H1zM2 17h1V18H2zM2 28h1V29H2zM2 31h1V32H2zM2 39h1V40H2zM2 57h1V58H2zM2 66h1V67H2zM2 98h1V99H2zM2 111h1V112H2zM3 4h1V5H3zM3 15h1V17H3zM3 26h1V27H3zM3 34h1V35H3zM3 67h1V68H3zM3 85h1V86H3zM3 87h1V88H3zM3 90h1V91H3zM3 108h1V109H3zM4 6h1V7H4zM4 11h1V12H4zM4 13h1V14H4zM4 25h1V26H4zM4 31h1V32H4zM4 38h1V39H4zM4 40h1V41H4zM4 43h1V44H4zM4 59h1V60H4zM4 62h1V63H4zM4 75h1V76H4zM4 80h1V81H4zM4 82h1V83H4zM4 84h1V85H4zM4 86h1V87H4zM4 91h1V92H4zM4 98h1V99H4zM4 100h1V101H4zM4 102h1V103H4zM4 120h1V121H4zM4 128h1V129H4z"/>
<path fill="rgb(252,150,95)" d="M0 2h1V4H0zM0 21h1V22H0zM0 23h1V24H0zM0 55h1V56H0zM0 58h1V59H0zM0 92h1V94H0zM0 96h1V97H0zM0 103h1V104H0zM0 113h1V114H0zM0 119h1V120H0zM1 18h1V19H1zM1 32h1V33H1zM1 38h1V39H1zM1 47h1V48H1zM1 49h1V50H1zM1 68h1V69H1zM1 74h1V75H1zM1 76h1V77H1zM1 94h1V95H1zM1 98h1V100H1zM1 107h1V108H1zM1 111h1V112H1zM1 118h1V119H1zM1 123h1V124H1zM1 126h1V127H1zM2 3h1V4H2zM2 7h1V8H2zM2 10h1V11H2zM2 25h1V26H2zM2 32h1V34H2zM2 38h1V39H2zM2 43h1V44H2zM2 47h1V48H2zM2 54h1V55H2zM2 58h1V60H2zM2 68h1V69H2zM2 80h1V81H2zM2 82h1V83H2zM2 96h1V97H2zM2 105h1V106H2zM2 117h1V118H2zM2 126h1V128H2zM3 3h1V4H3zM3 10h1V11H3zM3 20h1V21H3zM3 39h1V40H3zM3 82h1V83H3zM3 84h1V85H3zM3 86h1V87H3zM3 95h1V96H3zM3 103h1V104H3zM3 113h1V114H3zM3 116h1V117H3zM4 9h1V10H4zM4 15h1V16H4zM4 21h1V22H4zM4 24h1V25H4zM4 33h1V34H4zM4 49h1V50H4zM4 55h1V56H4zM4 70h1V71H4zM4 90h1V91H4zM4 94h1V95H4zM4 106h1V108H4zM4 111h1V112H4zM4 113h1V114H4zM4 122h1V123H4z"/>
<path fill="rgb(248,131,83)" d="M0 4h1V5H0zM0 8h1V9H0zM0 11h1V12H0zM0 13h1V16H0zM0 26h1V27H0zM0 48h1V49H0zM0 64h1V65H0zM0 68h1V69H0zM0 89h1V90H0zM0 111h1V112H0zM0 122h1V123H0zM1 7h1V9H1zM1 14h1V15H1zM1 21h1V22H1zM1 25h1V26H1zM1 39h1V40H1zM1 43h1V45H1zM1 59h1V60H1zM1 62h1V63H1zM1 64h1V66H1zM1 77h1V78H1zM1 102h1V103H1zM1 104h1V105H1zM1 114h1V115H1zM1 120h1V121H1zM2 6h1V7H2zM2 12h1V13H2zM2 15h1V17H2zM2 21h1V22H2zM2 24h1V25H2zM2 44h1V45H2zM2 51h1V52H2zM2 55h1V56H2zM2 67h1V68H2zM2 81h1V82H2zM2 85h1V86H2zM2 94h1V96H2zM2 102h1V103H2zM2 104h1V105H2zM2 115h1V116H2zM2 121h1V122H2zM3 5h1V6H3zM3 8h1V9H3zM3 14h1V15H3zM3 25h1V26H3zM3 27h1V28H3zM3 32h1V33H3zM3 37h1V38H3zM3 40h1V41H3zM3 59h1V60H3zM3 62h1V63H3zM3 66h1V67H3zM3 73h1V74H3zM3 76h1V77H3zM3 79h1V80H3zM3 83h1V84H3zM3 89h1V90H3zM3 91h1V92H3zM3 97h1V98H3zM4 1h1V2H4zM4 7h1V8H4zM4 14h1V15H4zM4 17h1V19H4zM4 23h1V24H4zM4 26h1V29H4zM4 32h1V33H4zM4 45h1V47H4zM4 54h1V55H4zM4 58h1V59H4zM4 63h1V64H4zM4 66h1V67H4zM4 74h1V75H4zM4 89h1V90H4zM4 103h1V104H4zM4 114h1V115H4zM4 121h1V122H4z"/>
<path fill="rgb(240,110,72)" d="M0 24h1V26H0zM0 27h1V28H0zM0 44h1V45H0zM0 46h1V47H0zM0 59h1V60H0zM0 74h1V75H0zM0 77h1V80H0zM0 83h1V84H0zM0 88h1V89H0zM0 97h1V98H0zM0 116h1V117H0zM1 0h1V1H1zM1 2h1V3H1zM1 22h1V23H1zM1 26h1V27H1zM1 29h1V30H1zM1 48h1V49H1zM1 50h1V51H1zM1 71h1V72H1zM1 85h1V86H1zM1 90h1V91H1zM1 106h1V107H1zM1 108h1V109H1zM1 119h1V120H1zM1 124h1V125H1zM2 9h1V10H2zM2 37h1V38H2zM2 52h1V54H2zM2 56h1V57H2zM2 74h1V76H2zM2 78h1V79H2zM2 83h1V84H2zM2 86h1V87H2zM2 101h1V102H2zM2 107h1V108H2zM2 125h1V126H2zM2 129h1V130H2zM3 6h1V7H3zM3 13h1V14H3zM3 31h1V32H3zM3 50h1V51H3zM3 53h1V54H3zM3 57h1V58H3zM3 60h1V61H3zM3 65h1V66H3zM3 74h1V75H3zM3 80h1V81H3zM3 98h1V99H3zM3 111h1V113H3zM3 117h1V118H3zM3 126h1V127H3zM3 129h1V130H3zM4 0h1V1H4zM4 5h1V6H4zM4 8h1V9H4zM4 20h1V21H4zM4 22h1V23H4zM4 29h1V31H4zM4 36h1V37H4zM4 44h1V45H4zM4 47h1V49H4zM4 53h1V54H4zM4 60h1V61H4zM4 65h1V66H4zM4 72h1V73H4zM4 79h1V80H4zM4 81h1V82H4zM4 99h1V100H4zM4 108h1V109H4zM4 112h1V113H4zM4 119h1V120H4zM4 123h1V124H4z"/>
<path fill="rgb(231,89,61)" d="M0 5h1V6H0zM0 9h1V11H0zM0 12h1V13H0zM0 18h1V19H0zM0 31h1V33H0zM0 37h1V39H0zM0 50h1V52H0zM0 57h1V58H0zM0 69h1V70H0zM0 82h1V83H0zM0 85h1V86H0zM0 87h1V88H0zM0 98h1V99H0zM0 102h1V103H0zM0 104h1V106H0zM0 112h1V113H0zM1 5h1V6H1zM1 23h1V24H1zM1 57h1V58H1zM1 81h1V82H1zM1 86h1V87H1zM1 101h1V102H1zM2 2h1V3H2zM2 22h1V23H2zM2 26h1V27H2zM2 36h1V37H2zM2 42h1V43H2zM2 46h1V47H2zM2 49h1V50H2zM2 61h1V62H2zM2 69h1V70H2zM2 79h1V80H2zM2 112h1V113H2zM2 114h1V115H2zM3 7h1V8H3zM3 9h1V10H3zM3 12h1V13H3zM3 17h1V18H3zM3 21h1V22H3zM3 24h1V25H3zM3 46h1V48H3zM3 51h1V52H3zM3 75h1V76H3zM3 92h1V93H3zM3 94h1V95H3zM3 105h1V106H3zM3 115h1V116H3zM3 120h1V121H3zM3 128h1V129H3zM4 35h1V36H4zM4 37h1V38H4zM4 42h1V43H4zM4 51h1V52H4zM4 57h1V58H4zM4 101h1V102H4zM4 118h1V119H4z"/>
<path fill="rgb(223,69,50)" d="M0 1h1V2H0zM0 17h1V18H0zM0 40h1V42H0zM0 53h1V54H0zM0 56h1V57H0zM0 66h1V67H0zM0 70h1V71H0zM0 73h1V74H0zM0 75h1V77H0zM0 81h1V82H0zM0 90h1V91H0zM0 99h1V100H0zM0 117h1V118H0zM0 123h1V124H0zM0 125h1V126H0zM0 129h1V130H0zM1 37h1V38H1zM1 54h1V55H1zM1 58h1V59H1zM1 122h1V123H1zM1 127h1V128H1zM2 5h1V6H2zM2 19h1V20H2zM2 45h1V46H2zM2 65h1V66H2zM2 76h1V77H2zM2 84h1V85H2zM2 87h1V88H2zM2 97h1V98H2zM2 99h1V101H2zM2 103h1V104H2zM2 122h1V123H2zM3 1h1V3H3zM3 11h1V12H3zM3 23h1V24H3zM3 29h1V30H3zM3 33h1V34H3zM3 55h1V56H3zM3 63h1V64H3zM3 68h1V69H3zM3 78h1V79H3zM3 104h1V105H3zM3 118h1V119H3zM3 123h1V124H3zM3 125h1V126H3zM3 127h1V128H3zM4 16h1V17H4zM4 19h1V20H4zM4 64h1V65H4zM4 88h1V89H4zM4 110h1V111H4zM4 124h1V126H4z"/>
<path fill="rgb(215,48,39)" d="M0 0h1V1H0zM0 6h1V8H0zM0 19h1V20H0zM0 22h1V23H0zM0 29h1V31H0zM0 33h1V34H0zM0 35h1V37H0zM0 39h1V40H0zM0 42h1V43H0zM0 45h1V46H0zM0 49h1V50H0zM0 54h1V55H0zM0 60h1V64H0zM0 65h1V66H0zM0 71h1V73H0zM0 80h1V81H0zM0 84h1V85H0zM0 86h1V87H0zM0 91h1V92H0zM0 94h1V95H0zM0 100h1V102H0zM0 106h1V111H0zM0 114h1V115H0zM0 118h1V119H0zM0 120h1V122H0zM0 124h1V125H0zM0 126h1V129H0zM1 19h1V20H1zM1 88h1V89H1zM1 109h1V110H1zM1 128h1V129H1zM2 0h1V2H2zM2 8h1V9H2zM2 11h1V12H2zM2 29h1V31H2zM2 35h1V36H2zM2 48h1V49H2zM2 50h1V51H2zM2 60h1V61H2zM2 62h1V65H2zM2 71h1V74H2zM2 77h1V78H2zM2 88h1V93H2zM2 106h1V107H2zM2 108h1V111H2zM2 118h1V119H2zM2 120h1V121H2zM2 123h1V125H2zM2 128h1V129H2zM3 0h1V1H3zM3 18h1V20H3zM3 22h1V23H3zM3 28h1V29H3zM3 30h1V31H3zM3 35h1V37H3zM3 38h1V39H3zM3 41h1V44H3zM3 45h1V46H3zM3 48h1V49H3zM3 52h1V53H3zM3 54h1V55H3zM3 56h1V57H3zM3 58h1V59H3zM3 61h1V62H3zM3 64h1V65H3zM3 69h1V70H3zM3 71h1V73H3zM3 81h1V82H3zM3 88h1V89H3zM3 99h1V103H3zM3 106h1V108H3zM3 109h1V111H3zM3 114h1V115H3zM3 121h1V123H3zM3 124h1V125H3zM4 68h1V69H4zM4 71h1V72H4zM4 109h1V110H4zM4 127h1V128H4z"/>
</g>
<g transform="translate(1056.10,307.90) scale(41.8643,1.50171)" shape-rendering="crispEdges">
<path fill="rgb(69,117,180)" d="M1 19h1V20H1z"/>
<path fill="rgb(120,166,206)" d="M1 349h1V350H1zM5 67h1V68H5z"/>
<path fill="rgb(137,183,215)" d="M4 140h1V141H4zM9 142h1V143H9z"/>
<path fill="rgb(154,197,222)" d="M0 127h1V128H0zM1 99h1V100H1zM1 306h1V307H1zM3 53h1V54H3zM9 21h1V22H9zM13 264h1V265H13z"/>
<path fill="rgb(171,208,229)" d="M0 33h1V34H0zM3 306h1V307H3zM5 22h1V23H5zM5 160h1V161H5zM5 224h1V225H5zM5 227h1V228H5zM9 219h1V220H9zM13 16h1V17H13z"/>
<path fill="rgb(189,220,235)" d="M1 211h1V212H1zM3 149h1V150H3zM4 157h1V158H4zM5 70h1V71H5zM5 111h1V112H5zM5 114h1V115H5zM5 137h1V138H5zM5 165h1V166H5zM5 174h1V175H5zM5 283h1V284H5zM5 307h1V308H5zM9 85h1V86H9zM9 133h1V134H9zM9 136h1V137H9zM9 155h1V156H9zM10 99h1V100H10zM10 340h1V341H10zM11 49h1V50H11zM11 65h1V66H11zM11 86h1V87H11zM12 199h1V200H12z"/>
<path fill="rgb(206,231,242)" d="M0 8h1V9H0zM0 49h1V50H0zM0 136h1V137H0zM0 167h1V168H0zM0 185h1V186H0zM0 275h1V277H0zM0 292h1V293H0zM1 119h1V120H1zM1 292h1V294H1zM1 317h1V318H1zM2 140h1V141H2zM2 199h1V200H2zM2 280h1V281H2zM3 273h1V274H3zM4 49h1V50H4zM4 65h1V66H4zM4 156h1V157H4zM5 4h1V5H5zM5 16h1V17H5zM5 27h1V28H5zM5 61h1V62H5zM5 80h1V81H5zM5 146h1V147H5zM5 190h1V191H5zM5 229h1V230H5zM5 246h1V247H5zM5 275h1V276H5zM5 313h1V314H5zM7 22h1V23H7zM9 18h1V19H9zM9 127h1V128H9zM9 226h1V227H9zM9 280h1V281H9zM9 307h1V308H9zM10 291h1V292H10zM11 32h1V33H11zM11 175h1V176H11zM12 142h1V143H12zM12 214h1V215H12zM13 68h1V69H13zM13 77h1V78H13zM13 106h1V107H13zM13 156h1V157H13z"/>
<path fill="rgb(224,243,248)" d="M0 54h1V55H0zM0 65h1V66H0zM0 138h1V139H0zM0 142h1V143H0zM0 169h1V170H0zM0 212h1V213H0zM0 233h1V234H0zM0 263h1V264H0zM0 341h1V342H0zM1 26h1V27H1zM1 51h1V52H1zM1 114h1V115H1zM1 137h1V138H1zM1 181h1V182H1zM1 262h1V263H1zM2 26h1V27H2zM2 84h1V85H2zM2 142h1V143H2zM2 167h1V168H2zM2 226h1V227H2zM2 275h1V277H2zM3 160h1V161H3zM3 181h1V182H3zM3 208h1V209H3zM3 231h1V232H3zM3 286h1V287H3zM3 298h1V299H3zM3 336h1V337H3zM3 341h1V342H3zM4 44h1V45H4zM4 165h1V166H4zM4 224h1V225H4zM4 294h1V295H4zM4 321h1V322H4zM4 326h1V327H4zM5 29h1V30H5zM5 44h1V45H5zM5 49h1V50H5zM5 88h1V89H5zM5 201h1V202H5zM5 237h1V238H5zM5 250h1V251H5zM5 322h1V323H5zM5 347h1V348H5zM6 107h1V108H6zM7 67h1V68H7zM7 201h1V202H7zM7 280h1V281H7zM8 331h1V332H8zM9 49h1V50H9zM9 143h1V144H9zM9 310h1V311H9zM9 315h1V316H9zM10 22h1V23H10zM10 66h1V67H10zM10 163h1V164H10zM11 21h1V22H11zM11 206h1V207H11zM11 218h1V219H11zM12 61h1V62H12zM12 146h1V147H12zM12 226h1V227H12zM12 231h1V232H12zM12 251h1V252H12zM12 271h1V272H12zM12 294h1V295H12zM13 19h1V20H13zM13 21h1V22H13zM13 294h1V295H13z"/>
<path fill="rgb(231,246,235)" d="M0 21h1V22H0zM0 29h1V30H0zM0 103h1V104H0zM0 157h1V158H0zM0 199h1V200H0zM0 201h1V202H0zM0 205h1V206H0zM0 289h1V290H0zM0 294h1V295H0zM1 39h1V40H1zM1 63h1V64H1zM1 105h1V106H1zM1 126h1V127H1zM1 157h1V158H1zM1 229h1V230H1zM1 266h1V267H1zM1 312h1V313H1zM2 7h1V8H2zM2 33h1V34H2zM2 66h1V67H2zM2 76h1V77H2zM2 174h1V175H2zM2 267h1V268H2zM2 313h1V314H2zM2 328h1V329H2zM3 33h1V34H3zM3 38h1V39H3zM3 65h1V66H3zM3 92h1V93H3zM3 219h1V220H3zM3 292h1V293H3zM3 312h1V313H3zM4 12h1V13H4zM4 77h1V78H4zM4 88h1V89H4zM4 92h1V93H4zM4 99h1V100H4zM4 179h1V180H4zM4 216h1V217H4zM4 218h1V219H4zM4 226h1V227H4zM4 245h1V246H4zM4 296h1V297H4zM4 349h1V350H4zM5 32h1V33H5zM5 43h1V44H5zM5 53h1V54H5zM5 68h1V69H5zM5 155h1V156H5zM5 162h1V163H5zM5 175h1V176H5zM5 194h1V195H5zM5 214h1V215H5zM5 218h1V219H5zM5 245h1V246H5zM5 261h1V262H5zM6 21h1V22H6zM7 21h1V22H7zM7 66h1V67H7zM7 107h1V108H7zM7 154h1V155H7zM7 165h1V166H7zM7 228h1V229H7zM7 294h1V295H7zM8 199h1V200H8zM9 66h1V67H9zM9 70h1V71H9zM9 96h1V97H9zM9 152h1V153H9zM9 179h1V180H9zM9 212h1V213H9zM9 218h1V219H9zM9 224h1V225H9zM9 247h1V248H9zM9 260h1V261H9zM9 273h1V274H9zM10 19h1V20H10zM10 21h1V22H10zM10 67h1V68H10zM10 136h1V137H10zM10 243h1V244H10zM10 280h1V281H10zM11 1h1V2H11zM11 95h1V96H11zM11 154h1V155H11zM11 185h1V186H11zM11 219h1V220H11zM11 229h1V230H11zM11 245h1V246H11zM12 8h1V9H12zM12 36h1V37H12zM12 78h1V79H12zM12 107h1V108H12zM12 124h1V125H12zM12 154h1V155H12zM12 168h1V169H12zM12 273h1V274H12zM12 281h1V282H12zM13 7h1V8H13zM13 53h1V54H13zM13 55h1V56H13zM13 199h1V200H13zM13 248h1V249H13zM13 278h1V279H13zM13 280h1V281H13z"/>
<path fill="rgb(238,248,223)" d="M0 22h1V23H0zM0 32h1V33H0zM0 36h1V37H0zM0 63h1V64H0zM0 69h1V70H0zM0 77h1V78H0zM0 81h1V82H0zM0 92h1V94H0zM0 95h1V96H0zM0 106h1V107H0zM0 129h1V130H0zM0 153h1V154H0zM0 170h1V171H0zM0 189h1V190H0zM0 237h1V238H0zM0 250h1V252H0zM0 273h1V274H0zM0 283h1V284H0zM0 285h1V286H0zM0 296h1V297H0zM0 298h1V299H0zM0 301h1V302H0zM0 303h1V304H0zM0 315h1V316H0zM0 337h1V338H0zM1 16h1V17H1zM1 60h1V61H1zM1 167h1V168H1zM1 180h1V181H1zM1 202h1V203H1zM1 210h1V211H1zM1 224h1V225H1zM1 269h1V270H1zM1 271h1V272H1zM1 286h1V287H1zM1 289h1V290H1zM2 21h1V22H2zM2 48h1V50H2zM2 54h1V55H2zM2 65h1V66H2zM2 67h1V68H2zM2 92h1V93H2zM2 95h1V96H2zM2 103h1V104H2zM2 173h1V174H2zM2 185h1V186H2zM2 200h1V201H2zM2 230h1V231H2zM2 251h1V252H2zM2 289h1V290H2zM2 291h1V292H2zM2 294h1V295H2zM3 20h1V21H3zM3 26h1V27H3zM3 50h1V51H3zM3 62h1V63H3zM3 127h1V128H3zM3 133h1V134H3zM3 136h1V137H3zM3 195h1V196H3zM3 202h1V203H3zM3 218h1V219H3zM3 226h1V227H3zM3 245h1V246H3zM4 19h1V20H4zM4 29h1V30H4zM4 86h1V87H4zM4 110h1V111H4zM4 154h1V155H4zM4 167h1V168H4zM4 170h1V171H4zM4 175h1V176H4zM4 177h1V178H4zM4 183h1V184H4zM4 223h1V224H4zM4 229h1V231H4zM4 250h1V251H4zM4 265h1V267H4zM4 276h1V277H4zM4 287h1V288H4zM4 303h1V304H4zM4 317h1V318H4zM4 327h1V328H4zM4 337h1V338H4zM5 13h1V14H5zM5 15h1V16H5zM5 21h1V22H5zM5 33h1V34H5zM5 46h1V47H5zM5 79h1V80H5zM5 93h1V94H5zM5 103h1V104H5zM5 108h1V109H5zM5 116h1V117H5zM5 138h1V139H5zM5 140h1V141H5zM5 142h1V143H5zM5 152h1V153H5zM5 156h1V157H5zM5 163h1V164H5zM5 171h1V172H5zM5 195h1V196H5zM5 198h1V200H5zM5 225h1V226H5zM5 239h1V241H5zM5 266h1V267H5zM5 274h1V275H5zM5 281h1V282H5zM5 285h1V286H5zM5 288h1V289H5zM5 294h1V295H5zM5 318h1V319H5zM5 326h1V327H5zM5 330h1V331H5zM5 334h1V335H5zM5 336h1V337H5zM6 146h1V147H6zM6 194h1V195H6zM6 229h1V230H6zM7 146h1V147H7zM7 167h1V168H7zM7 176h1V177H7zM7 199h1V200H7zM7 271h1V272H7zM7 279h1V280H7zM7 348h1V349H7zM8 62h1V63H8zM8 86h1V87H8zM8 120h1V121H8zM8 326h1V327H8zM9 7h1V8H9zM9 30h1V31H9zM9 34h1V35H9zM9 86h1V87H9zM9 101h1V102H9zM9 110h1V111H9zM9 165h1V166H9zM9 167h1V168H9zM9 190h1V191H9zM9 200h1V201H9zM9 237h1V238H9zM9 267h1V268H9zM9 287h1V288H9zM9 328h1V329H9zM9 330h1V331H9zM10 29h1V30H10zM10 32h1V33H10zM10 103h1V104H10zM10 119h1V120H10zM10 137h1V138H10zM10 140h1V141H10zM10 206h1V207H10zM10 240h1V241H10zM11 48h1V49H11zM11 103h1V104H11zM11 230h1V231H11zM11 276h1V277H11zM11 303h1V304H11zM11 317h1V318H11zM12 53h1V54H12zM12 65h1V66H12zM12 93h1V94H12zM12 106h1V107H12zM12 137h1V138H12zM12 139h1V140H12zM12 147h1V148H12zM12 276h1V277H12zM12 289h1V290H12zM12 330h1V331H12zM12 335h1V336H12zM13 17h1V18H13zM13 29h1V30H13zM13 122h1V123H13zM13 160h1V161H13zM13 175h1V176H13zM13 193h1V194H13zM13 212h1V213H13zM13 249h1V250H13zM13 275h1V276H13zM13 335h1V336H13z"/>
<path fill="rgb(245,251,210)" d="M0 7h1V8H0zM0 17h1V18H0zM0 35h1V36H0zM0 51h1V52H0zM0 53h1V54H0zM0 67h1V68H0zM0 88h1V89H0zM0 99h1V100H0zM0 107h1V108H0zM0 116h1V117H0zM0 119h1V120H0zM0 137h1V138H0zM0 145h1V146H0zM0 165h1V167H0zM0 173h1V174H0zM0 188h1V189H0zM0 190h1V191H0zM0 204h1V205H0zM0 215h1V216H0zM0 218h1V220H0zM0 225h1V227H0zM0 229h1V231H0zM0 314h1V315H0zM0 316h1V317H0zM0 329h1V330H0zM0 335h1V336H0zM0 339h1V340H0zM1 56h1V57H1zM1 72h1V73H1zM1 127h1V128H1zM1 169h1V170H1zM1 188h1V189H1zM1 205h1V206H1zM1 231h1V232H1zM1 245h1V246H1zM1 268h1V269H1zM2 6h1V7H2zM2 22h1V23H2zM2 30h1V31H2zM2 36h1V37H2zM2 68h1V69H2zM2 75h1V76H2zM2 99h1V100H2zM2 122h1V123H2zM2 136h1V137H2zM2 141h1V142H2zM2 160h1V161H2zM2 188h1V189H2zM2 194h1V195H2zM2 212h1V213H2zM2 224h1V225H2zM2 231h1V232H2zM2 246h1V247H2zM2 269h1V270H2zM2 272h1V273H2zM2 290h1V291H2zM2 296h1V297H2zM2 303h1V304H2zM2 307h1V308H2zM2 317h1V318H2zM2 330h1V331H2zM2 332h1V333H2zM3 17h1V18H3zM3 28h1V29H3zM3 67h1V68H3zM3 79h1V80H3zM3 85h1V86H3zM3 103h1V104H3zM3 125h1V126H3zM3 134h1V135H3zM3 139h1V140H3zM3 144h1V145H3zM3 178h1V179H3zM3 315h1V316H3zM3 335h1V336H3zM4 13h1V14H4zM4 22h1V23H4zM4 27h1V28H4zM4 37h1V38H4zM4 42h1V43H4zM4 70h1V71H4zM4 91h1V92H4zM4 102h1V103H4zM4 134h1V135H4zM4 145h1V146H4zM4 162h1V163H4zM4 184h1V185H4zM4 221h1V222H4zM4 225h1V226H4zM4 257h1V259H4zM4 292h1V293H4zM4 314h1V315H4zM4 332h1V333H4zM5 11h1V12H5zM5 17h1V18H5zM5 25h1V26H5zM5 31h1V32H5zM5 35h1V36H5zM5 38h1V39H5zM5 59h1V60H5zM5 65h1V66H5zM5 74h1V75H5zM5 84h1V85H5zM5 99h1V100H5zM5 110h1V111H5zM5 147h1V148H5zM5 157h1V158H5zM5 187h1V188H5zM5 196h1V197H5zM5 220h1V221H5zM5 262h1V263H5zM5 271h1V272H5zM5 276h1V277H5zM5 280h1V281H5zM5 282h1V283H5zM5 291h1V292H5zM5 293h1V294H5zM5 309h1V310H5zM5 335h1V336H5zM5 337h1V338H5zM6 29h1V30H6zM6 33h1V34H6zM6 36h1V37H6zM6 49h1V50H6zM6 103h1V104H6zM7 7h1V8H7zM7 35h1V37H7zM7 49h1V50H7zM7 56h1V57H7zM7 73h1V74H7zM7 83h1V84H7zM7 99h1V100H7zM7 128h1V129H7zM7 140h1V141H7zM7 194h1V195H7zM7 237h1V238H7zM7 241h1V242H7zM7 246h1V247H7zM7 275h1V277H7zM7 285h1V286H7zM7 298h1V299H7zM7 322h1V323H7zM7 346h1V347H7zM8 8h1V9H8zM8 15h1V16H8zM8 223h1V224H8zM8 315h1V316H8zM9 0h1V1H9zM9 10h1V11H9zM9 12h1V13H9zM9 15h1V16H9zM9 28h1V29H9zM9 39h1V40H9zM9 44h1V45H9zM9 51h1V52H9zM9 64h1V65H9zM9 94h1V95H9zM9 111h1V112H9zM9 125h1V126H9zM9 146h1V147H9zM9 172h1V173H9zM9 176h1V177H9zM9 204h1V205H9zM9 223h1V224H9zM9 233h1V234H9zM9 275h1V277H9zM9 281h1V284H9zM9 290h1V291H9zM9 302h1V303H9zM9 306h1V307H9zM9 311h1V312H9zM9 347h1V348H9zM10 15h1V16H10zM10 17h1V18H10zM10 37h1V38H10zM10 49h1V50H10zM10 54h1V55H10zM10 75h1V76H10zM10 102h1V103H10zM10 123h1V124H10zM10 143h1V144H10zM10 211h1V213H10zM10 227h1V228H10zM10 233h1V234H10zM10 237h1V238H10zM10 284h1V285H10zM11 0h1V1H11zM11 9h1V10H11zM11 15h1V18H11zM11 30h1V31H11zM11 42h1V43H11zM11 47h1V48H11zM11 61h1V62H11zM11 66h1V67H11zM11 68h1V69H11zM11 99h1V100H11zM11 124h1V125H11zM11 137h1V138H11zM11 212h1V213H11zM11 226h1V227H11zM11 237h1V238H11zM11 251h1V252H11zM11 257h1V258H11zM11 267h1V268H11zM11 284h1V285H11zM11 296h1V297H11zM11 320h1V321H11zM11 324h1V325H11zM11 330h1V331H11zM12 17h1V18H12zM12 38h1V39H12zM12 54h1V55H12zM12 102h1V103H12zM12 127h1V128H12zM12 167h1V168H12zM12 185h1V186H12zM12 191h1V192H12zM12 278h1V279H12zM12 298h1V299H12zM12 303h1V304H12zM12 316h1V317H12zM13 3h1V4H13zM13 8h1V9H13zM13 91h1V92H13zM13 114h1V115H13zM13 127h1V128H13zM13 133h1V134H13zM13 224h1V225H13zM13 281h1V282H13zM13 285h1V286H13zM13 298h1V299H13z"/>
<path fill="rgb(252,254,197)" d="M0 3h1V4H0zM0 6h1V7H0zM0 9h1V10H0zM0 16h1V17H0zM0 24h1V25H0zM0 44h1V45H0zM0 47h1V48H0zM0 68h1V69H0zM0 72h1V74H0zM0 78h1V79H0zM0 96h1V97H0zM0 98h1V99H0zM0 117h1V119H0zM0 122h1V123H0zM0 124h1V125H0zM0 126h1V127H0zM0 128h1V129H0zM0 154h1V155H0zM0 162h1V163H0zM0 177h1V179H0zM0 191h1V192H0zM0 195h1V196H0zM0 200h1V201H0zM0 203h1V204H0zM0 207h1V208H0zM0 211h1V212H0zM0 220h1V221H0zM0 231h1V232H0zM0 236h1V237H0zM0 240h1V241H0zM0 245h1V246H0zM0 262h1V263H0zM0 270h1V271H0zM0 272h1V273H0zM0 278h1V279H0zM0 280h1V281H0zM0 286h1V287H0zM0 302h1V303H0zM0 309h1V310H0zM0 311h1V313H0zM0 317h1V318H0zM0 319h1V320H0zM0 322h1V323H0zM0 326h1V327H0zM0 328h1V329H0zM0 343h1V344H0zM1 35h1V36H1zM1 37h1V39H1zM1 47h1V49H1zM1 81h1V84H1zM1 108h1V109H1zM1 116h1V117H1zM1 140h1V141H1zM1 149h1V150H1zM1 174h1V175H1zM1 201h1V202H1zM1 203h1V204H1zM1 220h1V221H1zM1 223h1V224H1zM1 225h1V226H1zM1 234h1V235H1zM1 247h1V248H1zM1 278h1V279H1zM1 296h1V297H1zM1 332h1V333H1zM2 9h1V10H2zM2 13h1V14H2zM2 29h1V30H2zM2 60h1V61H2zM2 78h1V79H2zM2 86h1V88H2zM2 93h1V94H2zM2 116h1V117H2zM2 127h1V128H2zM2 133h1V134H2zM2 139h1V140H2zM2 152h1V153H2zM2 156h1V157H2zM2 163h1V164H2zM2 165h1V166H2zM2 175h1V176H2zM2 215h1V216H2zM2 263h1V264H2zM2 271h1V272H2zM2 309h1V310H2zM2 312h1V313H2zM2 347h1V348H2zM3 8h1V9H3zM3 30h1V31H3zM3 32h1V33H3zM3 35h1V36H3zM3 44h1V45H3zM3 47h1V48H3zM3 54h1V55H3zM3 78h1V79H3zM3 94h1V95H3zM3 115h1V116H3zM3 142h1V143H3zM3 147h1V148H3zM3 154h1V155H3zM3 175h1V176H3zM3 185h1V186H3zM3 191h1V192H3zM3 194h1V195H3zM3 227h1V228H3zM3 232h1V233H3zM3 247h1V248H3zM3 258h1V259H3zM3 266h1V267H3zM3 285h1V286H3zM3 287h1V289H3zM3 294h1V295H3zM3 340h1V341H3zM3 343h1V344H3zM4 7h1V8H4zM4 36h1V37H4zM4 53h1V54H4zM4 67h1V68H4zM4 74h1V75H4zM4 87h1V88H4zM4 96h1V97H4zM4 106h1V107H4zM4 122h1V123H4zM4 127h1V129H4zM4 130h1V131H4zM4 137h1V139H4zM4 163h1V164H4zM4 192h1V193H4zM4 199h1V200H4zM4 212h1V213H4zM4 220h1V221H4zM4 222h1V223H4zM4 231h1V232H4zM4 238h1V239H4zM4 247h1V248H4zM4 251h1V252H4zM4 259h1V260H4zM4 262h1V263H4zM4 277h1V278H4zM4 297h1V298H4zM4 311h1V312H4zM4 316h1V317H4zM4 340h1V341H4zM5 10h1V11H5zM5 19h1V20H5zM5 51h1V52H5zM5 81h1V82H5zM5 86h1V87H5zM5 94h1V95H5zM5 122h1V123H5zM5 127h1V128H5zM5 134h1V135H5zM5 136h1V137H5zM5 145h1V146H5zM5 149h1V150H5zM5 181h1V182H5zM5 191h1V192H5zM5 193h1V194H5zM5 204h1V205H5zM5 212h1V213H5zM5 222h1V223H5zM5 226h1V227H5zM5 231h1V232H5zM5 233h1V234H5zM5 236h1V237H5zM5 252h1V253H5zM5 287h1V288H5zM5 289h1V290H5zM5 292h1V293H5zM5 296h1V297H5zM5 302h1V303H5zM5 312h1V313H5zM5 338h1V339H5zM5 344h1V345H5zM6 8h1V9H6zM6 27h1V28H6zM6 30h1V31H6zM6 38h1V39H6zM6 67h1V68H6zM6 78h1V79H6zM6 95h1V96H6zM6 134h1V135H6zM6 175h1V176H6zM6 191h1V192H6zM6 206h1V207H6zM6 235h1V236H6zM6 257h1V258H6zM6 268h1V269H6zM6 276h1V277H6zM7 17h1V18H7zM7 26h1V27H7zM7 30h1V31H7zM7 33h1V34H7zM7 42h1V43H7zM7 45h1V46H7zM7 93h1V94H7zM7 119h1V120H7zM7 133h1V136H7zM7 170h1V171H7zM7 174h1V175H7zM7 192h1V193H7zM7 212h1V213H7zM7 229h1V230H7zM7 278h1V279H7zM7 287h1V288H7zM7 314h1V315H7zM7 321h1V322H7zM8 3h1V4H8zM8 22h1V23H8zM8 219h1V220H8zM8 231h1V232H8zM8 258h1V259H8zM8 337h1V338H8zM9 1h1V2H9zM9 29h1V30H9zM9 53h1V54H9zM9 65h1V66H9zM9 78h1V79H9zM9 92h1V94H9zM9 107h1V108H9zM9 118h1V119H9zM9 134h1V135H9zM9 163h1V165H9zM9 174h1V175H9zM9 191h1V192H9zM9 194h1V195H9zM9 197h1V198H9zM9 215h1V216H9zM9 231h1V232H9zM9 272h1V273H9zM9 289h1V290H9zM9 294h1V295H9zM9 313h1V314H9zM9 323h1V324H9zM9 332h1V333H9zM9 336h1V337H9zM9 340h1V341H9zM10 8h1V9H10zM10 72h1V73H10zM10 118h1V119H10zM10 126h1V127H10zM10 133h1V134H10zM10 160h1V161H10zM10 162h1V163H10zM10 175h1V176H10zM10 177h1V178H10zM10 199h1V200H10zM10 210h1V211H10zM10 218h1V219H10zM10 229h1V231H10zM10 250h1V251H10zM10 270h1V271H10zM10 273h1V274H10zM10 278h1V279H10zM10 314h1V315H10zM10 327h1V328H10zM10 335h1V336H10zM11 6h1V7H11zM11 24h1V25H11zM11 37h1V38H11zM11 45h1V46H11zM11 50h1V51H11zM11 53h1V54H11zM11 78h1V79H11zM11 81h1V82H11zM11 111h1V112H11zM11 123h1V124H11zM11 125h1V126H11zM11 127h1V128H11zM11 138h1V139H11zM11 142h1V143H11zM11 156h1V157H11zM11 188h1V189H11zM11 199h1V200H11zM11 201h1V202H11zM11 205h1V206H11zM11 222h1V223H11zM11 227h1V228H11zM11 231h1V232H11zM11 236h1V237H11zM11 246h1V247H11zM11 261h1V262H11zM11 275h1V276H11zM11 282h1V284H11zM11 291h1V292H11zM11 293h1V294H11zM11 298h1V300H11zM11 326h1V327H11zM11 346h1V347H11zM12 12h1V13H12zM12 30h1V31H12zM12 32h1V33H12zM12 63h1V64H12zM12 81h1V82H12zM12 86h1V87H12zM12 99h1V100H12zM12 105h1V106H12zM12 128h1V129H12zM12 138h1V139H12zM12 152h1V153H12zM12 196h1V197H12zM12 227h1V228H12zM12 258h1V259H12zM12 268h1V269H12zM12 287h1V288H12zM12 307h1V308H12zM12 312h1V314H12zM12 315h1V316H12zM12 326h1V327H12zM12 339h1V340H12zM12 342h1V343H12zM13 10h1V11H13zM13 24h1V25H13zM13 46h1V47H13zM13 50h1V51H13zM13 70h1V71H13zM13 109h1V111H13zM13 113h1V114H13zM13 119h1V120H13zM13 124h1V125H13zM13 146h1V147H13zM13 165h1V166H13zM13 173h1V175H13zM13 195h1V196H13zM13 220h1V221H13zM13 235h1V236H13zM13 241h1V242H13zM13 257h1V258H13zM13 291h1V292H13zM13 339h1V340H13zM13 347h1V348H13z"/>
<path fill="rgb(255,252,186)" d="M0 10h1V11H0zM0 19h1V21H0zM0 28h1V29H0zM0 30h1V31H0zM0 37h1V38H0zM0 42h1V43H0zM0 45h1V46H0zM0 60h1V61H0zM0 62h1V63H0zM0 64h1V65H0zM0 82h1V83H0zM0 86h1V88H0zM0 102h1V103H0zM0 104h1V105H0zM0 131h1V132H0zM0 133h1V134H0zM0 139h1V140H0zM0 147h1V148H0zM0 150h1V151H0zM0 152h1V153H0zM0 156h1V157H0zM0 160h1V162H0zM0 163h1V165H0zM0 168h1V169H0zM0 171h1V172H0zM0 175h1V176H0zM0 179h1V180H0zM0 181h1V183H0zM0 193h1V195H0zM0 206h1V207H0zM0 208h1V209H0zM0 223h1V225H0zM0 253h1V254H0zM0 277h1V278H0zM0 279h1V280H0zM0 284h1V285H0zM0 287h1V288H0zM0 290h1V291H0zM0 313h1V314H0zM0 321h1V322H0zM0 324h1V325H0zM0 327h1V328H0zM0 330h1V332H0zM0 338h1V339H0zM0 344h1V345H0zM1 10h1V11H1zM1 33h1V34H1zM1 53h1V54H1zM1 74h1V75H1zM1 76h1V77H1zM1 85h1V86H1zM1 90h1V91H1zM1 98h1V99H1zM1 118h1V119H1zM1 153h1V154H1zM1 164h1V165H1zM1 166h1V167H1zM1 195h1V196H1zM1 255h1V256H1zM1 273h1V274H1zM1 279h1V280H1zM1 298h1V299H1zM1 316h1V317H1zM1 335h1V336H1zM1 343h1V345H1zM2 3h1V5H2zM2 16h1V17H2zM2 25h1V26H2zM2 39h1V40H2zM2 44h1V45H2zM2 53h1V54H2zM2 61h1V62H2zM2 70h1V71H2zM2 114h1V115H2zM2 130h1V132H2zM2 135h1V136H2zM2 153h1V154H2zM2 158h1V159H2zM2 170h1V171H2zM2 181h1V182H2zM2 186h1V187H2zM2 211h1V212H2zM2 214h1V215H2zM2 219h1V220H2zM2 223h1V224H2zM2 225h1V226H2zM2 227h1V228H2zM2 229h1V230H2zM2 245h1V246H2zM2 256h1V257H2zM2 260h1V261H2zM2 270h1V271H2zM2 279h1V280H2zM2 285h1V286H2zM2 287h1V288H2zM2 316h1V317H2zM2 319h1V320H2zM2 321h1V322H2zM2 326h1V327H2zM2 329h1V330H2zM2 335h1V336H2zM2 337h1V339H2zM3 7h1V8H3zM3 15h1V16H3zM3 21h1V23H3zM3 56h1V57H3zM3 66h1V67H3zM3 77h1V78H3zM3 116h1V117H3zM3 124h1V125H3zM3 145h1V146H3zM3 203h1V204H3zM3 229h1V230H3zM3 236h1V238H3zM3 246h1V247H3zM3 257h1V258H3zM3 260h1V261H3zM3 270h1V271H3zM3 275h1V276H3zM3 277h1V278H3zM3 293h1V294H3zM3 297h1V298H3zM3 327h1V328H3zM3 330h1V332H3zM4 2h1V3H4zM4 32h1V33H4zM4 51h1V52H4zM4 62h1V63H4zM4 68h1V69H4zM4 72h1V73H4zM4 75h1V76H4zM4 90h1V91H4zM4 95h1V96H4zM4 97h1V98H4zM4 105h1V106H4zM4 109h1V110H4zM4 133h1V134H4zM4 141h1V144H4zM4 166h1V167H4zM4 178h1V179H4zM4 188h1V191H4zM4 194h1V195H4zM4 206h1V207H4zM4 211h1V212H4zM4 217h1V218H4zM4 219h1V220H4zM4 235h1V236H4zM4 237h1V238H4zM4 273h1V274H4zM4 280h1V281H4zM4 291h1V292H4zM4 302h1V303H4zM4 304h1V305H4zM4 309h1V310H4zM4 312h1V313H4zM4 329h1V330H4zM5 2h1V3H5zM5 7h1V8H5zM5 34h1V35H5zM5 37h1V38H5zM5 54h1V55H5zM5 69h1V70H5zM5 72h1V73H5zM5 95h1V96H5zM5 97h1V98H5zM5 106h1V107H5zM5 117h1V118H5zM5 164h1V165H5zM5 173h1V174H5zM5 177h1V179H5zM5 200h1V201H5zM5 205h1V206H5zM5 230h1V231H5zM5 251h1V252H5zM5 267h1V268H5zM5 299h1V300H5zM5 306h1V307H5zM5 311h1V312H5zM5 315h1V316H5zM5 332h1V333H5zM6 22h1V23H6zM6 47h1V48H6zM6 61h1V62H6zM6 87h1V88H6zM6 127h1V128H6zM6 149h1V150H6zM6 153h1V154H6zM6 187h1V188H6zM6 198h1V199H6zM6 230h1V231H6zM6 237h1V238H6zM6 251h1V252H6zM6 261h1V262H6zM6 281h1V282H6zM6 283h1V284H6zM6 292h1V293H6zM6 309h1V310H6zM7 3h1V4H7zM7 19h1V20H7zM7 29h1V30H7zM7 44h1V45H7zM7 53h1V54H7zM7 61h1V62H7zM7 75h1V76H7zM7 81h1V82H7zM7 95h1V96H7zM7 98h1V99H7zM7 127h1V128H7zM7 137h1V138H7zM7 141h1V142H7zM7 179h1V180H7zM7 185h1V186H7zM7 197h1V198H7zM7 206h1V207H7zM7 224h1V225H7zM7 226h1V227H7zM7 256h1V257H7zM7 258h1V259H7zM7 262h1V263H7zM7 286h1V287H7zM7 296h1V297H7zM7 306h1V307H7zM7 327h1V328H7zM7 330h1V331H7zM7 335h1V336H7zM8 27h1V28H8zM8 140h1V141H8zM8 147h1V148H8zM8 154h1V155H8zM8 212h1V213H8zM8 227h1V228H8zM8 246h1V247H8zM8 294h1V295H8zM8 317h1V318H8zM8 344h1V345H8zM9 17h1V18H9zM9 35h1V36H9zM9 37h1V39H9zM9 59h1V61H9zM9 79h1V80H9zM9 81h1V82H9zM9 91h1V92H9zM9 95h1V96H9zM9 104h1V107H9zM9 120h1V121H9zM9 129h1V130H9zM9 132h1V133H9zM9 153h1V155H9zM9 173h1V174H9zM9 187h1V188H9zM9 195h1V196H9zM9 203h1V204H9zM9 208h1V210H9zM9 211h1V212H9zM9 216h1V217H9zM9 225h1V226H9zM9 236h1V237H9zM9 257h1V258H9zM9 262h1V263H9zM9 266h1V267H9zM9 300h1V301H9zM9 303h1V304H9zM9 321h1V322H9zM9 326h1V328H9zM9 344h1V345H9zM10 7h1V8H10zM10 16h1V17H10zM10 31h1V32H10zM10 36h1V37H10zM10 44h1V45H10zM10 64h1V65H10zM10 74h1V75H10zM10 84h1V85H10zM10 92h1V94H10zM10 95h1V96H10zM10 107h1V108H10zM10 112h1V113H10zM10 139h1V140H10zM10 182h1V183H10zM10 190h1V191H10zM10 195h1V196H10zM10 231h1V233H10zM10 290h1V291H10zM10 312h1V313H10zM10 324h1V325H10zM10 326h1V327H10zM10 330h1V331H10zM10 338h1V339H10zM10 348h1V349H10zM11 27h1V28H11zM11 33h1V35H11zM11 36h1V37H11zM11 39h1V40H11zM11 44h1V45H11zM11 51h1V52H11zM11 62h1V63H11zM11 67h1V68H11zM11 93h1V94H11zM11 104h1V105H11zM11 113h1V115H11zM11 157h1V158H11zM11 165h1V166H11zM11 168h1V169H11zM11 170h1V171H11zM11 178h1V179H11zM11 180h1V181H11zM11 191h1V192H11zM11 223h1V224H11zM11 244h1V245H11zM11 247h1V248H11zM11 250h1V251H11zM11 265h1V266H11zM11 295h1V296H11zM11 315h1V316H11zM11 321h1V323H11zM11 325h1V326H11zM11 344h1V345H11zM12 0h1V1H12zM12 13h1V14H12zM12 15h1V16H12zM12 20h1V21H12zM12 27h1V28H12zM12 29h1V30H12zM12 49h1V50H12zM12 67h1V68H12zM12 77h1V78H12zM12 79h1V80H12zM12 83h1V84H12zM12 87h1V88H12zM12 98h1V99H12zM12 104h1V105H12zM12 114h1V115H12zM12 134h1V135H12zM12 136h1V137H12zM12 145h1V146H12zM12 150h1V151H12zM12 163h1V164H12zM12 165h1V166H12zM12 200h1V201H12zM12 218h1V219H12zM12 220h1V222H12zM12 223h1V224H12zM12 233h1V234H12zM12 248h1V249H12zM12 252h1V253H12zM12 261h1V262H12zM12 264h1V265H12zM12 270h1V271H12zM12 279h1V281H12zM12 282h1V283H12zM12 284h1V286H12zM12 292h1V293H12zM12 301h1V302H12zM12 310h1V311H12zM12 323h1V324H12zM12 327h1V328H12zM13 4h1V5H13zM13 11h1V12H13zM13 35h1V36H13zM13 37h1V38H13zM13 56h1V57H13zM13 61h1V62H13zM13 66h1V67H13zM13 134h1V135H13zM13 137h1V138H13zM13 141h1V143H13zM13 147h1V148H13zM13 159h1V160H13zM13 161h1V163H13zM13 166h1V167H13zM13 192h1V193H13zM13 194h1V195H13zM13 201h1V203H13zM13 210h1V211H13zM13 225h1V226H13zM13 230h1V232H13zM13 261h1V262H13zM13 295h1V296H13zM13 315h1V316H13zM13 317h1V318H13z"/>
<path fill="rgb(255,245,175)" d="M0 2h1V3H0zM0 18h1V19H0zM0 26h1V27H0zM0 52h1V53H0zM0 57h1V59H0zM0 66h1V67H0zM0 75h1V76H0zM0 85h1V86H0zM0 112h1V114H0zM0 120h1V121H0zM0 130h1V131H0zM0 135h1V136H0zM0 144h1V145H0zM0 146h1V147H0zM0 155h1V156H0zM0 180h1V181H0zM0 187h1V188H0zM0 214h1V215H0zM0 216h1V217H0zM0 222h1V223H0zM0 232h1V233H0zM0 244h1V245H0zM0 247h1V248H0zM0 249h1V250H0zM0 252h1V253H0zM0 257h1V258H0zM0 267h1V270H0zM0 271h1V272H0zM0 282h1V283H0zM1 8h1V9H1zM1 13h1V14H1zM1 24h1V25H1zM1 30h1V31H1zM1 54h1V55H1zM1 62h1V63H1zM1 64h1V65H1zM1 87h1V88H1zM1 101h1V104H1zM1 106h1V107H1zM1 138h1V139H1zM1 143h1V145H1zM1 193h1V194H1zM1 196h1V197H1zM1 199h1V200H1zM1 207h1V209H1zM1 214h1V215H1zM1 226h1V227H1zM1 235h1V236H1zM1 252h1V253H1zM1 256h1V257H1zM1 282h1V283H1zM1 294h1V295H1zM1 303h1V305H1zM1 315h1V316H1zM1 345h1V346H1zM2 15h1V16H2zM2 17h1V18H2zM2 24h1V25H2zM2 28h1V29H2zM2 32h1V33H2zM2 34h1V35H2zM2 37h1V38H2zM2 62h1V63H2zM2 72h1V73H2zM2 74h1V75H2zM2 77h1V78H2zM2 83h1V84H2zM2 90h1V91H2zM2 100h1V101H2zM2 106h1V107H2zM2 123h1V124H2zM2 128h1V129H2zM2 146h1V147H2zM2 154h1V155H2zM2 171h1V173H2zM2 183h1V184H2zM2 192h1V193H2zM2 198h1V199H2zM2 237h1V238H2zM2 261h1V262H2zM2 264h1V265H2zM2 277h1V278H2zM2 282h1V283H2zM2 292h1V293H2zM2 314h1V315H2zM2 320h1V321H2zM2 322h1V323H2zM2 327h1V328H2zM3 18h1V19H3zM3 29h1V30H3zM3 36h1V37H3zM3 40h1V41H3zM3 51h1V52H3zM3 60h1V61H3zM3 70h1V71H3zM3 72h1V73H3zM3 74h1V75H3zM3 83h1V84H3zM3 91h1V92H3zM3 102h1V103H3zM3 138h1V139H3zM3 140h1V142H3zM3 152h1V153H3zM3 159h1V160H3zM3 172h1V173H3zM3 174h1V175H3zM3 179h1V181H3zM3 206h1V207H3zM3 211h1V213H3zM3 215h1V216H3zM3 217h1V218H3zM3 235h1V236H3zM3 242h1V243H3zM3 254h1V256H3zM3 274h1V275H3zM3 281h1V282H3zM3 283h1V284H3zM3 299h1V300H3zM3 301h1V303H3zM3 321h1V322H3zM3 332h1V333H3zM4 17h1V18H4zM4 21h1V22H4zM4 25h1V26H4zM4 30h1V31H4zM4 38h1V39H4zM4 56h1V57H4zM4 60h1V61H4zM4 64h1V65H4zM4 84h1V85H4zM4 93h1V95H4zM4 119h1V122H4zM4 123h1V125H4zM4 149h1V150H4zM4 158h1V159H4zM4 160h1V161H4zM4 173h1V174H4zM4 176h1V177H4zM4 187h1V188H4zM4 197h1V198H4zM4 201h1V202H4zM4 236h1V237H4zM4 244h1V245H4zM4 246h1V247H4zM4 253h1V254H4zM4 256h1V257H4zM4 264h1V265H4zM4 267h1V268H4zM4 270h1V271H4zM4 272h1V273H4zM4 283h1V285H4zM4 289h1V291H4zM4 306h1V308H4zM4 313h1V314H4zM4 318h1V320H4zM4 323h1V324H4zM4 325h1V326H4zM4 336h1V337H4zM4 343h1V344H4zM4 348h1V349H4zM5 5h1V6H5zM5 20h1V21H5zM5 28h1V29H5zM5 36h1V37H5zM5 76h1V77H5zM5 96h1V97H5zM5 98h1V99H5zM5 113h1V114H5zM5 115h1V116H5zM5 128h1V129H5zM5 139h1V140H5zM5 159h1V160H5zM5 169h1V170H5zM5 176h1V177H5zM5 179h1V180H5zM5 183h1V184H5zM5 206h1V207H5zM5 213h1V214H5zM5 215h1V216H5zM5 219h1V220H5zM5 232h1V233H5zM5 243h1V244H5zM5 254h1V256H5zM5 264h1V265H5zM5 273h1V274H5zM5 298h1V299H5zM5 319h1V320H5zM5 331h1V332H5zM5 341h1V342H5zM5 345h1V346H5zM5 349h1V350H5zM6 3h1V4H6zM6 28h1V29H6zM6 41h1V42H6zM6 54h1V55H6zM6 58h1V59H6zM6 64h1V66H6zM6 106h1V107H6zM6 163h1V164H6zM6 165h1V166H6zM6 170h1V171H6zM6 183h1V184H6zM6 192h1V193H6zM6 202h1V203H6zM6 205h1V206H6zM6 220h1V221H6zM6 231h1V232H6zM6 245h1V246H6zM6 262h1V263H6zM6 275h1V276H6zM6 280h1V281H6zM6 284h1V285H6zM6 294h1V295H6zM6 339h1V340H6zM6 346h1V347H6zM7 18h1V19H7zM7 32h1V33H7zM7 34h1V35H7zM7 50h1V51H7zM7 68h1V69H7zM7 84h1V85H7zM7 86h1V87H7zM7 94h1V95H7zM7 112h1V113H7zM7 126h1V127H7zM7 175h1V176H7zM7 180h1V182H7zM7 193h1V194H7zM7 198h1V199H7zM7 204h1V205H7zM7 227h1V228H7zM7 233h1V234H7zM7 238h1V239H7zM7 240h1V241H7zM7 245h1V246H7zM7 253h1V254H7zM7 304h1V305H7zM7 311h1V312H7zM7 315h1V316H7zM7 334h1V335H7zM7 344h1V345H7zM8 2h1V3H8zM8 35h1V36H8zM8 103h1V104H8zM8 119h1V120H8zM8 133h1V134H8zM8 141h1V143H8zM8 157h1V158H8zM8 183h1V184H8zM8 185h1V186H8zM8 236h1V238H8zM8 244h1V245H8zM8 275h1V277H8zM8 310h1V311H8zM8 340h1V341H8zM9 16h1V17H9zM9 23h1V26H9zM9 42h1V44H9zM9 50h1V51H9zM9 52h1V53H9zM9 56h1V57H9zM9 62h1V63H9zM9 67h1V68H9zM9 69h1V70H9zM9 116h1V117H9zM9 121h1V122H9zM9 126h1V127H9zM9 135h1V136H9zM9 137h1V138H9zM9 140h1V142H9zM9 156h1V157H9zM9 162h1V163H9zM9 168h1V169H9zM9 170h1V172H9zM9 177h1V178H9zM9 181h1V182H9zM9 185h1V186H9zM9 213h1V214H9zM9 220h1V221H9zM9 249h1V250H9zM9 251h1V252H9zM9 258h1V259H9zM9 264h1V265H9zM9 269h1V270H9zM9 278h1V279H9zM9 292h1V293H9zM9 308h1V309H9zM9 314h1V315H9zM9 320h1V321H9zM9 343h1V344H9zM9 346h1V347H9zM10 3h1V4H10zM10 50h1V51H10zM10 59h1V60H10zM10 68h1V70H10zM10 71h1V72H10zM10 80h1V81H10zM10 88h1V89H10zM10 91h1V92H10zM10 106h1V107H10zM10 116h1V117H10zM10 128h1V130H10zM10 142h1V143H10zM10 146h1V147H10zM10 149h1V151H10zM10 168h1V169H10zM10 170h1V171H10zM10 180h1V182H10zM10 200h1V201H10zM10 205h1V206H10zM10 215h1V216H10zM10 220h1V221H10zM10 223h1V224H10zM10 245h1V246H10zM10 261h1V262H10zM10 264h1V265H10zM10 266h1V267H10zM10 283h1V284H10zM10 287h1V288H10zM10 289h1V290H10zM10 296h1V297H10zM10 307h1V308H10zM10 315h1V317H10zM10 331h1V332H10zM10 337h1V338H10zM11 7h1V8H11zM11 19h1V20H11zM11 28h1V29H11zM11 38h1V39H11zM11 60h1V61H11zM11 64h1V65H11zM11 73h1V74H11zM11 122h1V123H11zM11 126h1V127H11zM11 131h1V132H11zM11 134h1V135H11zM11 147h1V148H11zM11 149h1V150H11zM11 152h1V153H11zM11 160h1V161H11zM11 172h1V173H11zM11 183h1V184H11zM11 193h1V195H11zM11 200h1V201H11zM11 209h1V210H11zM11 215h1V216H11zM11 220h1V221H11zM11 232h1V233H11zM11 240h1V241H11zM11 263h1V264H11zM11 273h1V275H11zM11 280h1V281H11zM11 306h1V308H11zM11 327h1V328H11zM11 329h1V330H11zM11 335h1V336H11zM11 337h1V338H11zM12 26h1V27H12zM12 28h1V29H12zM12 51h1V52H12zM12 55h1V56H12zM12 60h1V61H12zM12 68h1V69H12zM12 74h1V75H12zM12 92h1V93H12zM12 119h1V120H12zM12 131h1V133H12zM12 140h1V141H12zM12 156h1V157H12zM12 173h1V174H12zM12 181h1V182H12zM12 190h1V191H12zM12 193h1V194H12zM12 208h1V209H12zM12 216h1V217H12zM12 229h1V231H12zM12 236h1V238H12zM12 240h1V241H12zM12 250h1V251H12zM12 256h1V257H12zM12 274h1V275H12zM12 286h1V287H12zM12 304h1V306H12zM12 311h1V312H12zM12 337h1V338H12zM12 343h1V344H12zM13 5h1V6H13zM13 33h1V34H13zM13 36h1V37H13zM13 44h1V45H13zM13 47h1V48H13zM13 49h1V50H13zM13 63h1V64H13zM13 71h1V72H13zM13 87h1V88H13zM13 92h1V94H13zM13 103h1V104H13zM13 132h1V133H13zM13 138h1V139H13zM13 149h1V150H13zM13 154h1V155H13zM13 182h1V183H13zM13 191h1V192H13zM13 206h1V207H13zM13 218h1V219H13zM13 245h1V246H13zM13 247h1V248H13zM13 254h1V255H13zM13 262h1V263H13zM13 283h1V284H13zM13 296h1V297H13zM13 303h1V304H13zM13 309h1V310H13zM13 321h1V323H13zM13 325h1V326H13zM13 336h1V337H13zM13 338h1V339H13zM13 342h1V343H13zM13 344h1V345H13z"/>
<path fill="rgb(254,238,165)" d="M0 0h1V2H0zM0 5h1V6H0zM0 23h1V24H0zM0 25h1V26H0zM0 34h1V35H0zM0 38h1V41H0zM0 46h1V47H0zM0 48h1V49H0zM0 50h1V51H0zM0 56h1V57H0zM0 61h1V62H0zM0 79h1V80H0zM0 84h1V85H0zM0 91h1V92H0zM0 105h1V106H0zM0 109h1V111H0zM0 114h1V116H0zM0 121h1V122H0zM0 134h1V135H0zM0 141h1V142H0zM0 148h1V149H0zM0 159h1V160H0zM0 186h1V187H0zM0 192h1V193H0zM0 196h1V197H0zM0 227h1V228H0zM0 239h1V240H0zM0 260h1V261H0zM0 264h1V266H0zM0 281h1V282H0zM0 295h1V296H0zM0 297h1V298H0zM0 304h1V305H0zM0 307h1V308H0zM0 320h1V321H0zM0 332h1V334H0zM0 342h1V343H0zM0 345h1V346H0zM0 348h1V349H0zM1 21h1V23H1zM1 40h1V41H1zM1 69h1V70H1zM1 122h1V123H1zM1 129h1V130H1zM1 132h1V133H1zM1 141h1V142H1zM1 146h1V147H1zM1 151h1V152H1zM1 156h1V157H1zM1 158h1V159H1zM1 163h1V164H1zM1 172h1V173H1zM1 182h1V183H1zM1 194h1V195H1zM1 197h1V198H1zM1 264h1V265H1zM1 275h1V276H1zM1 288h1V289H1zM1 314h1V315H1zM1 319h1V321H1zM1 326h1V327H1zM1 334h1V335H1zM2 8h1V9H2zM2 10h1V11H2zM2 31h1V32H2zM2 47h1V48H2zM2 58h1V59H2zM2 64h1V65H2zM2 97h1V99H2zM2 110h1V111H2zM2 124h1V125H2zM2 126h1V127H2zM2 137h1V138H2zM2 145h1V146H2zM2 162h1V163H2zM2 168h1V170H2zM2 180h1V181H2zM2 187h1V188H2zM2 191h1V192H2zM2 193h1V194H2zM2 206h1V207H2zM2 208h1V209H2zM2 210h1V211H2zM2 217h1V219H2zM2 220h1V221H2zM2 222h1V223H2zM2 232h1V233H2zM2 238h1V239H2zM2 240h1V241H2zM2 247h1V248H2zM2 249h1V251H2zM2 252h1V253H2zM2 259h1V260H2zM2 266h1V267H2zM2 274h1V275H2zM2 295h1V296H2zM2 306h1V307H2zM2 308h1V309H2zM2 311h1V312H2zM2 334h1V335H2zM2 340h1V341H2zM2 346h1V347H2zM3 13h1V14H3zM3 46h1V47H3zM3 49h1V50H3zM3 52h1V53H3zM3 61h1V62H3zM3 64h1V65H3zM3 95h1V96H3zM3 99h1V100H3zM3 128h1V129H3zM3 146h1V147H3zM3 153h1V154H3zM3 156h1V157H3zM3 161h1V162H3zM3 166h1V167H3zM3 171h1V172H3zM3 173h1V174H3zM3 186h1V187H3zM3 193h1V194H3zM3 196h1V197H3zM3 213h1V214H3zM3 220h1V222H3zM3 224h1V225H3zM3 240h1V241H3zM3 256h1V257H3zM3 265h1V266H3zM3 268h1V269H3zM3 280h1V281H3zM3 284h1V285H3zM3 307h1V308H3zM3 313h1V315H3zM3 322h1V323H3zM3 324h1V325H3zM3 337h1V338H3zM3 342h1V343H3zM3 344h1V345H3zM3 347h1V348H3zM3 349h1V350H3zM4 1h1V2H4zM4 3h1V5H4zM4 6h1V7H4zM4 18h1V19H4zM4 28h1V29H4zM4 39h1V40H4zM4 41h1V42H4zM4 46h1V47H4zM4 50h1V51H4zM4 73h1V74H4zM4 76h1V77H4zM4 78h1V79H4zM4 81h1V82H4zM4 103h1V104H4zM4 117h1V118H4zM4 125h1V127H4zM4 135h1V136H4zM4 139h1V140H4zM4 148h1V149H4zM4 161h1V162H4zM4 181h1V182H4zM4 186h1V187H4zM4 203h1V205H4zM4 208h1V209H4zM4 234h1V235H4zM4 249h1V250H4zM4 254h1V255H4zM4 274h1V275H4zM4 286h1V287H4zM4 288h1V289H4zM4 298h1V299H4zM4 322h1V323H4zM4 328h1V329H4zM4 331h1V332H4zM4 334h1V335H4zM4 338h1V339H4zM5 1h1V2H5zM5 42h1V43H5zM5 56h1V57H5zM5 60h1V61H5zM5 64h1V65H5zM5 66h1V67H5zM5 73h1V74H5zM5 90h1V91H5zM5 101h1V102H5zM5 112h1V113H5zM5 119h1V120H5zM5 129h1V130H5zM5 132h1V133H5zM5 154h1V155H5zM5 167h1V168H5zM5 172h1V173H5zM5 180h1V181H5zM5 188h1V189H5zM5 197h1V198H5zM5 221h1V222H5zM5 228h1V229H5zM5 238h1V239H5zM5 248h1V249H5zM5 268h1V269H5zM5 278h1V280H5zM5 301h1V302H5zM5 314h1V315H5zM5 316h1V317H5zM5 321h1V322H5zM5 339h1V340H5zM5 343h1V344H5zM5 348h1V349H5zM6 56h1V57H6zM6 63h1V64H6zM6 73h1V74H6zM6 75h1V76H6zM6 79h1V81H6zM6 98h1V99H6zM6 129h1V130H6zM6 141h1V142H6zM6 152h1V153H6zM6 162h1V163H6zM6 168h1V169H6zM6 200h1V201H6zM6 218h1V219H6zM6 244h1V245H6zM6 253h1V254H6zM6 273h1V274H6zM6 285h1V286H6zM6 287h1V288H6zM6 301h1V302H6zM6 318h1V319H6zM6 326h1V327H6zM6 328h1V329H6zM6 331h1V332H6zM6 349h1V350H6zM7 0h1V1H7zM7 6h1V7H7zM7 20h1V21H7zM7 27h1V29H7zM7 37h1V39H7zM7 48h1V49H7zM7 51h1V52H7zM7 57h1V58H7zM7 60h1V61H7zM7 63h1V64H7zM7 65h1V66H7zM7 71h1V73H7zM7 85h1V86H7zM7 89h1V92H7zM7 103h1V105H7zM7 111h1V112H7zM7 120h1V121H7zM7 138h1V139H7zM7 178h1V179H7zM7 182h1V183H7zM7 186h1V187H7zM7 188h1V189H7zM7 219h1V220H7zM7 223h1V224H7zM7 239h1V240H7zM7 243h1V244H7zM7 282h1V283H7zM7 303h1V304H7zM7 310h1V311H7zM7 317h1V318H7zM7 324h1V325H7zM7 337h1V338H7zM7 341h1V342H7zM7 349h1V350H7zM8 4h1V5H8zM8 19h1V20H8zM8 21h1V22H8zM8 49h1V50H8zM8 65h1V66H8zM8 67h1V69H8zM8 70h1V71H8zM8 94h1V95H8zM8 110h1V111H8zM8 124h1V125H8zM8 127h1V128H8zM8 160h1V161H8zM8 162h1V163H8zM8 174h1V175H8zM8 204h1V206H8zM8 218h1V219H8zM8 226h1V227H8zM8 264h1V265H8zM8 280h1V281H8zM8 282h1V284H8zM8 285h1V286H8zM8 289h1V290H8zM8 327h1V328H8zM8 332h1V333H8zM8 341h1V342H8zM9 2h1V3H9zM9 13h1V14H9zM9 32h1V34H9zM9 40h1V41H9zM9 58h1V59H9zM9 61h1V62H9zM9 72h1V73H9zM9 77h1V78H9zM9 103h1V104H9zM9 112h1V113H9zM9 114h1V116H9zM9 119h1V120H9zM9 124h1V125H9zM9 138h1V139H9zM9 151h1V152H9zM9 160h1V161H9zM9 175h1V176H9zM9 199h1V200H9zM9 205h1V207H9zM9 230h1V231H9zM9 239h1V241H9zM9 243h1V244H9zM9 245h1V246H9zM9 254h1V255H9zM9 261h1V262H9zM9 279h1V280H9zM9 293h1V294H9zM9 299h1V300H9zM9 322h1V323H9zM9 324h1V325H9zM9 331h1V332H9zM9 335h1V336H9zM9 337h1V338H9zM9 339h1V340H9zM9 341h1V342H9zM10 1h1V3H10zM10 12h1V13H10zM10 20h1V21H10zM10 28h1V29H10zM10 38h1V39H10zM10 51h1V52H10zM10 57h1V58H10zM10 61h1V62H10zM10 63h1V64H10zM10 73h1V74H10zM10 78h1V79H10zM10 86h1V87H10zM10 90h1V91H10zM10 96h1V97H10zM10 110h1V111H10zM10 134h1V135H10zM10 147h1V148H10zM10 159h1V160H10zM10 173h1V174H10zM10 188h1V189H10zM10 193h1V195H10zM10 201h1V202H10zM10 204h1V205H10zM10 219h1V220H10zM10 224h1V225H10zM10 226h1V227H10zM10 228h1V229H10zM10 234h1V235H10zM10 260h1V261H10zM10 274h1V275H10zM10 277h1V278H10zM10 292h1V293H10zM10 297h1V299H10zM10 304h1V305H10zM10 306h1V307H10zM10 313h1V314H10zM10 317h1V320H10zM10 333h1V334H10zM10 347h1V348H10zM11 14h1V15H11zM11 23h1V24H11zM11 25h1V26H11zM11 41h1V42H11zM11 43h1V44H11zM11 71h1V72H11zM11 77h1V78H11zM11 79h1V80H11zM11 84h1V86H11zM11 87h1V88H11zM11 91h1V93H11zM11 115h1V117H11zM11 120h1V121H11zM11 129h1V130H11zM11 136h1V137H11zM11 140h1V141H11zM11 184h1V185H11zM11 186h1V187H11zM11 202h1V204H11zM11 211h1V212H11zM11 221h1V222H11zM11 224h1V225H11zM11 233h1V234H11zM11 254h1V255H11zM11 262h1V263H11zM11 264h1V265H11zM11 270h1V271H11zM11 279h1V280H11zM11 290h1V291H11zM11 308h1V309H11zM11 310h1V311H11zM11 313h1V314H11zM11 319h1V320H11zM11 331h1V332H11zM11 345h1V346H11zM12 23h1V24H12zM12 33h1V34H12zM12 39h1V40H12zM12 44h1V46H12zM12 66h1V67H12zM12 73h1V74H12zM12 85h1V86H12zM12 88h1V89H12zM12 90h1V91H12zM12 94h1V96H12zM12 111h1V112H12zM12 113h1V114H12zM12 118h1V119H12zM12 129h1V130H12zM12 141h1V142H12zM12 148h1V149H12zM12 153h1V154H12zM12 171h1V172H12zM12 177h1V178H12zM12 180h1V181H12zM12 187h1V188H12zM12 202h1V203H12zM12 205h1V206H12zM12 211h1V212H12zM12 225h1V226H12zM12 235h1V236H12zM12 238h1V239H12zM12 245h1V246H12zM12 247h1V248H12zM12 253h1V255H12zM12 257h1V258H12zM12 308h1V309H12zM12 319h1V320H12zM13 12h1V13H13zM13 23h1V24H13zM13 30h1V31H13zM13 39h1V40H13zM13 48h1V49H13zM13 51h1V52H13zM13 62h1V63H13zM13 67h1V68H13zM13 85h1V86H13zM13 89h1V90H13zM13 95h1V100H13zM13 107h1V109H13zM13 126h1V127H13zM13 129h1V130H13zM13 157h1V158H13zM13 170h1V172H13zM13 178h1V179H13zM13 183h1V184H13zM13 200h1V201H13zM13 214h1V215H13zM13 216h1V217H13zM13 221h1V222H13zM13 226h1V228H13zM13 242h1V243H13zM13 244h1V245H13zM13 250h1V251H13zM13 252h1V253H13zM13 265h1V268H13zM13 307h1V308H13zM13 312h1V313H13zM13 340h1V342H13z"/>
<path fill="rgb(254,231,154)" d="M0 4h1V5H0zM0 15h1V16H0zM0 31h1V32H0zM0 43h1V44H0zM0 74h1V75H0zM0 80h1V81H0zM0 83h1V84H0zM0 89h1V90H0zM0 111h1V112H0zM0 123h1V124H0zM0 158h1V159H0zM0 176h1V177H0zM0 202h1V203H0zM0 209h1V211H0zM0 221h1V222H0zM0 234h1V236H0zM0 238h1V239H0zM0 241h1V242H0zM0 246h1V247H0zM0 254h1V255H0zM0 256h1V257H0zM0 288h1V289H0zM0 293h1V294H0zM0 306h1V307H0zM0 323h1V324H0zM0 336h1V337H0zM0 349h1V350H0zM1 15h1V16H1zM1 27h1V28H1zM1 59h1V60H1zM1 109h1V110H1zM1 145h1V146H1zM1 175h1V176H1zM1 218h1V219H1zM1 230h1V231H1zM1 236h1V237H1zM1 251h1V252H1zM1 260h1V261H1zM1 284h1V285H1zM1 299h1V300H1zM1 307h1V308H1zM1 309h1V312H1zM1 321h1V322H1zM1 330h1V331H1zM1 333h1V334H1zM2 1h1V2H2zM2 27h1V28H2zM2 43h1V44H2zM2 51h1V52H2zM2 55h1V56H2zM2 57h1V58H2zM2 59h1V60H2zM2 69h1V70H2zM2 80h1V81H2zM2 85h1V86H2zM2 96h1V97H2zM2 101h1V103H2zM2 111h1V112H2zM2 120h1V121H2zM2 129h1V130H2zM2 134h1V135H2zM2 143h1V144H2zM2 157h1V158H2zM2 166h1V167H2zM2 177h1V178H2zM2 179h1V180H2zM2 197h1V198H2zM2 204h1V205H2zM2 207h1V208H2zM2 216h1V217H2zM2 221h1V222H2zM2 235h1V236H2zM2 253h1V256H2zM2 265h1V266H2zM2 268h1V269H2zM2 278h1V279H2zM2 297h1V299H2zM2 301h1V302H2zM2 304h1V305H2zM2 315h1V316H2zM2 325h1V326H2zM2 331h1V332H2zM2 339h1V340H2zM2 342h1V343H2zM2 344h1V345H2zM3 2h1V3H3zM3 24h1V26H3zM3 37h1V38H3zM3 39h1V40H3zM3 59h1V60H3zM3 86h1V88H3zM3 90h1V91H3zM3 93h1V94H3zM3 96h1V97H3zM3 98h1V99H3zM3 104h1V107H3zM3 110h1V111H3zM3 157h1V158H3zM3 163h1V166H3zM3 169h1V170H3zM3 183h1V184H3zM3 188h1V189H3zM3 199h1V200H3zM3 204h1V205H3zM3 207h1V208H3zM3 234h1V235H3zM3 243h1V244H3zM3 248h1V249H3zM3 261h1V262H3zM3 264h1V265H3zM3 278h1V279H3zM3 296h1V297H3zM3 308h1V309H3zM3 310h1V311H3zM3 316h1V319H3zM4 14h1V15H4zM4 26h1V27H4zM4 40h1V41H4zM4 52h1V53H4zM4 54h1V55H4zM4 61h1V62H4zM4 66h1V67H4zM4 69h1V70H4zM4 82h1V84H4zM4 107h1V108H4zM4 111h1V112H4zM4 113h1V114H4zM4 129h1V130H4zM4 136h1V137H4zM4 144h1V145H4zM4 147h1V148H4zM4 153h1V154H4zM4 155h1V156H4zM4 172h1V173H4zM4 195h1V196H4zM4 205h1V206H4zM4 214h1V215H4zM4 233h1V234H4zM4 260h1V262H4zM4 263h1V264H4zM4 269h1V270H4zM4 278h1V279H4zM4 293h1V294H4zM4 299h1V300H4zM4 305h1V306H4zM4 315h1V316H4zM4 342h1V343H4zM4 344h1V345H4zM5 12h1V13H5zM5 23h1V24H5zM5 26h1V27H5zM5 30h1V31H5zM5 48h1V49H5zM5 55h1V56H5zM5 58h1V59H5zM5 63h1V64H5zM5 71h1V72H5zM5 109h1V110H5zM5 121h1V122H5zM5 153h1V154H5zM5 186h1V187H5zM5 207h1V209H5zM5 234h1V235H5zM5 242h1V243H5zM5 253h1V254H5zM5 258h1V261H5zM5 297h1V298H5zM5 317h1V318H5zM5 327h1V329H5zM5 340h1V341H5zM5 346h1V347H5zM6 0h1V1H6zM6 6h1V7H6zM6 15h1V16H6zM6 17h1V18H6zM6 26h1V27H6zM6 32h1V33H6zM6 51h1V52H6zM6 76h1V77H6zM6 88h1V89H6zM6 92h1V93H6zM6 99h1V100H6zM6 111h1V112H6zM6 115h1V116H6zM6 155h1V156H6zM6 167h1V168H6zM6 169h1V170H6zM6 180h1V181H6zM6 188h1V189H6zM6 199h1V200H6zM6 201h1V202H6zM6 208h1V209H6zM6 212h1V213H6zM6 219h1V220H6zM6 222h1V223H6zM6 226h1V227H6zM6 228h1V229H6zM6 233h1V234H6zM6 238h1V239H6zM6 241h1V242H6zM6 249h1V251H6zM6 252h1V253H6zM6 256h1V257H6zM6 259h1V260H6zM6 263h1V264H6zM6 265h1V266H6zM6 282h1V283H6zM6 297h1V298H6zM6 311h1V312H6zM6 313h1V314H6zM6 316h1V317H6zM6 329h1V330H6zM6 348h1V349H6zM7 1h1V2H7zM7 16h1V17H7zM7 39h1V40H7zM7 41h1V42H7zM7 59h1V60H7zM7 88h1V89H7zM7 113h1V114H7zM7 117h1V118H7zM7 122h1V124H7zM7 125h1V126H7zM7 129h1V130H7zM7 131h1V132H7zM7 136h1V137H7zM7 139h1V140H7zM7 145h1V146H7zM7 147h1V148H7zM7 160h1V161H7zM7 162h1V163H7zM7 177h1V178H7zM7 183h1V185H7zM7 195h1V197H7zM7 203h1V204H7zM7 208h1V210H7zM7 215h1V216H7zM7 218h1V219H7zM7 225h1V226H7zM7 242h1V243H7zM7 268h1V269H7zM7 274h1V275H7zM7 284h1V285H7zM7 289h1V290H7zM7 291h1V293H7zM7 308h1V310H7zM7 323h1V324H7zM7 326h1V327H7zM7 332h1V334H7zM7 347h1V348H7zM8 7h1V8H8zM8 23h1V24H8zM8 30h1V31H8zM8 32h1V34H8zM8 38h1V39H8zM8 48h1V49H8zM8 50h1V52H8zM8 59h1V60H8zM8 81h1V82H8zM8 87h1V89H8zM8 92h1V93H8zM8 95h1V96H8zM8 99h1V100H8zM8 107h1V108H8zM8 113h1V115H8zM8 139h1V140H8zM8 161h1V162H8zM8 167h1V168H8zM8 178h1V179H8zM8 181h1V182H8zM8 195h1V196H8zM8 201h1V202H8zM8 250h1V251H8zM8 267h1V268H8zM8 292h1V293H8zM8 320h1V321H8zM8 342h1V343H8zM9 5h1V7H9zM9 27h1V28H9zM9 45h1V46H9zM9 47h1V48H9zM9 63h1V64H9zM9 71h1V72H9zM9 74h1V75H9zM9 84h1V85H9zM9 88h1V89H9zM9 99h1V100H9zM9 131h1V132H9zM9 147h1V148H9zM9 161h1V162H9zM9 180h1V181H9zM9 183h1V184H9zM9 196h1V197H9zM9 198h1V199H9zM9 222h1V223H9zM9 238h1V239H9zM9 263h1V264H9zM9 268h1V269H9zM9 284h1V286H9zM9 298h1V299H9zM9 301h1V302H9zM9 309h1V310H9zM9 325h1V326H9zM9 329h1V330H9zM9 334h1V335H9zM9 338h1V339H9zM9 345h1V346H9zM10 24h1V25H10zM10 33h1V34H10zM10 42h1V43H10zM10 53h1V54H10zM10 62h1V63H10zM10 65h1V66H10zM10 77h1V78H10zM10 81h1V82H10zM10 85h1V86H10zM10 113h1V114H10zM10 115h1V116H10zM10 135h1V136H10zM10 154h1V155H10zM10 165h1V166H10zM10 169h1V170H10zM10 171h1V172H10zM10 185h1V186H10zM10 187h1V188H10zM10 189h1V190H10zM10 196h1V197H10zM10 207h1V209H10zM10 221h1V222H10zM10 235h1V236H10zM10 246h1V247H10zM10 257h1V258H10zM10 263h1V264H10zM10 267h1V268H10zM10 275h1V276H10zM10 285h1V287H10zM10 294h1V295H10zM10 300h1V301H10zM10 302h1V303H10zM10 328h1V330H10zM10 334h1V335H10zM10 341h1V342H10zM10 344h1V345H10zM10 346h1V347H10zM10 349h1V350H10zM11 3h1V4H11zM11 5h1V6H11zM11 13h1V14H11zM11 20h1V21H11zM11 35h1V36H11zM11 40h1V41H11zM11 55h1V57H11zM11 69h1V70H11zM11 94h1V95H11zM11 105h1V108H11zM11 132h1V134H11zM11 146h1V147H11zM11 150h1V151H11zM11 153h1V154H11zM11 155h1V156H11zM11 164h1V165H11zM11 177h1V178H11zM11 196h1V198H11zM11 204h1V205H11zM11 208h1V209H11zM11 234h1V235H11zM11 239h1V240H11zM11 253h1V254H11zM11 259h1V260H11zM11 285h1V287H11zM11 289h1V290H11zM11 311h1V312H11zM11 316h1V317H11zM11 323h1V324H11zM11 336h1V337H11zM12 1h1V2H12zM12 10h1V11H12zM12 14h1V15H12zM12 21h1V22H12zM12 31h1V32H12zM12 42h1V43H12zM12 50h1V51H12zM12 59h1V60H12zM12 62h1V63H12zM12 69h1V70H12zM12 76h1V77H12zM12 108h1V109H12zM12 112h1V113H12zM12 121h1V122H12zM12 158h1V159H12zM12 160h1V163H12zM12 164h1V165H12zM12 169h1V171H12zM12 172h1V173H12zM12 183h1V184H12zM12 188h1V189H12zM12 215h1V216H12zM12 232h1V233H12zM12 241h1V242H12zM12 244h1V245H12zM12 260h1V261H12zM12 265h1V266H12zM12 302h1V303H12zM12 306h1V307H12zM12 317h1V319H12zM12 320h1V321H12zM12 341h1V342H12zM12 345h1V346H12zM13 25h1V26H13zM13 34h1V35H13zM13 43h1V44H13zM13 45h1V46H13zM13 65h1V66H13zM13 73h1V74H13zM13 81h1V82H13zM13 86h1V87H13zM13 88h1V89H13zM13 90h1V91H13zM13 101h1V102H13zM13 104h1V105H13zM13 111h1V112H13zM13 140h1V141H13zM13 145h1V146H13zM13 148h1V149H13zM13 150h1V151H13zM13 163h1V164H13zM13 167h1V168H13zM13 177h1V178H13zM13 181h1V182H13zM13 185h1V186H13zM13 189h1V190H13zM13 205h1V206H13zM13 208h1V210H13zM13 215h1V216H13zM13 236h1V237H13zM13 240h1V241H13zM13 272h1V274H13zM13 277h1V278H13zM13 282h1V283H13zM13 292h1V293H13zM13 302h1V303H13zM13 314h1V315H13zM13 324h1V325H13zM13 332h1V333H13zM13 337h1V338H13zM13 345h1V347H13z"/>
<path fill="rgb(254,224,144)" d="M0 11h1V14H0zM0 27h1V28H0zM0 55h1V56H0zM0 70h1V71H0zM0 76h1V77H0zM0 94h1V95H0zM0 97h1V98H0zM0 101h1V102H0zM0 125h1V126H0zM0 140h1V141H0zM0 143h1V144H0zM0 174h1V175H0zM0 183h1V184H0zM0 197h1V199H0zM0 213h1V214H0zM0 228h1V229H0zM0 248h1V249H0zM0 255h1V256H0zM0 259h1V260H0zM0 261h1V262H0zM0 266h1V267H0zM0 274h1V275H0zM0 291h1V292H0zM0 308h1V309H0zM0 310h1V311H0zM0 318h1V319H0zM0 347h1V348H0zM1 4h1V5H1zM1 23h1V24H1zM1 45h1V46H1zM1 94h1V95H1zM1 113h1V114H1zM1 115h1V116H1zM1 136h1V137H1zM1 142h1V143H1zM1 148h1V149H1zM1 160h1V161H1zM1 162h1V163H1zM1 185h1V187H1zM1 192h1V193H1zM1 213h1V214H1zM1 217h1V218H1zM1 240h1V241H1zM1 246h1V247H1zM1 250h1V251H1zM1 254h1V255H1zM1 337h1V338H1zM1 339h1V341H1zM2 5h1V6H2zM2 18h1V21H2zM2 42h1V43H2zM2 46h1V47H2zM2 63h1V64H2zM2 82h1V83H2zM2 91h1V92H2zM2 113h1V114H2zM2 118h1V119H2zM2 121h1V122H2zM2 125h1V126H2zM2 138h1V139H2zM2 147h1V151H2zM2 159h1V160H2zM2 178h1V179H2zM2 190h1V191H2zM2 196h1V197H2zM2 201h1V203H2zM2 233h1V234H2zM2 236h1V237H2zM2 243h1V244H2zM2 248h1V249H2zM2 257h1V258H2zM2 283h1V284H2zM2 286h1V287H2zM2 300h1V301H2zM2 302h1V303H2zM2 324h1V325H2zM2 343h1V344H2zM3 5h1V6H3zM3 42h1V44H3zM3 68h1V70H3zM3 71h1V72H3zM3 73h1V74H3zM3 81h1V82H3zM3 84h1V85H3zM3 88h1V90H3zM3 97h1V98H3zM3 107h1V108H3zM3 112h1V113H3zM3 114h1V115H3zM3 118h1V119H3zM3 121h1V122H3zM3 135h1V136H3zM3 158h1V159H3zM3 167h1V168H3zM3 177h1V178H3zM3 187h1V188H3zM3 189h1V190H3zM3 198h1V199H3zM3 200h1V201H3zM3 205h1V206H3zM3 210h1V211H3zM3 222h1V223H3zM3 259h1V260H3zM3 267h1V268H3zM3 269h1V270H3zM3 271h1V272H3zM3 282h1V283H3zM3 303h1V304H3zM3 305h1V306H3zM3 311h1V312H3zM3 319h1V320H3zM3 326h1V327H3zM3 338h1V339H3zM4 0h1V1H4zM4 8h1V10H4zM4 15h1V16H4zM4 20h1V21H4zM4 33h1V34H4zM4 35h1V36H4zM4 45h1V46H4zM4 55h1V56H4zM4 58h1V59H4zM4 63h1V64H4zM4 71h1V72H4zM4 79h1V80H4zM4 104h1V105H4zM4 115h1V117H4zM4 131h1V133H4zM4 146h1V147H4zM4 152h1V153H4zM4 164h1V165H4zM4 168h1V170H4zM4 185h1V186H4zM4 193h1V194H4zM4 196h1V197H4zM4 202h1V203H4zM4 210h1V211H4zM4 213h1V214H4zM4 227h1V229H4zM4 239h1V241H4zM4 243h1V244H4zM4 275h1V276H4zM4 282h1V283H4zM4 285h1V286H4zM4 300h1V301H4zM4 310h1V311H4zM4 324h1V325H4zM4 330h1V331H4zM4 346h1V347H4zM5 0h1V1H5zM5 8h1V10H5zM5 41h1V42H5zM5 77h1V79H5zM5 82h1V84H5zM5 100h1V101H5zM5 105h1V106H5zM5 120h1V121H5zM5 125h1V126H5zM5 143h1V144H5zM5 150h1V151H5zM5 217h1V218H5zM5 247h1V248H5zM5 263h1V264H5zM5 269h1V270H5zM5 284h1V285H5zM5 286h1V287H5zM5 300h1V301H5zM5 320h1V321H5zM5 323h1V324H5zM5 342h1V343H5zM6 9h1V10H6zM6 12h1V13H6zM6 19h1V21H6zM6 43h1V44H6zM6 52h1V53H6zM6 62h1V63H6zM6 82h1V83H6zM6 84h1V85H6zM6 91h1V92H6zM6 104h1V105H6zM6 109h1V110H6zM6 114h1V115H6zM6 119h1V120H6zM6 121h1V122H6zM6 126h1V127H6zM6 136h1V138H6zM6 143h1V144H6zM6 150h1V151H6zM6 166h1V167H6zM6 172h1V173H6zM6 176h1V178H6zM6 182h1V183H6zM6 185h1V187H6zM6 236h1V237H6zM6 239h1V241H6zM6 246h1V247H6zM6 258h1V259H6zM6 274h1V275H6zM6 278h1V280H6zM6 298h1V299H6zM6 306h1V308H6zM6 310h1V311H6zM6 327h1V328H6zM6 335h1V336H6zM6 341h1V342H6zM6 344h1V346H6zM7 11h1V12H7zM7 24h1V25H7zM7 40h1V41H7zM7 78h1V79H7zM7 92h1V93H7zM7 97h1V98H7zM7 100h1V101H7zM7 106h1V107H7zM7 114h1V117H7zM7 118h1V119H7zM7 130h1V131H7zM7 142h1V143H7zM7 158h1V160H7zM7 172h1V173H7zM7 202h1V203H7zM7 205h1V206H7zM7 211h1V212H7zM7 213h1V214H7zM7 216h1V217H7zM7 247h1V248H7zM7 265h1V266H7zM7 267h1V268H7zM7 277h1V278H7zM7 281h1V282H7zM7 283h1V284H7zM7 290h1V291H7zM7 293h1V294H7zM7 312h1V313H7zM7 318h1V319H7zM7 336h1V337H7zM7 338h1V339H7zM7 345h1V346H7zM8 9h1V10H8zM8 26h1V27H8zM8 31h1V32H8zM8 45h1V46H8zM8 54h1V55H8zM8 60h1V61H8zM8 72h1V73H8zM8 91h1V92H8zM8 98h1V99H8zM8 104h1V105H8zM8 136h1V137H8zM8 143h1V144H8zM8 169h1V170H8zM8 187h1V188H8zM8 213h1V214H8zM8 215h1V216H8zM8 221h1V223H8zM8 224h1V225H8zM8 229h1V230H8zM8 243h1V244H8zM8 245h1V246H8zM8 253h1V254H8zM8 266h1V267H8zM8 273h1V274H8zM8 277h1V279H8zM8 284h1V285H8zM8 295h1V296H8zM8 297h1V298H8zM8 306h1V308H8zM8 312h1V314H8zM8 336h1V337H8zM9 4h1V5H9zM9 20h1V21H9zM9 22h1V23H9zM9 48h1V49H9zM9 54h1V55H9zM9 73h1V74H9zM9 80h1V81H9zM9 87h1V88H9zM9 89h1V90H9zM9 113h1V114H9zM9 122h1V123H9zM9 128h1V129H9zM9 130h1V131H9zM9 149h1V150H9zM9 159h1V160H9zM9 166h1V167H9zM9 169h1V170H9zM9 178h1V179H9zM9 193h1V194H9zM9 214h1V215H9zM9 221h1V222H9zM9 227h1V228H9zM9 242h1V243H9zM9 256h1V257H9zM9 259h1V260H9zM9 270h1V272H9zM9 274h1V275H9zM9 312h1V313H9zM9 316h1V317H9zM9 342h1V343H9zM10 0h1V1H10zM10 6h1V7H10zM10 13h1V14H10zM10 35h1V36H10zM10 39h1V40H10zM10 45h1V46H10zM10 60h1V61H10zM10 83h1V84H10zM10 87h1V88H10zM10 89h1V90H10zM10 101h1V102H10zM10 109h1V110H10zM10 111h1V112H10zM10 120h1V121H10zM10 124h1V125H10zM10 131h1V132H10zM10 148h1V149H10zM10 156h1V157H10zM10 167h1V168H10zM10 172h1V173H10zM10 176h1V177H10zM10 178h1V179H10zM10 184h1V185H10zM10 192h1V193H10zM10 217h1V218H10zM10 225h1V226H10zM10 244h1V245H10zM10 251h1V252H10zM10 255h1V256H10zM10 282h1V283H10zM10 293h1V294H10zM10 303h1V304H10zM10 311h1V312H10zM10 320h1V321H10zM10 332h1V333H10zM10 336h1V337H10zM11 10h1V12H11zM11 26h1V27H11zM11 52h1V53H11zM11 54h1V55H11zM11 58h1V59H11zM11 70h1V71H11zM11 83h1V84H11zM11 96h1V97H11zM11 98h1V99H11zM11 100h1V101H11zM11 110h1V111H11zM11 117h1V118H11zM11 121h1V122H11zM11 148h1V149H11zM11 159h1V160H11zM11 161h1V162H11zM11 163h1V164H11zM11 167h1V168H11zM11 181h1V182H11zM11 195h1V196H11zM11 198h1V199H11zM11 256h1V257H11zM11 258h1V259H11zM11 266h1V267H11zM11 278h1V279H11zM11 287h1V288H11zM11 294h1V295H11zM11 302h1V303H11zM11 304h1V305H11zM11 312h1V313H11zM11 328h1V329H11zM11 334h1V335H11zM11 338h1V341H11zM11 343h1V344H11zM11 349h1V350H11zM12 7h1V8H12zM12 16h1V17H12zM12 35h1V36H12zM12 40h1V41H12zM12 56h1V57H12zM12 64h1V65H12zM12 80h1V81H12zM12 91h1V92H12zM12 101h1V102H12zM12 103h1V104H12zM12 109h1V110H12zM12 125h1V127H12zM12 176h1V177H12zM12 194h1V195H12zM12 198h1V199H12zM12 212h1V213H12zM12 219h1V220H12zM12 224h1V225H12zM12 291h1V292H12zM12 296h1V297H12zM12 309h1V310H12zM12 321h1V322H12zM12 346h1V347H12zM12 349h1V350H12zM13 1h1V2H13zM13 22h1V23H13zM13 52h1V53H13zM13 75h1V76H13zM13 83h1V84H13zM13 102h1V103H13zM13 115h1V116H13zM13 128h1V129H13zM13 144h1V145H13zM13 172h1V173H13zM13 176h1V177H13zM13 179h1V180H13zM13 229h1V230H13zM13 237h1V238H13zM13 239h1V240H13zM13 246h1V247H13zM13 251h1V252H13zM13 256h1V257H13zM13 258h1V259H13zM13 270h1V271H13zM13 276h1V277H13zM13 289h1V290H13zM13 297h1V298H13zM13 316h1V317H13zM13 348h1V350H13z"/>
<path fill="rgb(254,206,132)" d="M0 14h1V15H0zM0 90h1V91H0zM0 100h1V101H0zM0 132h1V133H0zM0 172h1V173H0zM0 217h1V218H0zM0 243h1V244H0zM0 299h1V300H0zM0 340h1V341H0zM1 32h1V33H1zM1 34h1V35H1zM1 41h1V42H1zM1 65h1V66H1zM1 68h1V69H1zM1 77h1V78H1zM1 91h1V92H1zM1 120h1V121H1zM1 171h1V172H1zM1 204h1V205H1zM1 227h1V228H1zM1 233h1V234H1zM1 248h1V249H1zM1 267h1V268H1zM1 274h1V275H1zM1 297h1V298H1zM1 328h1V329H1zM1 341h1V342H1zM2 0h1V1H2zM2 12h1V13H2zM2 23h1V24H2zM2 35h1V36H2zM2 38h1V39H2zM2 45h1V46H2zM2 71h1V72H2zM2 73h1V74H2zM2 79h1V80H2zM2 94h1V95H2zM2 104h1V105H2zM2 107h1V108H2zM2 109h1V110H2zM2 112h1V113H2zM2 115h1V116H2zM2 195h1V196H2zM2 205h1V206H2zM2 228h1V229H2zM2 234h1V235H2zM2 242h1V243H2zM2 262h1V263H2zM2 273h1V274H2zM2 284h1V285H2zM2 293h1V294H2zM2 348h1V349H2zM3 0h1V1H3zM3 3h1V4H3zM3 10h1V12H3zM3 16h1V17H3zM3 19h1V20H3zM3 27h1V28H3zM3 41h1V42H3zM3 45h1V46H3zM3 76h1V77H3zM3 111h1V112H3zM3 119h1V120H3zM3 122h1V123H3zM3 131h1V132H3zM3 137h1V138H3zM3 168h1V169H3zM3 182h1V183H3zM3 190h1V191H3zM3 201h1V202H3zM3 223h1V224H3zM3 230h1V231H3zM3 233h1V234H3zM3 251h1V252H3zM3 253h1V254H3zM3 263h1V264H3zM3 272h1V273H3zM3 276h1V277H3zM3 279h1V280H3zM3 289h1V290H3zM3 295h1V296H3zM3 304h1V305H3zM3 325h1V326H3zM3 334h1V335H3zM3 339h1V340H3zM3 348h1V349H3zM4 10h1V11H4zM4 16h1V17H4zM4 34h1V35H4zM4 47h1V48H4zM4 59h1V60H4zM4 85h1V86H4zM4 98h1V99H4zM4 100h1V101H4zM4 112h1V113H4zM4 114h1V115H4zM4 118h1V119H4zM4 151h1V152H4zM4 174h1V175H4zM4 198h1V199H4zM4 209h1V210H4zM4 215h1V216H4zM4 232h1V233H4zM4 268h1V269H4zM4 271h1V272H4zM4 281h1V282H4zM4 333h1V334H4zM4 335h1V336H4zM4 341h1V342H4zM5 3h1V4H5zM5 18h1V19H5zM5 24h1V25H5zM5 39h1V40H5zM5 47h1V48H5zM5 62h1V63H5zM5 87h1V88H5zM5 89h1V90H5zM5 91h1V92H5zM5 104h1V105H5zM5 107h1V108H5zM5 124h1V125H5zM5 126h1V127H5zM5 133h1V134H5zM5 135h1V136H5zM5 144h1V145H5zM5 151h1V152H5zM5 158h1V159H5zM5 168h1V169H5zM5 185h1V186H5zM5 202h1V204H5zM5 211h1V212H5zM5 244h1V245H5zM5 257h1V258H5zM5 270h1V271H5zM5 295h1V296H5zM5 310h1V311H5zM5 324h1V326H5zM5 333h1V334H5zM6 1h1V3H6zM6 4h1V5H6zM6 7h1V8H6zM6 11h1V12H6zM6 16h1V17H6zM6 18h1V19H6zM6 34h1V36H6zM6 44h1V45H6zM6 57h1V58H6zM6 60h1V61H6zM6 69h1V70H6zM6 81h1V82H6zM6 90h1V91H6zM6 97h1V98H6zM6 102h1V103H6zM6 112h1V113H6zM6 117h1V118H6zM6 120h1V121H6zM6 124h1V126H6zM6 138h1V139H6zM6 144h1V145H6zM6 159h1V160H6zM6 161h1V162H6zM6 164h1V165H6zM6 171h1V172H6zM6 179h1V180H6zM6 210h1V211H6zM6 213h1V214H6zM6 216h1V217H6zM6 224h1V225H6zM6 227h1V228H6zM6 232h1V233H6zM6 255h1V256H6zM6 264h1V265H6zM6 291h1V292H6zM6 315h1V316H6zM6 317h1V318H6zM6 319h1V320H6zM6 321h1V322H6zM6 324h1V325H6zM6 337h1V338H6zM7 4h1V6H7zM7 9h1V10H7zM7 13h1V16H7zM7 23h1V24H7zM7 31h1V32H7zM7 54h1V55H7zM7 62h1V63H7zM7 74h1V75H7zM7 77h1V78H7zM7 87h1V88H7zM7 155h1V158H7zM7 161h1V162H7zM7 163h1V164H7zM7 169h1V170H7zM7 171h1V172H7zM7 173h1V174H7zM7 214h1V215H7zM7 217h1V218H7zM7 230h1V231H7zM7 234h1V235H7zM7 236h1V237H7zM7 244h1V245H7zM7 251h1V252H7zM7 261h1V262H7zM7 263h1V265H7zM7 273h1V274H7zM7 295h1V296H7zM7 297h1V298H7zM7 302h1V303H7zM7 320h1V321H7zM8 13h1V14H8zM8 36h1V37H8zM8 42h1V43H8zM8 52h1V54H8zM8 55h1V58H8zM8 61h1V62H8zM8 66h1V67H8zM8 69h1V70H8zM8 77h1V79H8zM8 85h1V86H8zM8 93h1V94H8zM8 102h1V103H8zM8 106h1V107H8zM8 109h1V110H8zM8 116h1V117H8zM8 129h1V130H8zM8 134h1V136H8zM8 138h1V139H8zM8 146h1V147H8zM8 163h1V165H8zM8 166h1V167H8zM8 175h1V177H8zM8 190h1V191H8zM8 192h1V193H8zM8 200h1V201H8zM8 206h1V207H8zM8 233h1V234H8zM8 247h1V250H8zM8 263h1V264H8zM8 274h1V275H8zM8 301h1V302H8zM8 303h1V304H8zM8 309h1V310H8zM8 311h1V312H8zM8 324h1V325H8zM8 328h1V330H8zM8 347h1V348H8zM9 8h1V9H9zM9 11h1V12H9zM9 26h1V27H9zM9 36h1V37H9zM9 41h1V42H9zM9 57h1V58H9zM9 100h1V101H9zM9 109h1V110H9zM9 148h1V149H9zM9 158h1V159H9zM9 210h1V211H9zM9 217h1V218H9zM9 228h1V230H9zM9 235h1V236H9zM9 241h1V242H9zM9 244h1V245H9zM9 248h1V249H9zM9 250h1V251H9zM9 291h1V292H9zM9 318h1V319H9zM9 348h1V350H9zM10 5h1V6H10zM10 10h1V11H10zM10 34h1V35H10zM10 40h1V41H10zM10 70h1V71H10zM10 105h1V106H10zM10 121h1V123H10zM10 125h1V126H10zM10 127h1V128H10zM10 141h1V142H10zM10 145h1V146H10zM10 155h1V156H10zM10 157h1V158H10zM10 166h1V167H10zM10 174h1V175H10zM10 202h1V203H10zM10 214h1V215H10zM10 241h1V242H10zM10 248h1V250H10zM10 256h1V257H10zM10 265h1V266H10zM10 272h1V273H10zM10 281h1V282H10zM10 321h1V323H10zM11 8h1V9H11zM11 59h1V60H11zM11 75h1V77H11zM11 80h1V81H11zM11 88h1V89H11zM11 119h1V120H11zM11 135h1V136H11zM11 143h1V144H11zM11 162h1V163H11zM11 169h1V170H11zM11 171h1V172H11zM11 192h1V193H11zM11 210h1V211H11zM11 217h1V218H11zM11 225h1V226H11zM11 235h1V236H11zM11 241h1V242H11zM11 288h1V289H11zM11 292h1V293H11zM11 305h1V306H11zM11 314h1V315H11zM11 332h1V333H11zM11 341h1V342H11zM11 348h1V349H11zM12 11h1V12H12zM12 19h1V20H12zM12 24h1V25H12zM12 43h1V44H12zM12 46h1V47H12zM12 57h1V59H12zM12 71h1V72H12zM12 82h1V83H12zM12 84h1V85H12zM12 96h1V97H12zM12 110h1V111H12zM12 130h1V131H12zM12 133h1V134H12zM12 143h1V144H12zM12 155h1V156H12zM12 157h1V158H12zM12 174h1V176H12zM12 179h1V180H12zM12 197h1V198H12zM12 210h1V211H12zM12 217h1V218H12zM12 243h1V244H12zM12 246h1V247H12zM12 262h1V263H12zM12 266h1V267H12zM12 295h1V296H12zM12 297h1V298H12zM12 328h1V330H12zM12 333h1V334H12zM13 0h1V1H13zM13 27h1V28H13zM13 38h1V39H13zM13 40h1V41H13zM13 59h1V60H13zM13 64h1V65H13zM13 74h1V75H13zM13 84h1V85H13zM13 94h1V95H13zM13 123h1V124H13zM13 151h1V152H13zM13 155h1V156H13zM13 180h1V181H13zM13 188h1V189H13zM13 197h1V198H13zM13 203h1V205H13zM13 207h1V208H13zM13 232h1V233H13zM13 259h1V260H13zM13 263h1V264H13zM13 287h1V288H13zM13 320h1V321H13zM13 328h1V329H13zM13 333h1V334H13zM13 343h1V344H13z"/>
<path fill="rgb(253,187,120)" d="M0 41h1V42H0zM0 59h1V60H0zM0 71h1V72H0zM0 108h1V109H0zM0 151h1V152H0zM0 184h1V185H0zM0 242h1V243H0zM0 258h1V259H0zM0 325h1V326H0zM0 346h1V347H0zM1 1h1V2H1zM1 6h1V7H1zM1 18h1V19H1zM1 25h1V26H1zM1 50h1V51H1zM1 79h1V80H1zM1 92h1V94H1zM1 123h1V124H1zM1 128h1V129H1zM1 133h1V134H1zM1 154h1V156H1zM1 165h1V166H1zM1 176h1V177H1zM1 184h1V185H1zM1 200h1V201H1zM1 206h1V207H1zM1 237h1V238H1zM1 242h1V243H1zM1 265h1V266H1zM1 291h1V292H1zM1 308h1V309H1zM1 323h1V324H1zM2 11h1V12H2zM2 52h1V53H2zM2 81h1V82H2zM2 89h1V90H2zM2 105h1V106H2zM2 119h1V120H2zM2 132h1V133H2zM2 144h1V145H2zM2 161h1V162H2zM2 164h1V165H2zM2 176h1V177H2zM2 203h1V204H2zM2 209h1V210H2zM2 244h1V245H2zM2 258h1V259H2zM2 281h1V282H2zM2 288h1V289H2zM2 299h1V300H2zM2 305h1V306H2zM2 318h1V319H2zM2 323h1V324H2zM2 333h1V334H2zM2 336h1V337H2zM2 341h1V342H2zM3 1h1V2H3zM3 9h1V10H3zM3 12h1V13H3zM3 34h1V35H3zM3 63h1V64H3zM3 80h1V81H3zM3 100h1V101H3zM3 108h1V110H3zM3 123h1V124H3zM3 129h1V131H3zM3 132h1V133H3zM3 143h1V144H3zM3 162h1V163H3zM3 176h1V177H3zM3 184h1V185H3zM3 192h1V193H3zM3 214h1V215H3zM3 216h1V217H3zM3 228h1V229H3zM3 249h1V250H3zM3 290h1V292H3zM3 309h1V310H3zM3 323h1V324H3zM3 328h1V329H3zM3 333h1V334H3zM3 346h1V347H3zM4 23h1V24H4zM4 48h1V49H4zM4 57h1V58H4zM4 80h1V81H4zM4 150h1V151H4zM4 191h1V192H4zM4 207h1V208H4zM4 241h1V242H4zM4 248h1V249H4zM4 252h1V253H4zM4 255h1V256H4zM4 320h1V321H4zM5 6h1V7H5zM5 40h1V41H5zM5 52h1V53H5zM5 57h1V58H5zM5 102h1V103H5zM5 130h1V131H5zM5 161h1V162H5zM5 166h1V167H5zM5 182h1V183H5zM5 210h1V211H5zM5 223h1V224H5zM5 241h1V242H5zM5 256h1V257H5zM5 308h1V309H5zM5 329h1V330H5zM6 13h1V14H6zM6 24h1V26H6zM6 37h1V38H6zM6 48h1V49H6zM6 50h1V51H6zM6 66h1V67H6zM6 68h1V69H6zM6 72h1V73H6zM6 74h1V75H6zM6 89h1V90H6zM6 93h1V94H6zM6 100h1V101H6zM6 105h1V106H6zM6 110h1V111H6zM6 116h1V117H6zM6 118h1V119H6zM6 128h1V129H6zM6 130h1V132H6zM6 133h1V134H6zM6 139h1V140H6zM6 142h1V143H6zM6 158h1V159H6zM6 173h1V174H6zM6 181h1V182H6zM6 193h1V194H6zM6 195h1V197H6zM6 204h1V205H6zM6 211h1V212H6zM6 215h1V216H6zM6 217h1V218H6zM6 225h1V226H6zM6 254h1V255H6zM6 270h1V271H6zM6 277h1V278H6zM6 286h1V287H6zM6 304h1V305H6zM6 314h1V315H6zM6 323h1V324H6zM6 325h1V326H6zM6 336h1V337H6zM7 8h1V9H7zM7 25h1V26H7zM7 47h1V48H7zM7 76h1V77H7zM7 96h1V97H7zM7 101h1V102H7zM7 110h1V111H7zM7 143h1V144H7zM7 148h1V150H7zM7 152h1V153H7zM7 189h1V190H7zM7 191h1V192H7zM7 200h1V201H7zM7 210h1V211H7zM7 221h1V222H7zM7 231h1V232H7zM7 250h1V251H7zM7 266h1V267H7zM7 272h1V273H7zM7 300h1V301H7zM7 305h1V306H7zM7 316h1V317H7zM7 329h1V330H7zM7 331h1V332H7zM7 342h1V343H7zM8 18h1V19H8zM8 20h1V21H8zM8 28h1V29H8zM8 41h1V42H8zM8 83h1V84H8zM8 121h1V123H8zM8 125h1V126H8zM8 148h1V149H8zM8 153h1V154H8zM8 177h1V178H8zM8 182h1V183H8zM8 207h1V208H8zM8 209h1V210H8zM8 214h1V215H8zM8 217h1V218H8zM8 220h1V221H8zM8 225h1V226H8zM8 230h1V231H8zM8 235h1V236H8zM8 242h1V243H8zM8 261h1V262H8zM8 268h1V269H8zM8 271h1V272H8zM8 281h1V282H8zM8 290h1V292H8zM8 296h1V297H8zM8 298h1V299H8zM8 300h1V301H8zM8 318h1V319H8zM8 325h1V326H8zM8 330h1V331H8zM8 338h1V339H8zM9 76h1V77H9zM9 83h1V84H9zM9 90h1V91H9zM9 97h1V98H9zM9 108h1V109H9zM9 123h1V124H9zM9 144h1V146H9zM9 150h1V151H9zM9 184h1V185H9zM9 192h1V193H9zM9 201h1V202H9zM9 207h1V208H9zM9 252h1V253H9zM9 286h1V287H9zM9 288h1V289H9zM9 295h1V298H9zM9 305h1V306H9zM9 319h1V320H9zM9 333h1V334H9zM10 4h1V5H10zM10 18h1V19H10zM10 48h1V49H10zM10 52h1V53H10zM10 58h1V59H10zM10 98h1V99H10zM10 100h1V101H10zM10 104h1V105H10zM10 132h1V133H10zM10 144h1V145H10zM10 153h1V154H10zM10 158h1V159H10zM10 203h1V204H10zM10 209h1V210H10zM10 222h1V223H10zM10 236h1V237H10zM10 242h1V243H10zM10 252h1V253H10zM10 258h1V259H10zM10 262h1V263H10zM10 268h1V269H10zM10 276h1V277H10zM10 295h1V296H10zM10 310h1V311H10zM11 2h1V3H11zM11 31h1V32H11zM11 46h1V47H11zM11 63h1V64H11zM11 102h1V103H11zM11 108h1V110H11zM11 118h1V119H11zM11 128h1V129H11zM11 130h1V131H11zM11 151h1V152H11zM11 166h1V167H11zM11 173h1V175H11zM11 179h1V180H11zM11 190h1V191H11zM11 214h1V215H11zM11 216h1V217H11zM11 252h1V253H11zM11 260h1V261H11zM11 268h1V269H11zM11 277h1V278H11zM11 281h1V282H11zM11 309h1V310H11zM11 318h1V319H11zM11 333h1V334H11zM11 347h1V348H11zM12 6h1V7H12zM12 22h1V23H12zM12 37h1V38H12zM12 70h1V71H12zM12 72h1V73H12zM12 117h1V118H12zM12 120h1V121H12zM12 122h1V123H12zM12 135h1V136H12zM12 178h1V179H12zM12 184h1V185H12zM12 189h1V190H12zM12 203h1V204H12zM12 206h1V207H12zM12 209h1V210H12zM12 234h1V235H12zM12 259h1V260H12zM12 277h1V278H12zM12 283h1V284H12zM12 299h1V300H12zM12 322h1V323H12zM12 324h1V325H12zM12 332h1V333H12zM12 340h1V341H12zM12 347h1V348H12zM13 2h1V3H13zM13 20h1V21H13zM13 42h1V43H13zM13 72h1V73H13zM13 78h1V79H13zM13 120h1V122H13zM13 131h1V132H13zM13 135h1V137H13zM13 143h1V144H13zM13 153h1V154H13zM13 169h1V170H13zM13 184h1V185H13zM13 211h1V212H13zM13 233h1V234H13zM13 274h1V275H13zM13 279h1V280H13zM13 288h1V289H13zM13 305h1V306H13zM13 318h1V320H13zM13 329h1V330H13zM13 331h1V332H13z"/>
<path fill="rgb(253,169,107)" d="M0 149h1V150H0zM0 305h1V306H0zM0 334h1V335H0zM1 9h1V10H1zM1 12h1V13H1zM1 20h1V21H1zM1 36h1V37H1zM1 52h1V53H1zM1 58h1V59H1zM1 66h1V67H1zM1 84h1V85H1zM1 104h1V105H1zM1 117h1V118H1zM1 131h1V132H1zM1 179h1V180H1zM1 191h1V192H1zM1 209h1V210H1zM1 244h1V245H1zM1 276h1V278H1zM1 280h1V281H1zM1 283h1V284H1zM1 287h1V288H1zM1 302h1V303H1zM1 313h1V314H1zM1 324h1V325H1zM1 342h1V343H1zM2 41h1V42H2zM2 56h1V57H2zM2 108h1V109H2zM2 182h1V183H2zM2 184h1V185H2zM2 241h1V242H2zM2 310h1V311H2zM2 345h1V346H2zM3 4h1V5H3zM3 6h1V7H3zM3 14h1V15H3zM3 23h1V24H3zM3 48h1V49H3zM3 55h1V56H3zM3 101h1V102H3zM3 113h1V114H3zM3 126h1V127H3zM3 170h1V171H3zM3 225h1V226H3zM3 239h1V240H3zM3 250h1V251H3zM3 252h1V253H3zM3 320h1V321H3zM3 329h1V330H3zM4 5h1V6H4zM4 89h1V90H4zM4 101h1V102H4zM4 108h1V109H4zM4 171h1V172H4zM4 182h1V183H4zM4 295h1V296H4zM4 308h1V309H4zM4 339h1V340H4zM4 345h1V346H4zM4 347h1V348H4zM5 75h1V76H5zM5 118h1V119H5zM5 131h1V132H5zM5 184h1V185H5zM5 209h1V210H5zM5 216h1V217H5zM5 235h1V236H5zM5 272h1V273H5zM5 290h1V291H5zM5 303h1V304H5zM6 53h1V54H6zM6 77h1V78H6zM6 83h1V84H6zM6 96h1V97H6zM6 101h1V102H6zM6 113h1V114H6zM6 145h1V146H6zM6 157h1V158H6zM6 160h1V161H6zM6 184h1V185H6zM6 190h1V191H6zM6 209h1V210H6zM6 243h1V244H6zM6 247h1V248H6zM6 266h1V267H6zM6 271h1V272H6zM6 288h1V289H6zM6 299h1V300H6zM6 303h1V304H6zM6 308h1V309H6zM6 312h1V313H6zM6 332h1V333H6zM6 343h1V344H6zM7 10h1V11H7zM7 52h1V53H7zM7 70h1V71H7zM7 79h1V80H7zM7 102h1V103H7zM7 109h1V110H7zM7 187h1V188H7zM7 190h1V191H7zM7 220h1V221H7zM7 222h1V223H7zM7 257h1V258H7zM7 260h1V261H7zM7 288h1V289H7zM7 307h1V308H7zM7 339h1V341H7zM7 343h1V344H7zM8 24h1V25H8zM8 29h1V30H8zM8 37h1V38H8zM8 47h1V48H8zM8 58h1V59H8zM8 63h1V65H8zM8 89h1V90H8zM8 115h1V116H8zM8 132h1V133H8zM8 149h1V150H8zM8 155h1V156H8zM8 171h1V172H8zM8 198h1V199H8zM8 232h1V233H8zM8 256h1V257H8zM8 259h1V260H8zM8 279h1V280H8zM8 286h1V287H8zM8 316h1V317H8zM8 319h1V320H8zM8 321h1V322H8zM8 323h1V324H8zM8 343h1V344H8zM8 346h1V347H8zM8 348h1V350H8zM9 3h1V4H9zM9 9h1V10H9zM9 19h1V20H9zM9 31h1V32H9zM9 55h1V56H9zM9 82h1V83H9zM9 117h1V118H9zM9 139h1V140H9zM9 182h1V183H9zM9 188h1V189H9zM9 202h1V203H9zM9 232h1V233H9zM9 246h1V247H9zM9 255h1V256H9zM9 277h1V278H9zM9 304h1V305H9zM10 11h1V12H10zM10 26h1V28H10zM10 76h1V77H10zM10 82h1V83H10zM10 114h1V115H10zM10 130h1V131H10zM10 138h1V139H10zM10 151h1V152H10zM10 161h1V162H10zM10 179h1V180H10zM10 191h1V192H10zM10 197h1V199H10zM10 247h1V248H10zM10 253h1V254H10zM10 279h1V280H10zM10 288h1V289H10zM10 308h1V309H10zM10 323h1V324H10zM10 325h1V326H10zM10 339h1V340H10zM10 343h1V344H10zM10 345h1V346H10zM11 4h1V5H11zM11 18h1V19H11zM11 22h1V23H11zM11 29h1V30H11zM11 57h1V58H11zM11 90h1V91H11zM11 97h1V98H11zM11 101h1V102H11zM11 112h1V113H11zM11 182h1V183H11zM11 207h1V208H11zM11 243h1V244H11zM11 271h1V272H11zM11 297h1V298H11zM11 300h1V302H11zM11 342h1V343H11zM12 2h1V4H12zM12 5h1V6H12zM12 9h1V10H12zM12 18h1V19H12zM12 52h1V53H12zM12 89h1V90H12zM12 97h1V98H12zM12 100h1V101H12zM12 159h1V160H12zM12 166h1V167H12zM12 192h1V193H12zM12 213h1V214H12zM12 249h1V250H12zM12 272h1V273H12zM12 275h1V276H12zM12 314h1V315H12zM12 331h1V332H12zM12 338h1V339H12zM12 344h1V345H12zM13 18h1V19H13zM13 32h1V33H13zM13 41h1V42H13zM13 60h1V61H13zM13 118h1V119H13zM13 139h1V140H13zM13 164h1V165H13zM13 168h1V169H13zM13 190h1V191H13zM13 213h1V214H13zM13 222h1V223H13zM13 238h1V239H13zM13 253h1V254H13zM13 271h1V272H13zM13 284h1V285H13zM13 286h1V287H13zM13 293h1V294H13zM13 300h1V301H13zM13 304h1V305H13zM13 306h1V307H13zM13 308h1V309H13zM13 323h1V324H13zM13 326h1V327H13zM13 330h1V331H13z"/>
<path fill="rgb(252,150,95)" d="M0 300h1V301H0zM1 5h1V6H1zM1 28h1V30H1zM1 43h1V44H1zM1 67h1V68H1zM1 89h1V90H1zM1 124h1V126H1zM1 134h1V136H1zM1 139h1V140H1zM1 150h1V151H1zM1 152h1V153H1zM1 183h1V184H1zM1 212h1V213H1zM1 238h1V239H1zM1 249h1V250H1zM1 285h1V286H1zM1 295h1V296H1zM1 305h1V306H1zM1 338h1V339H1zM2 40h1V41H2zM2 151h1V152H2zM2 239h1V240H2zM2 349h1V350H2zM3 31h1V32H3zM3 57h1V58H3zM3 148h1V149H3zM3 150h1V152H3zM3 155h1V156H3zM3 197h1V198H3zM3 209h1V210H3zM3 244h1V245H3zM4 11h1V12H4zM4 24h1V25H4zM4 200h1V201H4zM4 242h1V243H4zM4 279h1V280H4zM4 301h1V302H4zM5 45h1V46H5zM5 85h1V86H5zM5 123h1V124H5zM5 148h1V149H5zM5 265h1V266H5zM5 277h1V278H5zM5 304h1V305H5zM6 5h1V6H6zM6 23h1V24H6zM6 31h1V32H6zM6 40h1V41H6zM6 42h1V43H6zM6 70h1V71H6zM6 122h1V123H6zM6 140h1V141H6zM6 147h1V148H6zM6 203h1V204H6zM6 207h1V208H6zM6 214h1V215H6zM6 223h1V224H6zM6 234h1V235H6zM6 242h1V243H6zM6 248h1V249H6zM6 260h1V261H6zM6 267h1V268H6zM6 272h1V273H6zM6 320h1V321H6zM6 338h1V339H6zM6 347h1V348H6zM7 2h1V3H7zM7 43h1V44H7zM7 55h1V56H7zM7 58h1V59H7zM7 69h1V70H7zM7 108h1V109H7zM7 144h1V145H7zM7 150h1V151H7zM7 153h1V154H7zM7 164h1V165H7zM7 232h1V233H7zM7 235h1V236H7zM7 248h1V249H7zM7 325h1V326H7zM8 0h1V2H8zM8 5h1V6H8zM8 11h1V12H8zM8 14h1V15H8zM8 16h1V17H8zM8 43h1V44H8zM8 75h1V77H8zM8 79h1V80H8zM8 128h1V129H8zM8 130h1V132H8zM8 152h1V153H8zM8 156h1V157H8zM8 170h1V171H8zM8 172h1V174H8zM8 180h1V181H8zM8 189h1V190H8zM8 191h1V192H8zM8 196h1V197H8zM8 208h1V209H8zM8 228h1V229H8zM8 234h1V235H8zM8 240h1V241H8zM8 265h1V266H8zM8 269h1V271H8zM8 272h1V273H8zM8 304h1V305H8zM8 335h1V336H8zM8 339h1V340H8zM8 345h1V346H8zM9 46h1V47H9zM9 75h1V76H9zM9 98h1V99H9zM9 102h1V103H9zM9 186h1V187H9zM9 189h1V190H9zM9 234h1V235H9zM9 253h1V254H9zM9 317h1V318H9zM10 25h1V26H10zM10 43h1V44H10zM10 47h1V48H10zM10 55h1V56H10zM10 117h1V118H10zM10 164h1V165H10zM10 238h1V240H10zM10 299h1V300H10zM10 309h1V310H10zM10 342h1V343H10zM11 72h1V73H11zM11 74h1V75H11zM11 82h1V83H11zM11 139h1V140H11zM11 141h1V142H11zM11 158h1V159H11zM11 213h1V214H11zM11 228h1V229H11zM11 242h1V243H11zM11 248h1V250H11zM11 269h1V270H11zM12 25h1V26H12zM12 116h1V117H12zM12 144h1V145H12zM12 149h1V150H12zM12 182h1V183H12zM12 186h1V187H12zM12 201h1V202H12zM12 207h1V208H12zM12 222h1V223H12zM12 239h1V240H12zM12 242h1V243H12zM12 300h1V301H12zM12 348h1V349H12zM13 6h1V7H13zM13 9h1V10H13zM13 13h1V14H13zM13 31h1V32H13zM13 54h1V55H13zM13 69h1V70H13zM13 80h1V81H13zM13 82h1V83H13zM13 105h1V106H13zM13 112h1V113H13zM13 116h1V117H13zM13 158h1V159H13zM13 186h1V187H13zM13 196h1V197H13zM13 217h1V218H13zM13 219h1V220H13zM13 234h1V235H13zM13 255h1V256H13zM13 290h1V291H13zM13 301h1V302H13zM13 310h1V311H13z"/>
<path fill="rgb(248,131,83)" d="M1 3h1V4H1zM1 7h1V8H1zM1 11h1V12H1zM1 17h1V18H1zM1 55h1V56H1zM1 73h1V74H1zM1 95h1V96H1zM1 97h1V98H1zM1 147h1V148H1zM1 161h1V162H1zM1 177h1V178H1zM1 198h1V199H1zM1 222h1V223H1zM1 232h1V233H1zM1 239h1V240H1zM1 241h1V242H1zM1 257h1V258H1zM1 290h1V291H1zM1 300h1V301H1zM1 318h1V319H1zM1 327h1V328H1zM1 329h1V330H1zM1 331h1V332H1zM1 346h1V347H1zM2 2h1V3H2zM2 14h1V15H2zM2 50h1V51H2zM2 88h1V89H2zM2 117h1V118H2zM2 155h1V156H2zM2 189h1V190H2zM3 262h1V263H3zM4 31h1V32H4zM4 159h1V160H4zM4 180h1V181H4zM5 92h1V93H5zM5 189h1V190H5zM5 305h1V306H5zM6 46h1V47H6zM6 55h1V56H6zM6 94h1V95H6zM6 123h1V124H6zM6 154h1V155H6zM6 156h1V157H6zM6 174h1V175H6zM6 178h1V179H6zM6 189h1V190H6zM6 289h1V291H6zM6 296h1V297H6zM6 302h1V303H6zM6 340h1V341H6zM6 342h1V343H6zM7 46h1V47H7zM7 64h1V65H7zM7 121h1V122H7zM7 124h1V125H7zM7 132h1V133H7zM7 151h1V152H7zM7 252h1V253H7zM7 254h1V255H7zM7 269h1V270H7zM7 301h1V302H7zM7 313h1V314H7zM8 12h1V13H8zM8 17h1V18H8zM8 39h1V40H8zM8 71h1V72H8zM8 73h1V74H8zM8 84h1V85H8zM8 118h1V119H8zM8 137h1V138H8zM8 144h1V145H8zM8 168h1V169H8zM8 184h1V185H8zM8 202h1V203H8zM8 241h1V242H8zM8 257h1V258H8zM8 293h1V294H8zM8 314h1V315H8zM8 322h1V323H8zM8 333h1V335H8zM9 14h1V15H9zM9 157h1V158H9zM9 265h1V266H9zM10 9h1V10H10zM10 30h1V31H10zM10 46h1V47H10zM10 56h1V57H10zM10 94h1V95H10zM10 152h1V153H10zM10 183h1V184H10zM10 213h1V214H10zM10 269h1V270H10zM10 301h1V302H10zM10 305h1V306H10zM11 144h1V145H11zM11 176h1V177H11zM11 187h1V188H11zM11 238h1V239H11zM11 255h1V256H11zM11 272h1V273H11zM12 34h1V35H12zM12 47h1V49H12zM12 195h1V196H12zM12 204h1V205H12zM12 228h1V229H12zM12 255h1V256H12zM12 263h1V264H12zM12 267h1V268H12zM12 269h1V270H12zM12 290h1V291H12zM12 293h1V294H12zM12 325h1V326H12zM12 334h1V335H12zM12 336h1V337H12zM13 28h1V29H13zM13 117h1V118H13zM13 130h1V131H13zM13 152h1V153H13zM13 223h1V224H13zM13 228h1V229H13zM13 268h1V270H13zM13 311h1V312H13zM13 327h1V328H13zM13 334h1V335H13z"/>
<path fill="rgb(240,110,72)" d="M1 0h1V1H1zM1 44h1V45H1zM1 49h1V50H1zM1 96h1V97H1zM1 100h1V101H1zM1 111h1V113H1zM1 168h1V169H1zM1 243h1V244H1zM1 261h1V262H1zM1 263h1V264H1zM1 347h1V348H1zM3 58h1V59H3zM3 82h1V83H3zM3 117h1V118H3zM3 238h1V239H3zM3 241h1V242H3zM3 345h1V346H3zM5 14h1V15H5zM5 50h1V51H5zM5 141h1V142H5zM5 170h1V171H5zM5 192h1V193H5zM6 10h1V11H6zM6 14h1V15H6zM6 39h1V40H6zM6 45h1V46H6zM6 59h1V60H6zM6 71h1V72H6zM6 85h1V87H6zM6 135h1V136H6zM6 148h1V149H6zM6 221h1V222H6zM6 269h1V270H6zM6 293h1V294H6zM6 305h1V306H6zM6 334h1V335H6zM7 12h1V13H7zM7 249h1V250H7zM7 299h1V300H7zM7 328h1V329H7zM8 34h1V35H8zM8 40h1V41H8zM8 44h1V45H8zM8 46h1V47H8zM8 80h1V81H8zM8 90h1V91H8zM8 97h1V98H8zM8 105h1V106H8zM8 111h1V112H8zM8 126h1V127H8zM8 145h1V146H8zM8 151h1V152H8zM8 186h1V187H8zM8 194h1V195H8zM8 197h1V198H8zM8 203h1V204H8zM8 210h1V211H8zM8 251h1V252H8zM8 255h1V256H8zM8 262h1V263H8zM8 287h1V289H8zM8 305h1V306H8zM9 68h1V69H9zM10 14h1V15H10zM10 41h1V42H10zM10 97h1V98H10zM10 108h1V109H10zM10 216h1V217H10zM10 259h1V260H10zM10 271h1V272H10zM11 189h1V190H11zM12 4h1V5H12zM12 41h1V42H12zM12 288h1V289H12zM13 15h1V16H13zM13 100h1V101H13zM13 125h1V126H13zM13 243h1V244H13zM13 260h1V261H13zM13 299h1V300H13z"/>
<path fill="rgb(231,89,61)" d="M1 46h1V47H1zM1 80h1V81H1zM1 86h1V87H1zM1 110h1V111H1zM1 121h1V122H1zM1 221h1V222H1zM1 259h1V260H1zM1 272h1V273H1zM1 336h1V337H1zM3 75h1V76H3zM3 120h1V121H3zM5 249h1V250H5zM6 151h1V152H6zM6 295h1V296H6zM6 333h1V334H6zM7 80h1V81H7zM7 82h1V83H7zM7 105h1V106H7zM7 166h1V167H7zM7 207h1V208H7zM7 255h1V256H7zM8 25h1V26H8zM8 96h1V97H8zM8 100h1V102H8zM8 117h1V118H8zM8 165h1V166H8zM8 179h1V180H8zM8 188h1V189H8zM8 193h1V194H8zM8 239h1V240H8zM8 299h1V300H8zM8 302h1V303H8zM8 308h1V309H8zM10 23h1V24H10zM10 79h1V80H10zM10 186h1V187H10zM11 12h1V13H11zM11 89h1V90H11zM12 115h1V116H12zM12 151h1V152H12zM13 14h1V15H13zM13 26h1V27H13zM13 76h1V77H13zM13 198h1V199H13z"/>
<path fill="rgb(223,69,50)" d="M1 57h1V58H1zM1 88h1V89H1zM1 107h1V108H1zM1 173h1V174H1zM1 187h1V188H1zM1 190h1V191H1zM1 215h1V216H1zM1 270h1V271H1zM1 281h1V282H1zM1 301h1V302H1zM2 213h1V214H2zM4 43h1V44H4zM6 108h1V109H6zM6 132h1V133H6zM6 300h1V301H6zM6 330h1V331H6zM7 168h1V169H7zM7 319h1V320H7zM8 10h1V11H8zM8 82h1V83H8zM8 112h1V113H8zM8 150h1V151H8zM8 158h1V159H8zM8 211h1V212H8zM8 216h1V217H8zM8 252h1V253H8zM8 260h1V261H8zM11 145h1V146H11zM12 75h1V76H12zM12 123h1V124H12zM13 57h1V58H13z"/>
<path fill="rgb(215,48,39)" d="M1 2h1V3H1zM1 14h1V15H1zM1 31h1V32H1zM1 42h1V43H1zM1 61h1V62H1zM1 70h1V72H1zM1 75h1V76H1zM1 78h1V79H1zM1 130h1V131H1zM1 159h1V160H1zM1 170h1V171H1zM1 178h1V179H1zM1 189h1V190H1zM1 216h1V217H1zM1 219h1V220H1zM1 228h1V229H1zM1 253h1V254H1zM1 258h1V259H1zM1 322h1V323H1zM1 325h1V326H1zM1 348h1V349H1zM3 300h1V301H3zM6 197h1V198H6zM6 322h1V323H6zM7 259h1V260H7zM7 270h1V271H7zM8 6h1V7H8zM8 74h1V75H8zM8 108h1V109H8zM8 123h1V124H8zM8 159h1V160H8zM8 238h1V239H8zM8 254h1V255H8zM10 254h1V255H10zM13 58h1V59H13zM13 79h1V80H13zM13 187h1V188H13zM13 313h1V314H13z"/>
</g>
<g transform="translate(1651.80,307.90) scale(41.8400,1.50171)" shape-rendering="crispEdges">
<path fill="rgb(69,117,180)" d="M0 69h1V70H0zM0 158h1V159H0zM0 191h1V192H0zM0 197h1V198H0zM0 205h1V206H0zM0 227h1V228H0zM0 293h1V294H0zM0 296h1V297H0zM0 349h1V350H0zM1 0h1V1H1zM1 2h1V17H1zM1 18h1V28H1zM1 29h1V45H1zM1 46h1V114H1zM1 115h1V133H1zM1 134h1V139H1zM1 140h1V159H1zM1 160h1V161H1zM1 163h1V172H1zM1 173h1V174H1zM1 175h1V177H1zM1 178h1V185H1zM1 186h1V194H1zM1 195h1V199H1zM1 200h1V224H1zM1 226h1V238H1zM1 239h1V242H1zM1 243h1V261H1zM1 262h1V294H1zM1 295h1V306H1zM1 307h1V346H1zM1 347h1V350H1zM3 32h1V33H3zM3 38h1V39H3zM3 41h1V42H3zM3 61h1V62H3zM3 64h1V65H3zM3 89h1V90H3zM3 114h1V116H3zM3 138h1V140H3zM3 142h1V144H3zM3 145h1V146H3zM3 172h1V173H3zM3 179h1V180H3zM3 192h1V193H3zM3 197h1V199H3zM3 208h1V209H3zM3 213h1V214H3zM3 217h1V218H3zM3 244h1V245H3zM3 254h1V255H3zM3 256h1V257H3zM3 262h1V263H3zM3 268h1V269H3zM3 270h1V271H3zM3 277h1V278H3zM3 306h1V307H3zM3 311h1V312H3zM3 319h1V320H3zM3 324h1V325H3zM4 104h1V105H4zM4 134h1V135H4zM4 201h1V202H4zM4 304h1V305H4z"/>
<path fill="rgb(86,133,189)" d="M0 21h1V22H0zM0 34h1V35H0zM0 325h1V326H0zM1 1h1V2H1zM1 17h1V18H1zM1 28h1V29H1zM1 45h1V46H1zM1 114h1V115H1zM1 133h1V134H1zM1 139h1V140H1zM1 159h1V160H1zM1 161h1V163H1zM1 172h1V173H1zM1 174h1V175H1zM1 177h1V178H1zM1 185h1V186H1zM1 194h1V195H1zM1 199h1V200H1zM1 224h1V226H1zM1 238h1V239H1zM1 242h1V243H1zM1 261h1V262H1zM1 294h1V295H1zM1 306h1V307H1zM1 346h1V347H1zM3 4h1V5H3zM3 9h1V10H3zM3 19h1V20H3zM3 28h1V29H3zM3 42h1V43H3zM3 49h1V51H3zM3 58h1V59H3zM3 74h1V75H3zM3 110h1V111H3zM3 116h1V117H3zM3 133h1V134H3zM3 141h1V142H3zM3 164h1V165H3zM3 189h1V190H3zM3 206h1V207H3zM3 228h1V229H3zM3 232h1V233H3zM3 264h1V265H3zM3 290h1V291H3zM3 305h1V306H3zM3 325h1V329H3zM4 129h1V130H4zM4 164h1V165H4zM4 181h1V182H4zM4 197h1V198H4zM4 345h1V346H4z"/>
<path fill="rgb(103,150,197)" d="M0 48h1V49H0zM0 74h1V75H0zM0 120h1V121H0zM0 129h1V130H0zM0 175h1V176H0zM0 198h1V199H0zM0 206h1V207H0zM0 243h1V244H0zM0 304h1V305H0zM3 16h1V17H3zM3 29h1V30H3zM3 34h1V35H3zM3 37h1V38H3zM3 39h1V41H3zM3 104h1V105H3zM3 113h1V114H3zM3 140h1V141H3zM3 149h1V151H3zM3 152h1V153H3zM3 166h1V167H3zM3 188h1V189H3zM3 193h1V195H3zM3 211h1V212H3zM3 218h1V219H3zM3 223h1V224H3zM3 257h1V258H3zM3 283h1V284H3zM3 300h1V301H3zM3 346h1V347H3zM4 97h1V98H4zM4 186h1V187H4z"/>
<path fill="rgb(120,166,206)" d="M0 23h1V24H0zM0 41h1V42H0zM0 61h1V62H0zM0 65h1V67H0zM0 107h1V108H0zM0 140h1V141H0zM0 145h1V146H0zM0 160h1V161H0zM0 170h1V171H0zM0 196h1V197H0zM0 245h1V246H0zM0 271h1V272H0zM0 273h1V274H0zM0 284h1V285H0zM0 313h1V314H0zM0 340h1V341H0zM3 6h1V8H3zM3 11h1V13H3zM3 24h1V26H3zM3 31h1V32H3zM3 59h1V60H3zM3 69h1V70H3zM3 73h1V74H3zM3 79h1V80H3zM3 86h1V87H3zM3 98h1V99H3zM3 127h1V128H3zM3 132h1V133H3zM3 134h1V135H3zM3 146h1V147H3zM3 168h1V169H3zM3 183h1V184H3zM3 186h1V187H3zM3 207h1V208H3zM3 212h1V213H3zM3 243h1V244H3zM3 255h1V256H3zM3 261h1V262H3zM3 272h1V273H3zM3 278h1V279H3zM3 295h1V296H3zM3 298h1V299H3zM3 310h1V311H3zM3 313h1V315H3zM3 321h1V322H3zM3 339h1V340H3zM3 344h1V346H3zM4 31h1V32H4zM4 40h1V41H4zM4 85h1V86H4zM4 99h1V100H4zM4 137h1V138H4zM4 160h1V161H4zM4 248h1V249H4zM4 260h1V261H4zM4 303h1V304H4z"/>
<path fill="rgb(137,183,215)" d="M0 5h1V6H0zM0 8h1V9H0zM0 33h1V34H0zM0 39h1V40H0zM0 76h1V77H0zM0 84h1V85H0zM0 88h1V89H0zM0 112h1V113H0zM0 146h1V147H0zM0 169h1V170H0zM0 186h1V187H0zM0 208h1V209H0zM0 226h1V227H0zM0 230h1V231H0zM0 242h1V243H0zM0 249h1V250H0zM0 260h1V262H0zM0 265h1V266H0zM0 276h1V277H0zM0 283h1V284H0zM0 309h1V310H0zM0 311h1V312H0zM0 316h1V317H0zM0 324h1V325H0zM3 0h1V1H3zM3 21h1V22H3zM3 35h1V36H3zM3 56h1V57H3zM3 70h1V73H3zM3 76h1V77H3zM3 96h1V97H3zM3 112h1V113H3zM3 126h1V127H3zM3 129h1V130H3zM3 151h1V152H3zM3 153h1V154H3zM3 162h1V163H3zM3 170h1V171H3zM3 173h1V175H3zM3 177h1V178H3zM3 181h1V182H3zM3 199h1V200H3zM3 203h1V204H3zM3 222h1V223H3zM3 225h1V227H3zM3 229h1V230H3zM3 247h1V249H3zM3 259h1V260H3zM3 273h1V274H3zM3 291h1V292H3zM3 301h1V302H3zM3 304h1V305H3zM3 315h1V316H3zM3 336h1V337H3zM3 340h1V341H3zM3 343h1V344H3zM4 10h1V12H4zM4 21h1V22H4zM4 23h1V24H4zM4 25h1V26H4zM4 32h1V33H4zM4 43h1V44H4zM4 103h1V104H4zM4 114h1V115H4zM4 118h1V119H4zM4 153h1V154H4zM4 159h1V160H4zM4 169h1V170H4zM4 176h1V177H4zM4 185h1V186H4zM4 230h1V231H4zM4 272h1V273H4zM4 287h1V288H4zM4 290h1V291H4zM4 299h1V300H4zM4 311h1V312H4zM4 319h1V320H4zM4 325h1V326H4zM4 343h1V344H4z"/>
<path fill="rgb(154,197,222)" d="M0 1h1V2H0zM0 6h1V7H0zM0 11h1V12H0zM0 25h1V26H0zM0 28h1V29H0zM0 36h1V37H0zM0 43h1V44H0zM0 67h1V68H0zM0 92h1V93H0zM0 100h1V101H0zM0 150h1V151H0zM0 152h1V153H0zM0 159h1V160H0zM0 166h1V167H0zM0 168h1V169H0zM0 171h1V172H0zM0 174h1V175H0zM0 188h1V189H0zM0 193h1V194H0zM0 201h1V202H0zM0 211h1V212H0zM0 213h1V214H0zM0 221h1V222H0zM0 232h1V233H0zM0 237h1V238H0zM0 246h1V247H0zM0 267h1V268H0zM0 295h1V296H0zM0 310h1V311H0zM0 321h1V322H0zM0 342h1V343H0zM2 151h1V152H2zM2 199h1V200H2zM2 300h1V301H2zM3 33h1V34H3zM3 51h1V52H3zM3 65h1V66H3zM3 77h1V78H3zM3 95h1V96H3zM3 102h1V103H3zM3 107h1V108H3zM3 120h1V121H3zM3 125h1V126H3zM3 155h1V157H3zM3 234h1V235H3zM3 240h1V241H3zM3 250h1V251H3zM3 252h1V253H3zM3 275h1V276H3zM3 288h1V289H3zM3 296h1V297H3zM3 318h1V319H3zM3 329h1V330H3zM3 332h1V333H3zM3 337h1V338H3zM3 348h1V349H3zM4 33h1V34H4zM4 57h1V58H4zM4 65h1V66H4zM4 69h1V70H4zM4 73h1V74H4zM4 80h1V81H4zM4 100h1V101H4zM4 126h1V127H4zM4 131h1V132H4zM4 133h1V134H4zM4 140h1V141H4zM4 148h1V150H4zM4 188h1V189H4zM4 199h1V200H4zM4 208h1V209H4zM4 224h1V225H4zM4 310h1V311H4zM4 326h1V327H4z"/>
<path fill="rgb(171,208,229)" d="M0 20h1V21H0zM0 27h1V28H0zM0 30h1V31H0zM0 49h1V50H0zM0 51h1V52H0zM0 54h1V56H0zM0 82h1V83H0zM0 89h1V90H0zM0 109h1V110H0zM0 111h1V112H0zM0 115h1V117H0zM0 119h1V120H0zM0 130h1V131H0zM0 133h1V134H0zM0 139h1V140H0zM0 143h1V144H0zM0 153h1V154H0zM0 156h1V157H0zM0 184h1V185H0zM0 199h1V200H0zM0 212h1V213H0zM0 219h1V220H0zM0 224h1V225H0zM0 247h1V248H0zM0 254h1V255H0zM0 274h1V275H0zM0 280h1V281H0zM0 298h1V299H0zM0 318h1V319H0zM0 341h1V342H0zM0 347h1V348H0zM2 115h1V116H2zM2 197h1V198H2zM2 223h1V224H2zM2 324h1V325H2zM2 335h1V336H2zM2 340h1V341H2zM2 348h1V349H2zM3 8h1V9H3zM3 18h1V19H3zM3 20h1V21H3zM3 46h1V47H3zM3 48h1V49H3zM3 55h1V56H3zM3 91h1V92H3zM3 105h1V106H3zM3 108h1V109H3zM3 117h1V118H3zM3 121h1V122H3zM3 124h1V125H3zM3 144h1V145H3zM3 147h1V148H3zM3 157h1V158H3zM3 159h1V160H3zM3 165h1V166H3zM3 178h1V179H3zM3 180h1V181H3zM3 195h1V197H3zM3 215h1V216H3zM3 221h1V222H3zM3 230h1V231H3zM3 246h1V247H3zM3 287h1V288H3zM3 302h1V303H3zM3 316h1V317H3zM3 323h1V324H3zM3 333h1V334H3zM4 8h1V9H4zM4 20h1V21H4zM4 22h1V23H4zM4 41h1V43H4zM4 48h1V49H4zM4 51h1V52H4zM4 70h1V72H4zM4 84h1V85H4zM4 102h1V103H4zM4 145h1V146H4zM4 151h1V153H4zM4 156h1V157H4zM4 165h1V166H4zM4 194h1V195H4zM4 215h1V216H4zM4 219h1V220H4zM4 223h1V224H4zM4 241h1V242H4zM4 247h1V248H4zM4 253h1V254H4zM4 261h1V262H4zM4 264h1V265H4zM4 277h1V278H4zM4 298h1V299H4zM4 305h1V306H4zM4 316h1V317H4zM4 322h1V323H4zM4 324h1V325H4zM4 328h1V329H4zM4 330h1V331H4zM4 334h1V335H4zM4 340h1V341H4z"/>
<path fill="rgb(189,220,235)" d="M0 15h1V16H0zM0 26h1V27H0zM0 32h1V33H0zM0 45h1V46H0zM0 53h1V54H0zM0 63h1V64H0zM0 68h1V69H0zM0 71h1V72H0zM0 73h1V74H0zM0 77h1V78H0zM0 80h1V81H0zM0 122h1V123H0zM0 124h1V126H0zM0 142h1V143H0zM0 157h1V158H0zM0 180h1V181H0zM0 190h1V191H0zM0 192h1V193H0zM0 215h1V216H0zM0 222h1V223H0zM0 233h1V234H0zM0 257h1V258H0zM0 308h1V309H0zM0 319h1V320H0zM0 322h1V323H0zM0 339h1V340H0zM0 344h1V345H0zM2 14h1V15H2zM2 21h1V22H2zM2 43h1V44H2zM2 68h1V69H2zM2 125h1V126H2zM2 127h1V128H2zM2 170h1V171H2zM2 234h1V235H2zM2 243h1V244H2zM2 283h1V284H2zM2 299h1V300H2zM2 325h1V326H2zM3 22h1V24H3zM3 36h1V37H3zM3 47h1V48H3zM3 57h1V58H3zM3 83h1V84H3zM3 119h1V120H3zM3 123h1V124H3zM3 128h1V129H3zM3 136h1V138H3zM3 169h1V170H3zM3 184h1V186H3zM3 202h1V203H3zM3 209h1V211H3zM3 224h1V225H3zM3 265h1V266H3zM3 269h1V270H3zM3 271h1V272H3zM3 280h1V281H3zM3 293h1V294H3zM3 330h1V331H3zM3 334h1V335H3zM3 341h1V342H3zM4 0h1V1H4zM4 5h1V6H4zM4 7h1V8H4zM4 19h1V20H4zM4 53h1V54H4zM4 58h1V59H4zM4 78h1V79H4zM4 120h1V121H4zM4 127h1V128H4zM4 141h1V142H4zM4 143h1V144H4zM4 174h1V175H4zM4 180h1V181H4zM4 195h1V196H4zM4 246h1V247H4zM4 256h1V258H4zM4 262h1V263H4zM4 281h1V282H4zM4 283h1V285H4zM4 293h1V294H4zM4 307h1V308H4zM4 333h1V334H4zM4 336h1V337H4z"/>
<path fill="rgb(206,231,242)" d="M0 4h1V5H0zM0 9h1V10H0zM0 17h1V18H0zM0 22h1V23H0zM0 35h1V36H0zM0 38h1V39H0zM0 44h1V45H0zM0 59h1V61H0zM0 85h1V87H0zM0 95h1V96H0zM0 98h1V99H0zM0 102h1V103H0zM0 105h1V106H0zM0 108h1V109H0zM0 113h1V114H0zM0 121h1V122H0zM0 134h1V135H0zM0 136h1V137H0zM0 138h1V139H0zM0 148h1V149H0zM0 161h1V165H0zM0 172h1V173H0zM0 200h1V201H0zM0 207h1V208H0zM0 218h1V219H0zM0 229h1V230H0zM0 231h1V232H0zM0 235h1V236H0zM0 251h1V252H0zM0 253h1V254H0zM0 259h1V260H0zM0 269h1V271H0zM0 275h1V276H0zM0 277h1V279H0zM0 281h1V283H0zM0 288h1V289H0zM0 290h1V291H0zM0 299h1V300H0zM0 307h1V308H0zM0 312h1V313H0zM0 315h1V316H0zM0 317h1V318H0zM0 323h1V324H0zM0 336h1V337H0zM0 338h1V339H0zM2 74h1V75H2zM2 129h1V130H2zM2 134h1V135H2zM2 164h1V165H2zM2 167h1V168H2zM2 172h1V173H2zM2 200h1V201H2zM2 227h1V228H2zM2 229h1V230H2zM2 266h1V267H2zM2 277h1V278H2zM2 288h1V289H2zM3 5h1V6H3zM3 10h1V11H3zM3 14h1V16H3zM3 17h1V18H3zM3 26h1V27H3zM3 44h1V46H3zM3 53h1V54H3zM3 62h1V63H3zM3 66h1V67H3zM3 80h1V81H3zM3 82h1V83H3zM3 84h1V85H3zM3 97h1V98H3zM3 106h1V107H3zM3 118h1V119H3zM3 135h1V136H3zM3 160h1V161H3zM3 163h1V164H3zM3 171h1V172H3zM3 187h1V188H3zM3 190h1V192H3zM3 227h1V228H3zM3 245h1V246H3zM3 249h1V250H3zM3 251h1V252H3zM3 260h1V261H3zM3 263h1V264H3zM3 282h1V283H3zM3 292h1V293H3zM3 312h1V313H3zM4 13h1V14H4zM4 44h1V45H4zM4 62h1V63H4zM4 66h1V67H4zM4 76h1V77H4zM4 87h1V89H4zM4 106h1V107H4zM4 115h1V116H4zM4 121h1V122H4zM4 138h1V139H4zM4 144h1V145H4zM4 166h1V167H4zM4 171h1V172H4zM4 203h1V204H4zM4 207h1V208H4zM4 231h1V233H4zM4 237h1V238H4zM4 251h1V252H4zM4 258h1V260H4zM4 268h1V269H4zM4 270h1V271H4zM4 273h1V274H4zM4 276h1V277H4zM4 280h1V281H4zM4 285h1V286H4zM4 312h1V313H4zM4 315h1V316H4zM4 327h1V328H4zM4 332h1V333H4zM4 341h1V343H4zM4 348h1V349H4z"/>
<path fill="rgb(224,243,248)" d="M0 10h1V11H0zM0 13h1V14H0zM0 40h1V41H0zM0 47h1V48H0zM0 50h1V51H0zM0 78h1V79H0zM0 83h1V84H0zM0 97h1V98H0zM0 99h1V100H0zM0 101h1V102H0zM0 106h1V107H0zM0 118h1V119H0zM0 127h1V128H0zM0 132h1V133H0zM0 137h1V138H0zM0 149h1V150H0zM0 179h1V180H0zM0 194h1V195H0zM0 209h1V210H0zM0 216h1V217H0zM0 225h1V226H0zM0 250h1V251H0zM0 255h1V257H0zM0 263h1V264H0zM0 272h1V273H0zM0 286h1V287H0zM0 292h1V293H0zM0 328h1V329H0zM0 330h1V331H0zM0 334h1V335H0zM0 337h1V338H0zM0 346h1V347H0zM2 104h1V105H2zM2 116h1V117H2zM2 171h1V172H2zM2 191h1V192H2zM2 241h1V242H2zM2 270h1V271H2zM2 272h1V273H2zM2 280h1V281H2zM2 284h1V286H2zM2 309h1V310H2zM2 322h1V323H2zM2 331h1V332H2zM2 339h1V340H2zM3 1h1V2H3zM3 3h1V4H3zM3 54h1V55H3zM3 60h1V61H3zM3 200h1V202H3zM3 205h1V206H3zM3 219h1V220H3zM3 237h1V238H3zM3 239h1V240H3zM3 241h1V242H3zM3 253h1V254H3zM3 266h1V268H3zM3 284h1V285H3zM3 286h1V287H3zM3 299h1V300H3zM3 349h1V350H3zM4 1h1V2H4zM4 14h1V15H4zM4 29h1V31H4zM4 37h1V38H4zM4 46h1V47H4zM4 52h1V53H4zM4 54h1V56H4zM4 64h1V65H4zM4 86h1V87H4zM4 89h1V90H4zM4 96h1V97H4zM4 105h1V106H4zM4 110h1V111H4zM4 113h1V114H4zM4 116h1V117H4zM4 124h1V125H4zM4 139h1V140H4zM4 146h1V147H4zM4 178h1V179H4zM4 189h1V190H4zM4 191h1V193H4zM4 204h1V206H4zM4 213h1V214H4zM4 225h1V226H4zM4 233h1V234H4zM4 236h1V237H4zM4 245h1V246H4zM4 279h1V280H4zM4 286h1V287H4z"/>
<path fill="rgb(231,246,235)" d="M0 14h1V15H0zM0 37h1V38H0zM0 42h1V43H0zM0 52h1V53H0zM0 62h1V63H0zM0 64h1V65H0zM0 79h1V80H0zM0 81h1V82H0zM0 90h1V91H0zM0 93h1V95H0zM0 126h1V127H0zM0 147h1V148H0zM0 154h1V155H0zM0 173h1V174H0zM0 178h1V179H0zM0 203h1V204H0zM0 241h1V242H0zM0 252h1V253H0zM0 264h1V265H0zM0 268h1V269H0zM0 289h1V290H0zM0 306h1V307H0zM0 327h1V328H0zM0 329h1V330H0zM0 332h1V334H0zM0 335h1V336H0zM0 345h1V346H0zM0 348h1V349H0zM2 5h1V6H2zM2 8h1V9H2zM2 20h1V21H2zM2 25h1V26H2zM2 37h1V38H2zM2 40h1V42H2zM2 58h1V59H2zM2 62h1V63H2zM2 64h1V65H2zM2 73h1V74H2zM2 80h1V81H2zM2 87h1V88H2zM2 102h1V103H2zM2 130h1V131H2zM2 140h1V141H2zM2 159h1V160H2zM2 166h1V167H2zM2 188h1V189H2zM2 201h1V202H2zM2 207h1V208H2zM2 217h1V218H2zM2 225h1V226H2zM2 232h1V233H2zM2 246h1V247H2zM2 252h1V253H2zM2 294h1V297H2zM2 298h1V299H2zM2 306h1V307H2zM2 310h1V311H2zM2 327h1V328H2zM2 336h1V337H2zM2 345h1V346H2zM3 30h1V31H3zM3 43h1V44H3zM3 52h1V53H3zM3 63h1V64H3zM3 81h1V82H3zM3 90h1V91H3zM3 100h1V101H3zM3 161h1V162H3zM3 233h1V234H3zM3 236h1V237H3zM3 258h1V259H3zM3 322h1V323H3zM3 338h1V339H3zM3 342h1V343H3zM4 3h1V4H4zM4 26h1V27H4zM4 28h1V29H4zM4 38h1V39H4zM4 47h1V48H4zM4 60h1V62H4zM4 63h1V64H4zM4 67h1V68H4zM4 74h1V75H4zM4 82h1V83H4zM4 91h1V92H4zM4 101h1V102H4zM4 107h1V108H4zM4 109h1V110H4zM4 117h1V118H4zM4 142h1V143H4zM4 147h1V148H4zM4 161h1V162H4zM4 170h1V171H4zM4 177h1V178H4zM4 198h1V199H4zM4 212h1V213H4zM4 214h1V215H4zM4 216h1V217H4zM4 218h1V219H4zM4 222h1V223H4zM4 226h1V227H4zM4 235h1V236H4zM4 252h1V253H4zM4 274h1V276H4zM4 288h1V289H4zM4 291h1V293H4zM4 301h1V303H4zM4 314h1V315H4zM4 320h1V321H4zM4 323h1V324H4zM4 344h1V345H4z"/>
<path fill="rgb(238,248,223)" d="M0 0h1V1H0zM0 2h1V4H0zM0 12h1V13H0zM0 31h1V32H0zM0 57h1V59H0zM0 70h1V71H0zM0 87h1V88H0zM0 91h1V92H0zM0 117h1V118H0zM0 123h1V124H0zM0 176h1V177H0zM0 185h1V186H0zM0 189h1V190H0zM0 217h1V218H0zM0 234h1V235H0zM0 236h1V237H0zM0 258h1V259H0zM0 266h1V267H0zM0 285h1V286H0zM0 291h1V292H0zM0 297h1V298H0zM0 302h1V304H0zM0 305h1V306H0zM0 320h1V321H0zM0 326h1V327H0zM2 6h1V7H2zM2 11h1V12H2zM2 19h1V20H2zM2 31h1V32H2zM2 39h1V40H2zM2 66h1V67H2zM2 81h1V82H2zM2 98h1V99H2zM2 106h1V107H2zM2 113h1V115H2zM2 120h1V121H2zM2 136h1V137H2zM2 141h1V142H2zM2 150h1V151H2zM2 152h1V153H2zM2 160h1V161H2zM2 162h1V164H2zM2 174h1V176H2zM2 190h1V191H2zM2 193h1V194H2zM2 206h1V207H2zM2 213h1V214H2zM2 215h1V216H2zM2 218h1V219H2zM2 222h1V223H2zM2 247h1V248H2zM2 262h1V263H2zM2 269h1V270H2zM2 271h1V272H2zM2 278h1V280H2zM2 286h1V287H2zM2 293h1V294H2zM2 304h1V305H2zM2 307h1V308H2zM2 318h1V319H2zM2 329h1V330H2zM2 337h1V338H2zM3 2h1V3H3zM3 27h1V28H3zM3 85h1V86H3zM3 94h1V95H3zM3 148h1V149H3zM3 154h1V155H3zM3 182h1V183H3zM3 214h1V215H3zM3 216h1V217H3zM3 231h1V232H3zM3 238h1V239H3zM3 242h1V243H3zM3 274h1V275H3zM3 276h1V277H3zM3 303h1V304H3zM3 307h1V308H3zM3 335h1V336H3zM4 9h1V10H4zM4 12h1V13H4zM4 17h1V18H4zM4 34h1V35H4zM4 50h1V51H4zM4 56h1V57H4zM4 92h1V94H4zM4 95h1V96H4zM4 111h1V112H4zM4 125h1V126H4zM4 128h1V129H4zM4 135h1V136H4zM4 150h1V151H4zM4 162h1V164H4zM4 167h1V168H4zM4 172h1V174H4zM4 175h1V176H4zM4 179h1V180H4zM4 196h1V197H4zM4 206h1V207H4zM4 209h1V210H4zM4 221h1V222H4zM4 243h1V245H4zM4 269h1V270H4zM4 296h1V297H4zM4 308h1V309H4zM4 317h1V318H4zM4 335h1V336H4zM4 346h1V348H4z"/>
<path fill="rgb(245,251,210)" d="M0 104h1V105H0zM0 114h1V115H0zM0 144h1V145H0zM0 167h1V168H0zM0 181h1V182H0zM0 183h1V184H0zM0 195h1V196H0zM0 202h1V203H0zM0 214h1V215H0zM0 228h1V229H0zM0 244h1V245H0zM0 262h1V263H0zM0 343h1V344H0zM2 4h1V5H2zM2 9h1V10H2zM2 23h1V24H2zM2 27h1V28H2zM2 32h1V33H2zM2 34h1V35H2zM2 36h1V37H2zM2 38h1V39H2zM2 42h1V43H2zM2 69h1V71H2zM2 76h1V78H2zM2 79h1V80H2zM2 89h1V90H2zM2 91h1V92H2zM2 103h1V104H2zM2 110h1V112H2zM2 119h1V120H2zM2 128h1V129H2zM2 137h1V139H2zM2 147h1V150H2zM2 161h1V162H2zM2 177h1V178H2zM2 186h1V187H2zM2 192h1V193H2zM2 195h1V196H2zM2 212h1V213H2zM2 226h1V227H2zM2 237h1V238H2zM2 248h1V249H2zM2 251h1V252H2zM2 255h1V256H2zM2 259h1V261H2zM2 263h1V264H2zM2 273h1V274H2zM2 281h1V282H2zM2 303h1V304H2zM2 319h1V320H2zM2 321h1V322H2zM2 323h1V324H2zM2 343h1V344H2zM2 347h1V348H2zM3 13h1V14H3zM3 67h1V68H3zM3 92h1V93H3zM3 99h1V100H3zM3 122h1V123H3zM3 158h1V159H3zM3 167h1V168H3zM3 220h1V221H3zM3 235h1V236H3zM3 281h1V282H3zM3 285h1V286H3zM3 309h1V310H3zM4 2h1V3H4zM4 15h1V16H4zM4 18h1V19H4zM4 35h1V37H4zM4 77h1V78H4zM4 79h1V80H4zM4 81h1V82H4zM4 112h1V113H4zM4 136h1V137H4zM4 154h1V156H4zM4 158h1V159H4zM4 168h1V169H4zM4 182h1V183H4zM4 193h1V194H4zM4 200h1V201H4zM4 210h1V211H4zM4 220h1V221H4zM4 227h1V228H4zM4 234h1V235H4zM4 240h1V241H4zM4 250h1V251H4zM4 254h1V255H4zM4 263h1V264H4zM4 267h1V268H4zM4 300h1V301H4zM4 331h1V332H4z"/>
<path fill="rgb(252,254,197)" d="M0 7h1V8H0zM0 16h1V17H0zM0 19h1V20H0zM0 24h1V25H0zM0 56h1V57H0zM0 110h1V111H0zM0 141h1V142H0zM0 151h1V152H0zM0 155h1V156H0zM0 177h1V178H0zM0 204h1V205H0zM0 238h1V241H0zM0 279h1V280H0zM0 300h1V301H0zM0 314h1V315H0zM2 0h1V1H2zM2 2h1V4H2zM2 24h1V25H2zM2 28h1V31H2zM2 33h1V34H2zM2 45h1V46H2zM2 52h1V53H2zM2 54h1V55H2zM2 56h1V58H2zM2 60h1V62H2zM2 84h1V85H2zM2 93h1V94H2zM2 95h1V96H2zM2 105h1V106H2zM2 112h1V113H2zM2 117h1V118H2zM2 123h1V125H2zM2 131h1V133H2zM2 145h1V147H2zM2 154h1V155H2zM2 156h1V157H2zM2 183h1V184H2zM2 185h1V186H2zM2 189h1V190H2zM2 198h1V199H2zM2 204h1V206H2zM2 209h1V210H2zM2 214h1V215H2zM2 224h1V225H2zM2 230h1V231H2zM2 235h1V237H2zM2 238h1V239H2zM2 240h1V241H2zM2 245h1V246H2zM2 265h1V266H2zM2 268h1V269H2zM2 302h1V303H2zM2 312h1V313H2zM2 314h1V315H2zM2 316h1V317H2zM2 320h1V321H2zM2 333h1V334H2zM2 341h1V343H2zM2 349h1V350H2zM3 68h1V69H3zM3 78h1V79H3zM3 88h1V89H3zM3 103h1V104H3zM3 111h1V112H3zM3 176h1V177H3zM3 331h1V332H3zM4 6h1V7H4zM4 27h1V28H4zM4 39h1V40H4zM4 45h1V46H4zM4 59h1V60H4zM4 98h1V99H4zM4 119h1V120H4zM4 157h1V158H4zM4 183h1V184H4zM4 187h1V188H4zM4 190h1V191H4zM4 229h1V230H4zM4 249h1V250H4zM4 265h1V266H4zM4 271h1V272H4zM4 295h1V296H4zM4 339h1V340H4zM4 349h1V350H4z"/>
<path fill="rgb(255,252,186)" d="M0 18h1V19H0zM0 29h1V30H0zM0 75h1V76H0zM0 96h1V97H0zM0 103h1V104H0zM0 210h1V211H0zM0 223h1V224H0zM2 1h1V2H2zM2 7h1V8H2zM2 12h1V13H2zM2 18h1V19H2zM2 35h1V36H2zM2 46h1V47H2zM2 50h1V51H2zM2 53h1V54H2zM2 55h1V56H2zM2 67h1V68H2zM2 71h1V72H2zM2 75h1V76H2zM2 96h1V98H2zM2 99h1V100H2zM2 122h1V123H2zM2 135h1V136H2zM2 158h1V159H2zM2 165h1V166H2zM2 168h1V170H2zM2 179h1V182H2zM2 210h1V212H2zM2 233h1V234H2zM2 239h1V240H2zM2 242h1V243H2zM2 244h1V245H2zM2 249h1V251H2zM2 254h1V255H2zM2 264h1V265H2zM2 276h1V277H2zM2 282h1V283H2zM2 287h1V288H2zM2 291h1V292H2zM2 301h1V302H2zM2 330h1V331H2zM2 338h1V339H2zM2 344h1V345H2zM3 109h1V110H3zM3 131h1V132H3zM3 204h1V205H3zM3 308h1V309H3zM3 317h1V318H3zM3 320h1V321H3zM4 4h1V5H4zM4 16h1V17H4zM4 72h1V73H4zM4 75h1V76H4zM4 83h1V84H4zM4 130h1V131H4zM4 202h1V203H4zM4 228h1V229H4zM4 239h1V240H4zM4 255h1V256H4zM4 266h1V267H4zM4 282h1V283H4zM4 306h1V307H4zM4 309h1V310H4zM4 321h1V322H4zM4 329h1V330H4z"/>
<path fill="rgb(255,245,175)" d="M0 46h1V47H0zM0 135h1V136H0zM0 165h1V166H0zM0 187h1V188H0zM0 287h1V288H0zM0 294h1V295H0zM0 301h1V302H0zM0 331h1V332H0zM2 15h1V17H2zM2 26h1V27H2zM2 47h1V48H2zM2 65h1V66H2zM2 78h1V79H2zM2 92h1V93H2zM2 101h1V102H2zM2 108h1V109H2zM2 121h1V122H2zM2 142h1V144H2zM2 155h1V156H2zM2 173h1V174H2zM2 196h1V197H2zM2 208h1V209H2zM2 220h1V221H2zM2 228h1V229H2zM2 253h1V254H2zM2 257h1V258H2zM2 261h1V262H2zM2 275h1V276H2zM2 290h1V291H2zM2 305h1V306H2zM2 311h1V312H2zM2 315h1V316H2zM3 93h1V94H3zM3 101h1V102H3zM3 289h1V290H3zM3 347h1V348H3zM4 24h1V25H4zM4 49h1V50H4zM4 90h1V91H4zM4 184h1V185H4zM4 217h1V218H4zM4 238h1V239H4zM4 242h1V243H4zM4 278h1V279H4zM4 289h1V290H4zM4 297h1V298H4zM4 313h1V314H4zM4 338h1V339H4z"/>
<path fill="rgb(254,238,165)" d="M0 131h1V132H0zM0 182h1V183H0zM0 220h1V221H0zM2 44h1V45H2zM2 51h1V52H2zM2 59h1V60H2zM2 86h1V87H2zM2 88h1V89H2zM2 133h1V134H2zM2 144h1V145H2zM2 157h1V158H2zM2 176h1V177H2zM2 182h1V183H2zM2 194h1V195H2zM2 203h1V204H2zM2 216h1V217H2zM2 221h1V222H2zM2 231h1V232H2zM2 267h1V268H2zM2 308h1V309H2zM2 317h1V318H2zM2 326h1V327H2zM2 328h1V329H2zM2 332h1V333H2zM2 334h1V335H2zM2 346h1V347H2zM3 87h1V88H3zM3 175h1V176H3zM3 294h1V295H3zM3 297h1V298H3zM4 68h1V69H4zM4 94h1V95H4zM4 122h1V123H4zM4 211h1V212H4zM4 294h1V295H4zM4 337h1V338H4z"/>
<path fill="rgb(254,231,154)" d="M0 72h1V73H0zM0 128h1V129H0zM0 248h1V249H0zM2 10h1V11H2zM2 48h1V49H2zM2 63h1V64H2zM2 82h1V84H2zM2 85h1V86H2zM2 100h1V101H2zM2 109h1V110H2zM2 139h1V140H2zM2 153h1V154H2zM2 184h1V185H2zM2 187h1V188H2zM2 219h1V220H2zM2 256h1V257H2zM2 313h1V314H2zM3 75h1V76H3zM4 123h1V124H4z"/>
<path fill="rgb(254,224,144)" d="M2 22h1V23H2zM2 49h1V50H2zM2 72h1V73H2zM2 107h1V108H2zM2 118h1V119H2zM2 126h1V127H2zM2 202h1V203H2zM2 258h1V259H2zM4 132h1V133H4zM4 318h1V319H4z"/>
<path fill="rgb(254,206,132)" d="M2 17h1V18H2zM2 90h1V91H2zM2 94h1V95H2zM2 274h1V275H2zM2 292h1V293H2zM3 279h1V280H3zM4 108h1V109H4z"/>
<path fill="rgb(253,187,120)" d="M2 178h1V179H2zM2 289h1V290H2zM3 130h1V131H3z"/>
<path fill="rgb(253,169,107)" d="M2 13h1V14H2zM2 297h1V298H2z"/>
</g>
<rect x="1056.1" y="65.1" width="586.1" height="26.4" fill="#00d9e0"/>
<rect x="1651.8" y="65.1" width="209.2" height="26.4" fill="#fa8c84"/>
<defs><linearGradient id="hmcb" x1="0" y1="0" x2="0" y2="1"><stop offset="0.000" stop-color="rgb(215, 48, 39)"/><stop offset="0.167" stop-color="rgb(252, 141, 89)"/><stop offset="0.333" stop-color="rgb(254, 224, 144)"/><stop offset="0.500" stop-color="rgb(255, 255, 191)"/><stop offset="0.667" stop-color="rgb(224, 243, 248)"/><stop offset="0.833" stop-color="rgb(145, 191, 219)"/><stop offset="1.000" stop-color="rgb(69, 117, 180)"/></linearGradient></defs>
<rect x="1874.5" y="100.1" width="26.7" height="403" fill="url(#hmcb)"/>
<text x="1912" y="133" font-size="26">1.5</text>
<text x="1912" y="192.1" font-size="26">1</text>
<text x="1912" y="251.3" font-size="26">0.5</text>
<text x="1912" y="311.1" font-size="26">0</text>
<text x="1912" y="370" font-size="26">−0.5</text>
<text x="1912" y="429.2" font-size="26">−1</text>
<text x="1912" y="488.3" font-size="26">−1.5</text>
<text x="1870.2" y="87.9" font-size="26.3">Type</text>
<text x="1872.8" y="543.3" font-size="26.3">Type</text>
<rect x="1872" y="553.7" width="38.3" height="38.3" fill="#00d9e0"/>
<rect x="1872" y="592" width="38.3" height="38.3" fill="#fa8c84"/>
<text x="1918.7" y="581.7" font-size="26">Control</text>
<text x="1918.7" y="619.7" font-size="26">OP</text>
<text x="1050.5" y="40" font-size="32.5">(b)</text>
</svg>
</body></html>
